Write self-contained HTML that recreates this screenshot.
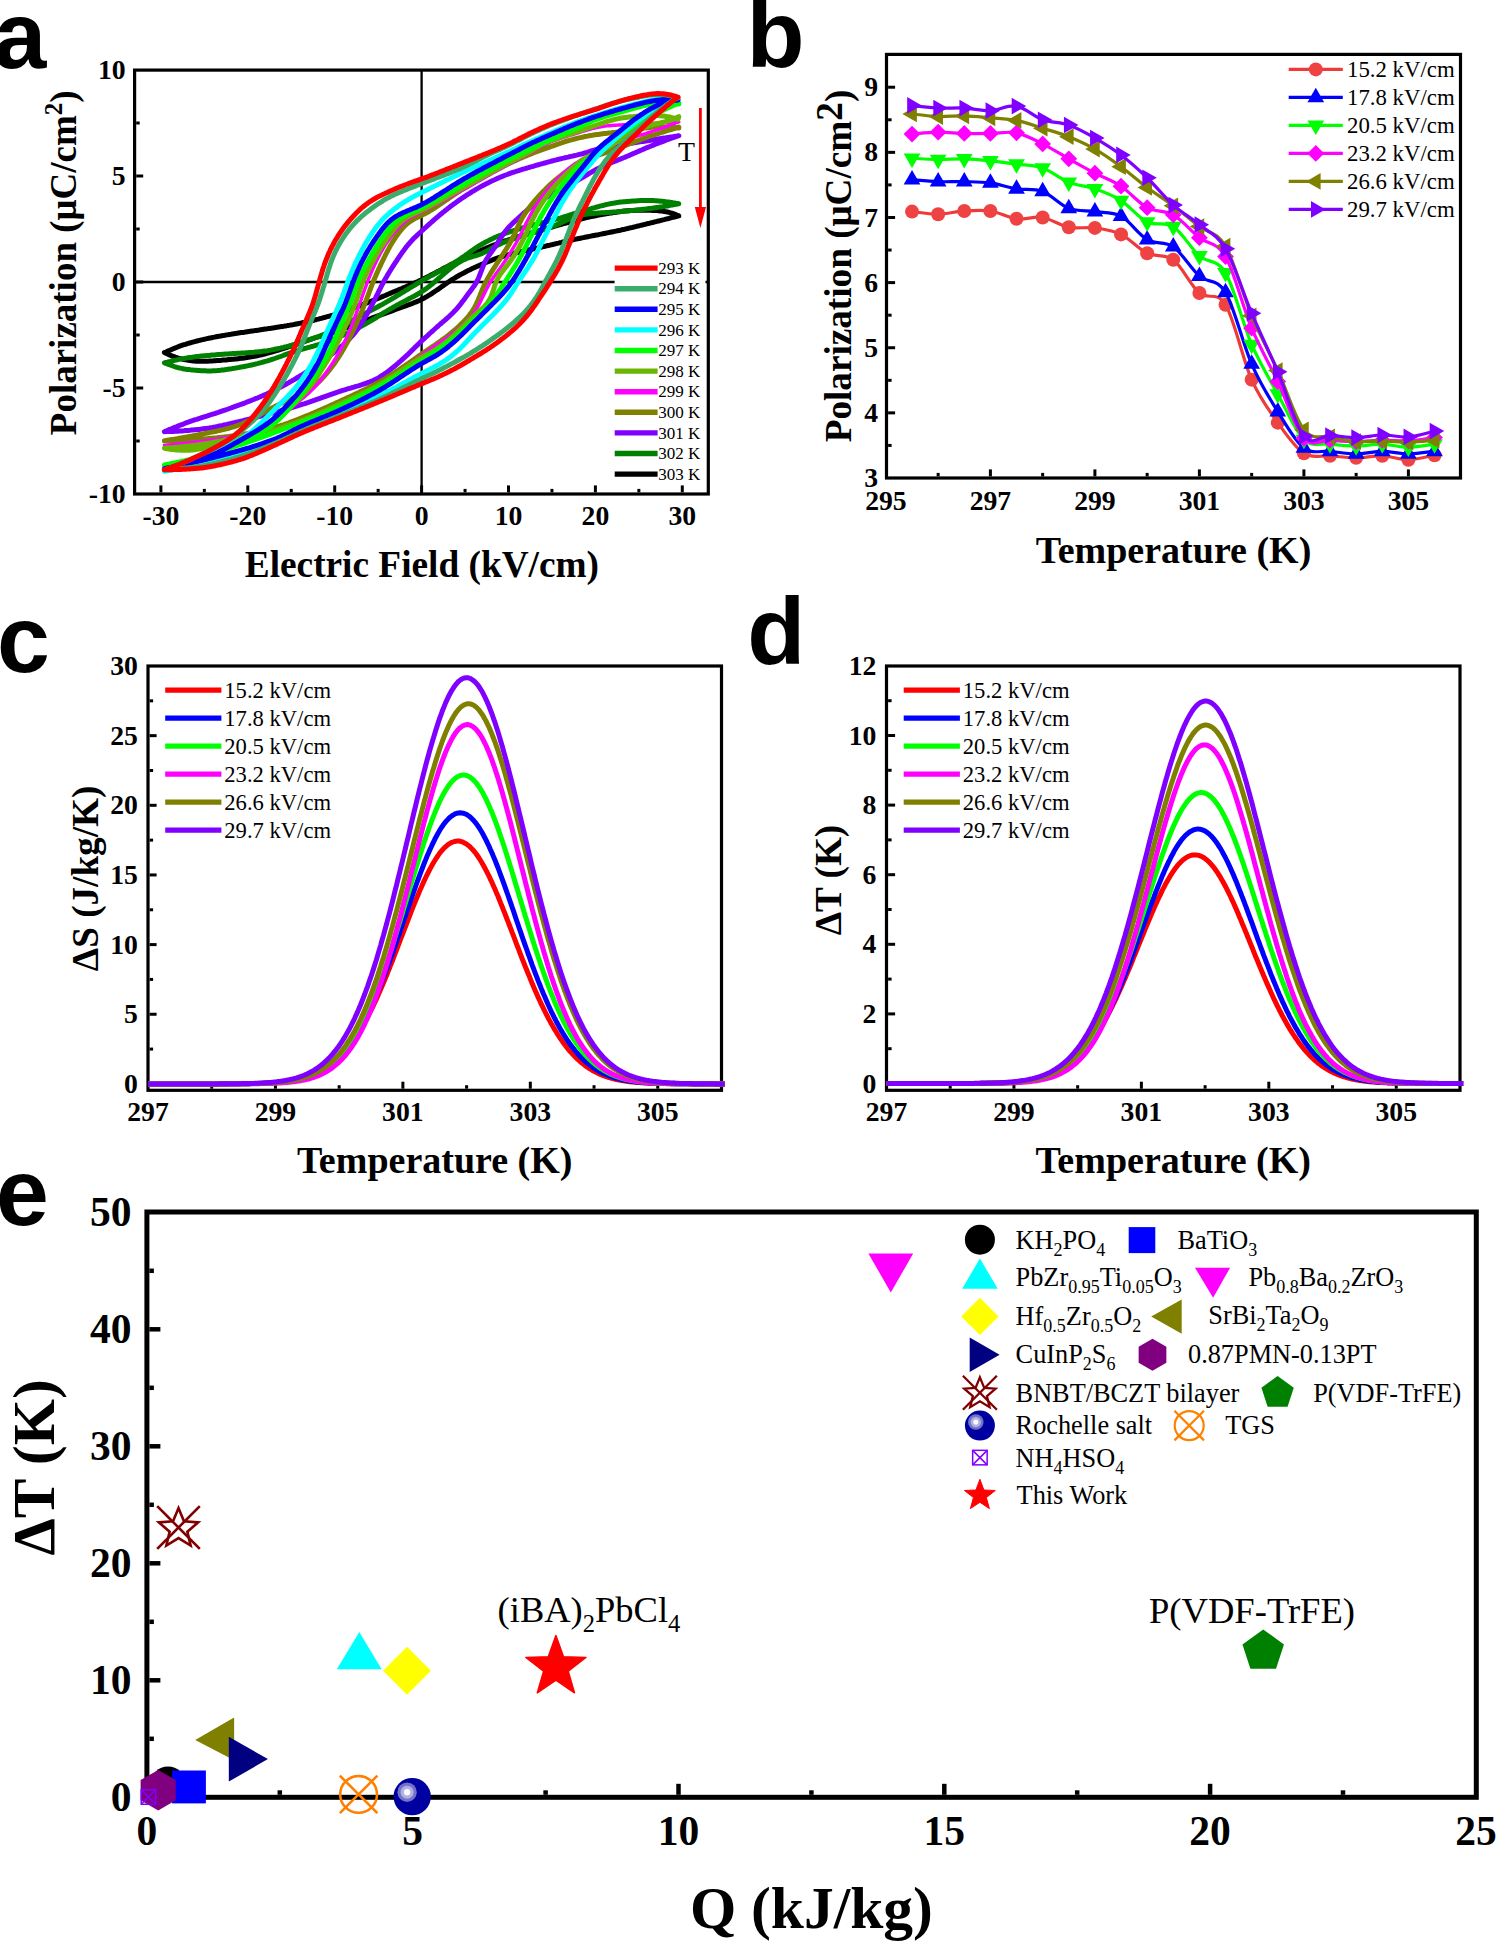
<!DOCTYPE html>
<html><head><meta charset="utf-8"><title>Figure</title>
<style>html,body{margin:0;padding:0;background:#fff;overflow:hidden}svg{display:block}</style>
</head><body>
<svg width="1496" height="1942" viewBox="0 0 1496 1942">
<rect x="0" y="0" width="1496" height="1942" fill="#fff"/>
<text x="-6.5" y="68" font-family="'Liberation Sans', sans-serif" font-size="95" font-weight="bold" text-anchor="start" fill="#000" >a</text>
<text x="746.5" y="67.3" font-family="'Liberation Sans', sans-serif" font-size="95" font-weight="bold" text-anchor="start" fill="#000" >b</text>
<text x="-3" y="672.3" font-family="'Liberation Sans', sans-serif" font-size="95" font-weight="bold" text-anchor="start" fill="#000" >c</text>
<text x="747.2" y="663.8" font-family="'Liberation Sans', sans-serif" font-size="95" font-weight="bold" text-anchor="start" fill="#000" >d</text>
<text x="-4" y="1224.5" font-family="'Liberation Sans', sans-serif" font-size="95" font-weight="bold" text-anchor="start" fill="#000" >e</text>
<line x1="134.6" y1="282" x2="708.3" y2="282" stroke="#000" stroke-width="2.3" stroke-linecap="butt"/>
<line x1="421.6" y1="70.1" x2="421.6" y2="494" stroke="#000" stroke-width="2.3" stroke-linecap="butt"/>
<path d="M678.8 215.9 677.4 215.3 676 214.7 674.6 214.2 673.2 213.7 671.8 213.2 670.4 212.8 669 212.4 667.5 212 666 211.7 664.6 211.5 663.1 211.2 661.6 211 660.1 210.9 658.6 210.7 657.1 210.6 655.6 210.5 654.1 210.4 652.6 210.4 651.1 210.3 649.6 210.3 648.1 210.2 646.6 210.2 645.1 210.2 643.6 210.2 642.1 210.2 640.5 210.2 639 210.2 637.5 210.3 636 210.3 634.5 210.4 633 210.4 631.5 210.5 630 210.6 628.5 210.7 627 210.8 625.5 210.9 624 211.1 622.5 211.3 621 211.5 619.5 211.7 618.1 211.9 616.6 212.2 615.1 212.4 613.6 212.6 612.1 212.9 610.6 213.1 609.1 213.3 607.6 213.6 606.2 213.8 604.7 214.1 603.2 214.3 601.7 214.6 600.2 214.8 598.7 215.1 597.3 215.4 595.8 215.7 594.3 216 592.8 216.3 591.3 216.6 589.9 216.9 588.4 217.2 586.9 217.6 585.5 217.9 584 218.3 582.5 218.6 581.1 219 579.6 219.4 578.2 219.7 576.7 220.1 575.3 220.5 573.8 220.9 572.3 221.3 570.9 221.7 569.4 222.1 568 222.5 566.5 222.9 565.1 223.3 563.6 223.7 562.2 224.1 560.7 224.5 559.3 224.9 557.8 225.3 556.4 225.7 554.9 226.2 553.5 226.6 552 227 550.6 227.4 549.1 227.8 547.7 228.2 546.2 228.7 544.8 229.1 543.3 229.5 541.9 229.9 540.4 230.3 539 230.7 537.5 231.1 536.1 231.5 534.6 232 533.2 232.4 531.7 232.8 530.3 233.2 528.8 233.6 527.4 234 526 234.5 524.5 234.9 523.1 235.3 521.6 235.7 520.2 236.2 518.7 236.6 517.3 237 515.9 237.5 514.4 237.9 513 238.4 511.5 238.9 510.1 239.3 508.7 239.8 507.2 240.3 505.8 240.7 504.4 241.2 503 241.7 501.6 242.2 500.1 242.7 498.7 243.3 497.3 243.8 495.9 244.3 494.5 244.8 493.1 245.4 491.7 245.9 490.3 246.5 488.9 247.1 487.5 247.7 486.1 248.2 484.7 248.8 483.3 249.4 482 250 480.6 250.6 479.2 251.2 477.8 251.8 476.4 252.5 475.1 253.1 473.7 253.7 472.3 254.3 471 255 469.6 255.6 468.2 256.2 466.9 256.9 465.5 257.5 464.1 258.2 462.8 258.8 461.4 259.5 460.1 260.1 458.7 260.8 457.4 261.4 456 262.1 454.6 262.8 453.3 263.4 452 264.1 450.6 264.8 449.3 265.5 447.9 266.2 446.6 266.9 445.3 267.6 443.9 268.3 442.6 269 441.3 269.7 439.9 270.4 438.6 271.1 437.3 271.8 436 272.5 434.6 273.2 433.3 273.9 432 274.6 430.6 275.3 429.3 276 427.9 276.7 426.6 277.4 425.2 278 423.9 278.7 422.5 279.4 421.2 280 419.8 280.6 418.4 281.3 417.1 281.9 415.7 282.5 414.3 283.1 412.9 283.7 411.6 284.3 410.2 284.9 408.8 285.5 407.4 286.1 406 286.7 404.6 287.3 403.2 287.9 401.8 288.5 400.5 289 399.1 289.6 397.7 290.2 396.3 290.8 394.9 291.4 393.5 291.9 392.1 292.5 390.7 293.1 389.3 293.7 387.9 294.3 386.6 294.9 385.2 295.5 383.8 296 382.4 296.6 381 297.2 379.6 297.8 378.2 298.4 376.8 298.9 375.4 299.5 374 300.1 372.6 300.6 371.2 301.2 369.8 301.8 368.4 302.3 367 302.9 365.6 303.4 364.2 304 362.8 304.5 361.4 305 360 305.6 358.6 306.1 357.2 306.6 355.8 307.2 354.4 307.7 353 308.2 351.5 308.8 350.1 309.3 348.7 309.8 347.3 310.3 345.9 310.8 344.5 311.3 343 311.8 341.6 312.3 340.2 312.8 338.8 313.3 337.3 313.7 335.9 314.2 334.4 314.6 333 315.1 331.6 315.5 330.1 315.9 328.7 316.3 327.2 316.7 325.8 317.1 324.3 317.5 322.9 317.9 321.4 318.3 319.9 318.7 318.5 319.1 317 319.4 315.6 319.8 314.1 320.2 312.6 320.5 311.2 320.9 309.7 321.2 308.2 321.5 306.8 321.9 305.3 322.2 303.8 322.5 302.3 322.8 300.9 323.1 299.4 323.4 297.9 323.7 296.4 324 295 324.3 293.5 324.6 292 324.9 290.5 325.1 289 325.4 287.5 325.6 286.1 325.9 284.6 326.1 283.1 326.4 281.6 326.6 280.1 326.8 278.6 327.1 277.1 327.3 275.6 327.5 274.1 327.8 272.7 328 271.2 328.2 269.7 328.4 268.2 328.6 266.7 328.9 265.2 329.1 263.7 329.3 262.2 329.5 260.7 329.7 259.2 330 257.8 330.2 256.3 330.4 254.8 330.6 253.3 330.9 251.8 331.1 250.3 331.3 248.8 331.5 247.3 331.7 245.8 331.9 244.3 332.2 242.8 332.4 241.3 332.6 239.9 332.8 238.4 333 236.9 333.3 235.4 333.5 233.9 333.7 232.4 333.9 230.9 334.2 229.4 334.4 227.9 334.7 226.5 334.9 225 335.2 223.5 335.4 222 335.7 220.5 336 219 336.2 217.6 336.5 216.1 336.8 214.6 337.1 213.1 337.4 211.7 337.7 210.2 338 208.7 338.3 207.2 338.6 205.8 338.9 204.3 339.3 202.8 339.6 201.4 339.9 199.9 340.3 198.4 340.6 197 341 195.5 341.4 194 341.8 192.6 342.2 191.1 342.6 189.7 343 188.2 343.4 186.8 343.8 185.4 344.3 183.9 344.7 182.5 345.2 181.1 345.7 179.7 346.2 178.3 346.7 176.8 347.3 175.4 347.8 174.1 348.4 172.7 349 171.3 349.6 169.9 350.2 168.5 350.8 167.1 351.4 165.8 352 164.4 352.6 165.7 353.2 167.1 353.8 168.5 354.5 169.9 355.1 171.2 355.6 172.6 356.2 174 356.7 175.5 357.2 176.9 357.6 178.3 358.1 179.8 358.5 181.2 358.8 182.7 359.2 184.1 359.5 185.6 359.8 187.1 360.1 188.6 360.3 190.1 360.6 191.5 360.8 193 360.9 194.5 361.1 196 361.2 197.5 361.2 199 361.3 200.5 361.3 202 361.3 203.5 361.3 205 361.3 206.5 361.2 208 361.2 209.5 361.1 211 361 212.5 360.9 214 360.8 215.5 360.7 217 360.6 218.5 360.5 220 360.4 221.5 360.3 223 360.1 224.5 360 226 359.9 227.5 359.7 229 359.6 230.5 359.5 232 359.3 233.5 359.2 235 359 236.5 358.9 238 358.7 239.5 358.5 241 358.3 242.5 358.2 244 358 245.5 357.8 247 357.5 248.5 357.3 249.9 357.1 251.4 356.8 252.9 356.6 254.4 356.3 255.9 356 257.3 355.7 258.8 355.4 260.3 355.1 261.7 354.8 263.2 354.4 264.7 354 266.1 353.6 267.6 353.2 269 352.8 270.5 352.4 271.9 352 273.3 351.6 274.8 351.2 276.2 350.7 277.7 350.3 279.1 349.8 280.5 349.4 282 348.9 283.4 348.5 284.8 348 286.3 347.6 287.7 347.1 289.1 346.7 290.6 346.2 292 345.7 293.4 345.3 294.9 344.8 296.3 344.3 297.7 343.8 299.1 343.3 300.6 342.9 302 342.4 303.4 341.9 304.8 341.4 306.2 340.9 307.7 340.4 309.1 339.9 310.5 339.4 311.9 339 313.4 338.5 314.8 338 316.2 337.5 317.6 337 319.1 336.6 320.5 336.1 321.9 335.6 323.4 335.2 324.8 334.7 326.2 334.3 327.7 333.8 329.1 333.3 330.5 332.9 332 332.4 333.4 331.9 334.8 331.5 336.2 331 337.7 330.5 339.1 330.1 340.5 329.6 342 329.1 343.4 328.6 344.8 328.1 346.2 327.6 347.6 327.1 349 326.6 350.5 326.1 351.9 325.5 353.3 325 354.7 324.5 356.1 324 357.5 323.4 358.9 322.9 360.3 322.4 361.7 321.9 363.1 321.4 364.6 320.8 366 320.3 367.4 319.8 368.8 319.3 370.2 318.8 371.6 318.2 373 317.7 374.5 317.2 375.9 316.7 377.3 316.2 378.7 315.7 380.1 315.2 381.5 314.7 382.9 314.2 384.4 313.6 385.8 313.1 387.2 312.6 388.6 312.1 390 311.6 391.4 311.1 392.8 310.6 394.3 310 395.7 309.5 397.1 309 398.5 308.5 399.9 308 401.3 307.5 402.7 307 404.2 306.5 405.6 306 407 305.4 408.4 304.9 409.8 304.4 411.2 303.8 412.6 303.3 414 302.7 415.4 302.2 416.8 301.6 418.2 301 419.5 300.4 420.9 299.7 422.2 299 423.6 298.4 424.9 297.7 426.2 296.9 427.5 296.2 428.8 295.4 430.1 294.6 431.3 293.8 432.6 293 433.8 292.2 435.1 291.3 436.3 290.5 437.6 289.6 438.8 288.8 440 287.9 441.3 287 442.5 286.1 443.7 285.3 444.9 284.4 446.2 283.6 447.4 282.7 448.7 281.9 449.9 281 451.2 280.2 452.4 279.4 453.7 278.6 455 277.8 456.3 277 457.6 276.3 458.9 275.5 460.2 274.8 461.5 274.1 462.8 273.4 464.2 272.7 465.5 272 466.8 271.3 468.2 270.6 469.5 270 470.9 269.3 472.3 268.6 473.6 268 475 267.4 476.3 266.7 477.7 266.1 479.1 265.5 480.5 264.9 481.8 264.3 483.2 263.7 484.6 263.1 486 262.5 487.4 261.9 488.8 261.4 490.2 260.8 491.6 260.3 493 259.7 494.4 259.2 495.8 258.7 497.2 258.2 498.6 257.7 500.1 257.2 501.5 256.8 502.9 256.4 504.4 255.9 505.8 255.5 507.3 255.1 508.7 254.7 510.2 254.3 511.6 254 513.1 253.6 514.5 253.2 516 252.9 517.5 252.5 518.9 252.2 520.4 251.8 521.9 251.5 523.3 251.1 524.8 250.8 526.3 250.5 527.7 250.2 529.2 249.8 530.7 249.5 532.1 249.2 533.6 248.9 535.1 248.5 536.5 248.2 538 247.9 539.5 247.5 541 247.2 542.4 246.9 543.9 246.5 545.3 246.2 546.8 245.8 548.3 245.5 549.7 245.2 551.2 244.8 552.7 244.5 554.1 244.1 555.6 243.8 557.1 243.4 558.5 243.1 560 242.7 561.5 242.4 562.9 242 564.4 241.7 565.9 241.4 567.3 241 568.8 240.7 570.3 240.4 571.7 240 573.2 239.7 574.7 239.4 576.1 239.1 577.6 238.8 579.1 238.5 580.5 238.2 582 237.9 583.5 237.6 585 237.3 586.4 237 587.9 236.7 589.4 236.4 590.9 236.1 592.4 235.8 593.8 235.5 595.3 235.2 596.8 234.9 598.3 234.7 599.7 234.4 601.2 234.1 602.7 233.8 604.2 233.5 605.6 233.2 607.1 232.9 608.6 232.6 610.1 232.3 611.5 232 613 231.7 614.5 231.4 616 231.1 617.4 230.8 618.9 230.5 620.4 230.2 621.8 229.8 623.3 229.5 624.8 229.2 626.2 228.8 627.7 228.5 629.2 228.1 630.6 227.8 632.1 227.5 633.6 227.1 635 226.8 636.5 226.4 637.9 226 639.4 225.7 640.9 225.3 642.3 225 643.8 224.6 645.3 224.3 646.7 223.9 648.2 223.5 649.6 223.2 651.1 222.8 652.6 222.5 654 222.1 655.5 221.7 656.9 221.4 658.4 221 659.9 220.7 661.3 220.3 662.8 219.9 664.2 219.6 665.7 219.2 667.2 218.8 668.6 218.5 670.1 218.1 671.5 217.7 673 217.3 674.5 217 675.9 216.6 677.4 216.2 678.8 215.9 Z" fill="none" stroke="#000000" stroke-width="5" stroke-linejoin="round" stroke-linecap="round" />
<path d="M678.8 203.8 677.3 203.5 675.9 203.3 674.4 203 672.9 202.8 671.4 202.5 669.9 202.3 668.4 202.1 666.9 201.9 665.5 201.7 664 201.5 662.5 201.3 661 201.2 659.5 201 658 200.9 656.5 200.8 655 200.7 653.5 200.6 652 200.6 650.5 200.5 649 200.5 647.5 200.5 646 200.5 644.5 200.5 643 200.5 641.5 200.6 640 200.6 638.5 200.7 637 200.8 635.4 200.9 633.9 201 632.4 201.1 630.9 201.2 629.4 201.3 627.9 201.4 626.5 201.5 625 201.7 623.5 201.8 622 202 620.5 202.1 619 202.3 617.5 202.5 616 202.7 614.5 203 613 203.2 611.6 203.5 610.1 203.8 608.6 204.1 607.1 204.4 605.7 204.7 604.2 205.1 602.8 205.5 601.3 205.8 599.9 206.2 598.4 206.6 596.9 207 595.5 207.4 594.1 207.8 592.6 208.2 591.2 208.7 589.7 209.1 588.3 209.5 586.8 209.9 585.4 210.3 583.9 210.7 582.5 211.1 581 211.6 579.6 212 578.2 212.4 576.7 212.9 575.3 213.3 573.8 213.7 572.4 214.2 571 214.6 569.5 215.1 568.1 215.6 566.7 216 565.2 216.5 563.8 216.9 562.4 217.3 560.9 217.8 559.5 218.2 558 218.6 556.6 219 555.1 219.5 553.7 219.9 552.2 220.2 550.8 220.6 549.3 221 547.9 221.4 546.4 221.7 545 222.1 543.5 222.5 542 222.8 540.6 223.2 539.1 223.5 537.7 223.9 536.2 224.2 534.7 224.6 533.3 225 531.8 225.3 530.4 225.7 528.9 226.1 527.5 226.5 526 226.9 524.6 227.3 523.1 227.7 521.7 228.1 520.2 228.6 518.8 229 517.3 229.4 515.9 229.9 514.5 230.3 513 230.8 511.6 231.2 510.2 231.7 508.8 232.2 507.3 232.7 505.9 233.2 504.5 233.7 503.1 234.2 501.7 234.8 500.3 235.3 498.9 235.9 497.5 236.4 496.1 237 494.8 237.6 493.4 238.3 492 238.9 490.7 239.5 489.3 240.2 488 240.9 486.6 241.6 485.3 242.3 484 243 482.7 243.7 481.4 244.5 480.1 245.3 478.8 246 477.5 246.8 476.3 247.7 475 248.5 473.8 249.3 472.5 250.2 471.3 251.1 470.1 251.9 468.9 252.8 467.7 253.7 466.4 254.6 465.2 255.5 464 256.3 462.8 257.2 461.5 258 460.3 258.9 459 259.7 457.8 260.6 456.5 261.4 455.2 262.2 454 263 452.7 263.7 451.4 264.5 450.1 265.3 448.8 266 447.5 266.7 446.2 267.5 444.9 268.2 443.5 268.9 442.2 269.7 440.9 270.4 439.6 271.1 438.3 271.8 436.9 272.5 435.6 273.3 434.3 274 433 274.7 431.6 275.4 430.3 276.1 429 276.8 427.7 277.6 426.4 278.3 425.1 279 423.7 279.8 422.4 280.5 421.1 281.3 419.8 282 418.5 282.8 417.2 283.5 415.9 284.3 414.7 285.1 413.4 285.9 412.1 286.6 410.8 287.4 409.5 288.2 408.2 289 406.9 289.8 405.6 290.5 404.4 291.3 403.1 292.1 401.8 292.9 400.5 293.7 399.2 294.5 397.9 295.2 396.7 296 395.4 296.8 394.1 297.6 392.8 298.3 391.5 299.1 390.2 299.9 388.9 300.6 387.6 301.4 386.3 302.1 385 302.9 383.7 303.6 382.4 304.4 381.1 305.1 379.7 305.8 378.4 306.5 377.1 307.2 375.8 307.9 374.4 308.6 373.1 309.3 371.8 310 370.4 310.7 369.1 311.4 367.8 312.1 366.4 312.8 365.1 313.6 363.8 314.3 362.5 315 361.1 315.7 359.8 316.4 358.5 317.1 357.2 317.9 355.9 318.6 354.6 319.3 353.2 320 351.9 320.8 350.6 321.5 349.3 322.2 348 323 346.6 323.7 345.3 324.4 344 325.1 342.7 325.8 341.3 326.5 340 327.2 338.6 327.8 337.3 328.5 336 329.2 334.6 329.8 333.2 330.5 331.9 331.1 330.5 331.8 329.1 332.4 327.8 333 326.4 333.6 325 334.1 323.6 334.7 322.2 335.2 320.8 335.7 319.4 336.3 318 336.8 316.5 337.2 315.1 337.7 313.7 338.2 312.3 338.7 310.8 339.1 309.4 339.6 308 340.1 306.5 340.5 305.1 341 303.7 341.4 302.2 341.9 300.8 342.4 299.4 342.8 297.9 343.3 296.5 343.7 295.1 344.2 293.6 344.6 292.2 345 290.7 345.5 289.3 345.9 287.8 346.3 286.4 346.7 284.9 347 283.5 347.4 282 347.7 280.6 348.1 279.1 348.4 277.6 348.7 276.1 349 274.7 349.3 273.2 349.6 271.7 349.9 270.2 350.2 268.8 350.4 267.3 350.7 265.8 350.9 264.3 351.1 262.8 351.3 261.3 351.5 259.8 351.7 258.3 351.8 256.8 352 255.3 352.1 253.8 352.3 252.3 352.4 250.8 352.5 249.3 352.6 247.8 352.7 246.3 352.8 244.8 352.9 243.3 353 241.8 353.1 240.3 353.2 238.8 353.3 237.3 353.3 235.8 353.4 234.3 353.5 232.8 353.6 231.3 353.7 229.8 353.8 228.3 353.9 226.8 354 225.3 354.1 223.8 354.2 222.3 354.3 220.8 354.4 219.3 354.5 217.8 354.6 216.3 354.7 214.8 354.9 213.3 355 211.8 355.1 210.3 355.2 208.8 355.4 207.3 355.5 205.8 355.7 204.3 355.8 202.8 356 201.3 356.1 199.8 356.3 198.4 356.5 196.9 356.6 195.4 356.8 193.9 357 192.4 357.2 190.9 357.4 189.4 357.6 187.9 357.8 186.4 358.1 185 358.3 183.5 358.6 182 358.9 180.5 359.1 179 359.4 177.6 359.7 176.1 360.1 174.6 360.4 173.2 360.7 171.7 361 170.2 361.4 168.8 361.7 167.3 362.1 165.8 362.4 164.4 362.8 165.8 363.3 167.2 363.9 168.6 364.5 170 365 171.4 365.5 172.8 366 174.2 366.5 175.6 367 177.1 367.4 178.5 367.8 180 368.1 181.5 368.4 182.9 368.7 184.4 369 185.9 369.2 187.4 369.4 188.9 369.6 190.4 369.8 191.9 369.9 193.4 370.1 194.9 370.2 196.4 370.3 197.9 370.5 199.4 370.6 200.9 370.7 202.4 370.7 203.9 370.8 205.4 370.8 206.9 370.9 208.4 370.9 209.9 370.9 211.4 370.9 212.9 370.8 214.4 370.7 215.9 370.7 217.4 370.6 218.9 370.4 220.4 370.3 221.9 370.1 223.4 370 224.9 369.8 226.4 369.6 227.9 369.3 229.4 369.1 230.9 368.9 232.3 368.6 233.8 368.4 235.3 368.1 236.8 367.9 238.3 367.6 239.8 367.3 241.2 367 242.7 366.8 244.2 366.5 245.7 366.2 247.2 365.9 248.6 365.6 250.1 365.3 251.6 365 253 364.6 254.5 364.3 256 363.9 257.4 363.6 258.9 363.2 260.4 362.8 261.8 362.4 263.3 362 264.7 361.6 266.2 361.2 267.6 360.8 269 360.3 270.5 359.9 271.9 359.4 273.3 359 274.8 358.5 276.2 358 277.6 357.5 279 357 280.5 356.5 281.9 356 283.3 355.5 284.7 354.9 286.1 354.4 287.5 353.9 289 353.4 290.4 352.9 291.8 352.4 293.2 351.9 294.7 351.5 296.1 351 297.5 350.6 299 350.1 300.4 349.7 301.9 349.3 303.3 348.9 304.8 348.5 306.2 348.1 307.7 347.7 309.1 347.3 310.6 346.9 312 346.5 313.5 346.1 314.9 345.6 316.4 345.2 317.8 344.8 319.3 344.4 320.7 343.9 322.1 343.4 323.5 343 325 342.5 326.4 342 327.8 341.5 329.2 340.9 330.6 340.4 332 339.9 333.4 339.3 334.8 338.7 336.2 338.2 337.6 337.6 339 337 340.4 336.4 341.7 335.8 343.1 335.2 344.5 334.5 345.9 333.9 347.2 333.3 348.6 332.6 349.9 332 351.3 331.3 352.7 330.7 354 330 355.4 329.3 356.7 328.6 358 328 359.4 327.3 360.7 326.6 362 325.9 363.4 325.1 364.7 324.4 366 323.7 367.3 322.9 368.6 322.2 369.9 321.4 371.2 320.7 372.5 319.9 373.8 319.1 375.1 318.3 376.4 317.5 377.6 316.7 378.9 315.9 380.2 315.1 381.5 314.3 382.7 313.5 384 312.7 385.3 311.9 386.6 311.2 387.9 310.4 389.2 309.6 390.5 308.8 391.8 308.1 393.1 307.3 394.4 306.6 395.7 305.9 397 305.1 398.4 304.4 399.7 303.7 401 303 402.4 302.3 403.7 301.6 405 300.9 406.4 300.2 407.7 299.5 409 298.8 410.4 298.1 411.7 297.4 413 296.7 414.4 296 415.7 295.3 417 294.5 418.3 293.8 419.6 293 420.8 292.2 422.1 291.4 423.4 290.6 424.6 289.7 425.8 288.9 427.1 288 428.3 287.1 429.5 286.2 430.6 285.2 431.8 284.3 433 283.3 434.1 282.4 435.3 281.4 436.4 280.4 437.6 279.4 438.7 278.4 439.8 277.4 441 276.5 442.1 275.5 443.2 274.5 444.4 273.5 445.5 272.5 446.7 271.5 447.8 270.6 449 269.6 450.1 268.6 451.3 267.7 452.5 266.8 453.7 265.9 454.9 265 456.2 264.2 457.4 263.3 458.7 262.5 460 261.8 461.3 261 462.6 260.3 463.9 259.7 465.3 259.1 466.7 258.5 468.1 258 469.5 257.5 470.9 257.1 472.4 256.6 473.8 256.2 475.2 255.8 476.7 255.3 478.1 254.8 479.5 254.3 480.9 253.8 482.3 253.3 483.7 252.6 485 252 486.4 251.3 487.7 250.6 489 249.9 490.3 249.2 491.6 248.4 492.9 247.7 494.2 247 495.6 246.3 496.9 245.6 498.2 244.9 499.6 244.2 501 243.6 502.3 243 503.7 242.4 505.1 241.9 506.5 241.3 507.9 240.8 509.3 240.3 510.8 239.8 512.2 239.3 513.6 238.8 515 238.3 516.5 237.9 517.9 237.4 519.3 237 520.8 236.5 522.2 236.1 523.7 235.6 525.1 235.2 526.6 234.8 528 234.4 529.5 233.9 530.9 233.5 532.3 233.1 533.8 232.7 535.2 232.2 536.7 231.8 538.1 231.4 539.6 230.9 541 230.5 542.4 230 543.9 229.6 545.3 229.1 546.7 228.6 548.1 228.1 549.6 227.6 551 227.1 552.4 226.5 553.8 226 555.2 225.4 556.6 224.8 557.9 224.2 559.3 223.6 560.7 223 562 222.3 563.4 221.7 564.8 221.1 566.1 220.4 567.5 219.8 568.9 219.2 570.3 218.6 571.6 218 573 217.5 574.5 217 575.9 216.5 577.3 216.1 578.7 215.6 580.2 215.3 581.7 215 583.1 214.7 584.6 214.4 586.1 214.2 587.6 214 589.1 213.8 590.6 213.7 592.1 213.5 593.6 213.4 595.1 213.3 596.6 213.2 598.1 213 599.6 212.9 601.1 212.8 602.6 212.7 604.1 212.7 605.6 212.6 607.1 212.5 608.6 212.4 610.1 212.3 611.6 212.2 613.1 212.1 614.6 212 616.1 211.9 617.6 211.8 619.1 211.7 620.6 211.5 622.1 211.4 623.6 211.3 625.1 211.1 626.6 211 628.1 210.9 629.6 210.7 631.1 210.6 632.6 210.5 634.1 210.3 635.6 210.2 637.1 210 638.6 209.8 640.1 209.7 641.6 209.5 643.1 209.3 644.6 209.2 646.1 209 647.6 208.8 649.1 208.6 650.6 208.4 652.1 208.2 653.6 208 655.1 207.8 656.6 207.6 658 207.4 659.5 207.1 661 206.9 662.5 206.7 664 206.4 665.5 206.2 667 205.9 668.5 205.7 669.9 205.4 671.4 205.1 672.9 204.9 674.4 204.6 675.9 204.3 677.3 204 678.8 203.8 Z" fill="none" stroke="#008000" stroke-width="5" stroke-linejoin="round" stroke-linecap="round" />
<path d="M678.8 135.7 677.3 136 675.8 136.2 674.4 136.4 672.9 136.7 671.4 136.9 669.9 137.1 668.4 137.4 666.9 137.6 665.4 137.9 663.9 138.1 662.5 138.3 661 138.6 659.5 138.8 658 139 656.5 139.3 655 139.5 653.5 139.7 652 140 650.6 140.2 649.1 140.5 647.6 140.7 646.1 140.9 644.6 141.2 643.1 141.4 641.6 141.6 640.1 141.9 638.7 142.1 637.2 142.3 635.7 142.6 634.2 142.8 632.7 143 631.2 143.3 629.7 143.5 628.2 143.8 626.7 144 625.3 144.2 623.8 144.5 622.3 144.7 620.8 144.9 619.3 145.2 617.8 145.4 616.3 145.7 614.9 145.9 613.4 146.2 611.9 146.4 610.4 146.7 608.9 146.9 607.4 147.2 605.9 147.4 604.5 147.7 603 148 601.5 148.3 600 148.6 598.6 149 597.1 149.3 595.7 149.7 594.2 150.1 592.8 150.5 591.3 150.9 589.9 151.4 588.5 151.8 587 152.3 585.6 152.7 584.1 153.1 582.7 153.6 581.2 154 579.8 154.3 578.3 154.7 576.9 155.1 575.4 155.4 573.9 155.8 572.5 156.1 571 156.4 569.5 156.7 568.1 157.1 566.6 157.4 565.1 157.7 563.6 158.1 562.2 158.4 560.7 158.8 559.2 159.1 557.8 159.5 556.3 159.9 554.9 160.2 553.4 160.6 552 161 550.5 161.4 549 161.8 547.6 162.2 546.1 162.6 544.7 163 543.2 163.4 541.8 163.8 540.3 164.2 538.9 164.6 537.4 165 536 165.4 534.5 165.8 533.1 166.3 531.6 166.7 530.2 167.1 528.8 167.5 527.3 168 525.9 168.4 524.4 168.8 523 169.2 521.5 169.7 520.1 170.1 518.7 170.6 517.2 171 515.8 171.5 514.4 172 512.9 172.4 511.5 172.9 510.1 173.4 508.7 173.9 507.3 174.5 505.8 175 504.4 175.5 503 176.1 501.7 176.7 500.3 177.2 498.9 177.8 497.5 178.4 496.1 179 494.7 179.7 493.4 180.3 492 180.9 490.7 181.6 489.3 182.3 488 182.9 486.6 183.6 485.3 184.3 483.9 185 482.6 185.7 481.3 186.4 480 187.1 478.7 187.9 477.4 188.6 476 189.4 474.8 190.2 473.5 190.9 472.2 191.7 470.9 192.5 469.6 193.3 468.3 194.1 467.1 194.9 465.8 195.7 464.5 196.6 463.3 197.4 462 198.2 460.8 199.1 459.6 199.9 458.3 200.8 457.1 201.7 455.9 202.5 454.7 203.4 453.4 204.3 452.2 205.2 451 206.1 449.8 207 448.6 207.9 447.4 208.9 446.2 209.8 445.1 210.7 443.9 211.7 442.7 212.6 441.6 213.6 440.4 214.5 439.2 215.5 438.1 216.5 436.9 217.4 435.8 218.4 434.6 219.4 433.5 220.4 432.4 221.4 431.3 222.4 430.1 223.4 429 224.4 427.9 225.4 426.8 226.4 425.7 227.4 424.5 228.4 423.4 229.4 422.3 230.5 421.2 231.5 420.1 232.5 419 233.5 417.9 234.5 416.8 235.6 415.7 236.6 414.6 237.7 413.5 238.7 412.5 239.8 411.5 240.9 410.5 242 409.5 243.1 408.5 244.3 407.5 245.4 406.6 246.6 405.7 247.8 404.8 249 403.9 250.2 403 251.4 402.1 252.6 401.2 253.9 400.4 255.1 399.5 256.4 398.7 257.6 397.8 258.9 397 260.1 396.2 261.4 395.3 262.6 394.5 263.9 393.7 265.1 392.9 266.4 392.1 267.7 391.3 268.9 390.5 270.2 389.7 271.5 388.9 272.8 388.1 274.1 387.3 275.4 386.6 276.7 385.8 278 385.1 279.3 384.3 280.6 383.6 281.9 382.9 283.3 382.2 284.6 381.5 285.9 380.8 287.3 380.2 288.6 379.5 290 378.8 291.3 378.2 292.7 377.5 294 376.8 295.4 376.2 296.7 375.5 298.1 374.8 299.4 374.1 300.8 373.4 302.1 372.7 303.4 372 304.8 371.3 306.1 370.6 307.4 369.9 308.7 369.2 310.1 368.5 311.4 367.7 312.7 367 314 366.3 315.3 365.5 316.6 364.8 317.9 364 319.2 363.2 320.5 362.4 321.8 361.7 323.1 360.8 324.4 360 325.6 359.2 326.9 358.3 328.1 357.5 329.3 356.6 330.5 355.6 331.7 354.7 332.9 353.7 334.1 352.8 335.2 351.8 336.3 350.7 337.4 349.7 338.5 348.7 339.6 347.6 340.7 346.5 341.7 345.4 342.7 344.3 343.7 343.2 344.8 342 345.8 340.9 346.7 339.8 347.7 338.6 348.7 337.5 349.6 336.3 350.6 335.1 351.6 334 352.5 332.8 353.4 331.6 354.4 330.4 355.3 329.2 356.2 328 357.1 326.8 358 325.6 358.9 324.4 359.8 323.2 360.7 322 361.6 320.7 362.5 319.5 363.4 318.3 364.2 317 365.1 315.8 365.9 314.5 366.8 313.3 367.6 312 368.4 310.8 369.3 309.5 370.1 308.2 370.9 307 371.7 305.7 372.5 304.4 373.3 303.2 374.1 301.9 374.9 300.6 375.7 299.3 376.5 298 377.3 296.7 378 295.4 378.8 294.1 379.6 292.8 380.3 291.5 381.1 290.2 381.8 288.9 382.6 287.6 383.3 286.3 384 285 384.8 283.6 385.5 282.3 386.2 281 386.9 279.6 387.6 278.3 388.3 277 389 275.6 389.7 274.3 390.3 272.9 391 271.6 391.6 270.2 392.3 268.8 392.9 267.5 393.6 266.1 394.2 264.7 394.8 263.3 395.4 262 396 260.6 396.6 259.2 397.2 257.8 397.8 256.4 398.3 255 398.9 253.6 399.5 252.2 400 250.8 400.6 249.4 401.1 248 401.7 246.6 402.2 245.2 402.8 243.8 403.3 242.4 403.8 241 404.3 239.5 404.9 238.1 405.4 236.7 405.9 235.3 406.4 233.9 406.9 232.5 407.4 231 408 229.6 408.5 228.2 409 226.8 409.5 225.4 410 223.9 410.4 222.5 410.9 221.1 411.4 219.7 411.9 218.2 412.4 216.8 412.8 215.4 413.3 213.9 413.8 212.5 414.2 211.1 414.7 209.6 415.1 208.2 415.6 206.8 416.1 205.3 416.5 203.9 417 202.4 417.4 201 417.9 199.6 418.3 198.1 418.8 196.7 419.3 195.3 419.7 193.9 420.2 192.4 420.7 191 421.2 189.6 421.7 188.2 422.2 186.7 422.7 185.3 423.2 183.9 423.8 182.5 424.3 181.1 424.8 179.7 425.4 178.3 425.9 176.9 426.5 175.5 427 174.1 427.6 172.7 428.2 171.3 428.8 169.9 429.3 168.5 429.9 167.2 430.5 165.8 431.1 164.4 431.7 165.9 431.6 167.4 431.6 168.9 431.6 170.4 431.5 171.9 431.5 173.4 431.4 174.9 431.3 176.4 431.3 177.9 431.2 179.4 431.1 180.9 431 182.4 430.9 183.9 430.8 185.4 430.6 186.9 430.5 188.4 430.4 189.9 430.3 191.4 430.1 192.9 430 194.4 429.8 195.9 429.7 197.4 429.5 198.9 429.4 200.4 429.2 201.9 429 203.4 428.8 204.9 428.6 206.4 428.4 207.9 428.2 209.4 428 210.8 427.7 212.3 427.5 213.8 427.2 215.3 426.9 216.8 426.6 218.2 426.3 219.7 426 221.2 425.7 222.6 425.4 224.1 425 225.6 424.7 227 424.4 228.5 424 230 423.7 231.4 423.3 232.9 423 234.4 422.6 235.8 422.3 237.3 422 238.8 421.6 240.2 421.3 241.7 420.9 243.2 420.6 244.6 420.2 246.1 419.8 247.6 419.5 249 419.1 250.5 418.8 251.9 418.4 253.4 418 254.9 417.6 256.3 417.3 257.8 416.9 259.2 416.5 260.7 416.1 262.1 415.8 263.6 415.4 265.1 415 266.5 414.6 268 414.2 269.4 413.8 270.9 413.4 272.3 413 273.8 412.7 275.2 412.3 276.7 411.9 278.1 411.5 279.6 411.1 281 410.7 282.5 410.3 283.9 409.9 285.4 409.4 286.8 409 288.3 408.6 289.7 408.2 291.2 407.8 292.6 407.4 294.1 406.9 295.5 406.5 297 406 298.4 405.6 299.8 405.2 301.3 404.7 302.7 404.2 304.1 403.8 305.6 403.3 307 402.8 308.4 402.4 309.8 401.9 311.3 401.4 312.7 400.9 314.1 400.4 315.5 399.9 316.9 399.4 318.4 398.9 319.8 398.4 321.2 397.9 322.6 397.3 324 396.8 325.5 396.3 326.9 395.8 328.3 395.3 329.7 394.8 331.1 394.3 332.5 393.8 334 393.3 335.4 392.8 336.8 392.3 338.2 391.9 339.7 391.4 341.1 390.9 342.5 390.5 344 390 345.4 389.6 346.9 389.1 348.3 388.7 349.8 388.3 351.2 387.9 352.6 387.5 354.1 387 355.5 386.6 357 386.2 358.4 385.8 359.9 385.3 361.3 384.9 362.7 384.4 364.2 383.9 365.6 383.5 367 382.9 368.4 382.4 369.8 381.9 371.2 381.3 372.6 380.7 373.9 380.1 375.3 379.4 376.6 378.8 377.9 378.1 379.3 377.3 380.5 376.5 381.8 375.7 383.1 374.9 384.3 374.1 385.5 373.2 386.8 372.3 388 371.4 389.2 370.5 390.3 369.6 391.5 368.7 392.7 367.7 393.9 366.8 395 365.8 396.2 364.8 397.3 363.9 398.5 362.9 399.6 361.9 400.8 360.9 401.9 359.9 403 358.9 404.1 357.9 405.2 356.9 406.3 355.9 407.4 354.8 408.5 353.8 409.6 352.7 410.6 351.7 411.7 350.6 412.8 349.6 413.9 348.5 414.9 347.4 416 346.4 417.1 345.3 418.2 344.3 419.3 343.2 420.3 342.2 421.4 341.2 422.5 340.1 423.6 339.1 424.7 338.1 425.8 337.1 427 336.1 428.1 335.1 429.2 334 430.3 333 431.4 332 432.6 331 433.7 330 434.8 329 435.9 328 437 327 438.2 326 439.3 325 440.4 324 441.6 323 442.7 322 443.8 321.1 445 320.1 446.1 319.1 447.2 318.1 448.4 317.1 449.5 316.1 450.6 315 451.7 314 452.7 313 453.8 311.9 454.8 310.8 455.9 309.7 456.9 308.6 457.9 307.5 458.8 306.3 459.8 305.1 460.7 304 461.6 302.8 462.5 301.6 463.4 300.4 464.3 299.2 465.2 298 466.1 296.7 467 295.5 467.9 294.3 468.8 293.1 469.7 291.9 470.6 290.7 471.5 289.5 472.4 288.3 473.3 287.1 474.2 285.9 475 284.6 475.8 283.4 476.5 282.1 477.2 280.8 477.9 279.4 478.5 278.1 479.1 276.7 479.7 275.3 480.2 273.9 480.7 272.5 481.3 271.1 481.8 269.7 482.3 268.3 482.8 266.9 483.4 265.5 484 264.1 484.6 262.8 485.3 261.4 486 260.1 486.8 258.8 487.6 257.6 488.4 256.3 489.2 255.1 490.1 253.9 491 252.6 491.9 251.4 492.7 250.2 493.6 249 494.5 247.8 495.3 246.5 496.1 245.3 497 244 497.8 242.7 498.6 241.4 499.3 240.2 500.1 238.9 500.9 237.6 501.8 236.4 502.6 235.1 503.4 233.9 504.3 232.7 505.2 231.5 506.2 230.3 507.1 229.2 508.1 228 509.1 226.9 510.2 225.9 511.2 224.8 512.3 223.7 513.4 222.7 514.5 221.7 515.6 220.6 516.7 219.6 517.8 218.6 518.9 217.6 520 216.5 521.1 215.5 522.2 214.5 523.3 213.5 524.5 212.5 525.6 211.5 526.7 210.5 527.9 209.6 529.1 208.6 530.2 207.7 531.4 206.8 532.6 205.9 533.9 205 535.1 204.1 536.4 203.3 537.6 202.5 538.9 201.7 540.2 200.9 541.4 200.1 542.7 199.3 544 198.6 545.3 197.8 546.6 197 547.9 196.3 549.3 195.6 550.6 194.8 551.9 194.1 553.2 193.4 554.5 192.7 555.9 191.9 557.2 191.2 558.5 190.5 559.8 189.8 561.2 189.1 562.5 188.4 563.8 187.7 565.2 187 566.5 186.3 567.9 185.7 569.2 184.9 570.5 184.2 571.8 183.5 573.2 182.8 574.5 182.1 575.8 181.3 577.1 180.6 578.4 179.8 579.7 179.1 581 178.3 582.3 177.6 583.6 176.8 584.9 176 586.2 175.2 587.5 174.5 588.8 173.7 590.1 172.9 591.4 172.2 592.7 171.4 594 170.7 595.3 170 596.6 169.3 598 168.6 599.3 167.9 600.7 167.3 602 166.6 603.4 166 604.8 165.4 606.2 164.8 607.5 164.2 608.9 163.6 610.3 163.1 611.7 162.5 613.1 161.9 614.5 161.4 615.9 160.8 617.3 160.3 618.7 159.7 620.1 159.2 621.5 158.6 622.9 158 624.3 157.5 625.7 156.9 627.1 156.3 628.5 155.7 629.9 155.1 631.2 154.5 632.6 153.9 634 153.3 635.4 152.7 636.8 152.1 638.1 151.5 639.5 150.9 640.9 150.3 642.3 149.7 643.6 149.1 645 148.5 646.4 147.9 647.8 147.3 649.2 146.8 650.6 146.2 652 145.6 653.4 145.1 654.8 144.5 656.2 144 657.6 143.4 659 142.9 660.4 142.3 661.8 141.8 663.2 141.3 664.6 140.8 666 140.2 667.5 139.7 668.9 139.2 670.3 138.7 671.7 138.2 673.1 137.7 674.6 137.2 676 136.7 677.4 136.2 678.8 135.7 Z" fill="none" stroke="#8000ff" stroke-width="5" stroke-linejoin="round" stroke-linecap="round" />
<path d="M678.8 127.9 677.3 127.7 675.8 127.6 674.3 127.5 672.8 127.4 671.3 127.3 669.8 127.2 668.3 127.1 666.8 127.1 665.3 127 663.8 127 662.3 126.9 660.8 126.9 659.3 126.9 657.8 127 656.3 127 654.8 127.1 653.3 127.1 651.8 127.2 650.3 127.4 648.8 127.5 647.3 127.7 645.8 127.9 644.3 128.1 642.8 128.3 641.3 128.5 639.9 128.7 638.4 129 636.9 129.2 635.4 129.5 633.9 129.8 632.4 130 631 130.3 629.5 130.5 628 130.7 626.5 131 625 131.2 623.5 131.4 622 131.6 620.5 131.8 619 131.9 617.5 132.1 616 132.3 614.5 132.5 613 132.6 611.5 132.8 610.1 132.9 608.6 133.1 607.1 133.3 605.6 133.4 604.1 133.6 602.6 133.8 601.1 134 599.6 134.2 598.1 134.4 596.6 134.6 595.1 134.8 593.6 135 592.1 135.3 590.7 135.5 589.2 135.8 587.7 136.1 586.2 136.4 584.7 136.6 583.3 137 581.8 137.3 580.3 137.6 578.9 137.9 577.4 138.3 575.9 138.6 574.5 139 573 139.4 571.6 139.8 570.1 140.2 568.7 140.6 567.2 141 565.8 141.5 564.4 141.9 562.9 142.4 561.5 142.9 560.1 143.3 558.6 143.8 557.2 144.3 555.8 144.8 554.4 145.3 553 145.8 551.5 146.3 550.1 146.8 548.7 147.3 547.3 147.8 545.9 148.3 544.4 148.8 543 149.3 541.6 149.8 540.2 150.4 538.8 150.9 537.4 151.4 536 152 534.6 152.5 533.2 153 531.8 153.6 530.4 154.2 529 154.7 527.6 155.3 526.2 155.9 524.8 156.4 523.4 157 522 157.6 520.6 158.2 519.3 158.8 517.9 159.4 516.5 160 515.1 160.7 513.8 161.3 512.4 161.9 511 162.6 509.7 163.2 508.3 163.8 507 164.5 505.6 165.2 504.3 165.8 502.9 166.5 501.6 167.2 500.2 167.9 498.9 168.6 497.6 169.3 496.2 170 494.9 170.7 493.6 171.4 492.3 172.1 490.9 172.8 489.6 173.5 488.3 174.3 487 175 485.7 175.7 484.4 176.5 483 177.2 481.7 177.9 480.4 178.7 479.1 179.4 477.8 180.2 476.5 180.9 475.2 181.7 473.9 182.5 472.6 183.2 471.3 184 470 184.7 468.7 185.5 467.4 186.3 466.1 187.1 464.9 187.9 463.6 188.6 462.3 189.4 461 190.2 459.8 191 458.5 191.9 457.2 192.7 456 193.5 454.7 194.3 453.5 195.2 452.2 196 451 196.9 449.7 197.7 448.5 198.6 447.3 199.4 446 200.3 444.8 201.1 443.5 202 442.3 202.8 441 203.7 439.8 204.5 438.5 205.4 437.3 206.2 436 207 434.8 207.8 433.5 208.7 432.2 209.5 430.9 210.2 429.7 211 428.4 211.8 427.1 212.5 425.7 213.2 424.4 214 423.1 214.6 421.7 215.3 420.4 216 419 216.6 417.7 217.3 416.3 217.9 415 218.6 413.7 219.3 412.4 220 411.1 220.8 409.9 221.6 408.7 222.5 407.5 223.4 406.4 224.4 405.3 225.4 404.2 226.4 403.2 227.5 402.2 228.6 401.3 229.8 400.3 231 399.4 232.1 398.5 233.3 397.6 234.5 396.7 235.8 395.8 237 395 238.2 394.2 239.5 393.3 240.8 392.5 242 391.8 243.3 391 244.6 390.3 245.9 389.5 247.2 388.8 248.5 388.1 249.9 387.4 251.2 386.7 252.5 386 253.9 385.3 255.2 384.7 256.6 384 257.9 383.3 259.3 382.7 260.6 382 262 381.4 263.3 380.7 264.7 380.1 266.1 379.5 267.4 378.8 268.8 378.2 270.2 377.6 271.5 377 272.9 376.4 274.3 375.8 275.7 375.2 277.1 374.6 278.4 374 279.8 373.4 281.2 372.9 282.6 372.3 284 371.8 285.4 371.2 286.8 370.7 288.2 370.2 289.6 369.6 291 369.1 292.5 368.6 293.9 368.1 295.3 367.5 296.7 367 298.1 366.5 299.5 365.9 300.9 365.4 302.3 364.8 303.7 364.3 305.1 363.7 306.5 363.1 307.9 362.6 309.3 362 310.7 361.4 312.1 360.8 313.5 360.2 314.8 359.6 316.2 359 317.6 358.4 319 357.8 320.3 357.2 321.7 356.6 323.1 355.9 324.5 355.3 325.8 354.7 327.2 354 328.6 353.4 329.9 352.7 331.3 352.1 332.6 351.4 334 350.8 335.4 350.1 336.7 349.4 338 348.8 339.4 348.1 340.7 347.4 342.1 346.7 343.4 345.9 344.7 345.2 346 344.5 347.3 343.7 348.7 343 350 342.2 351.3 341.5 352.6 340.7 353.8 339.9 355.1 339.1 356.4 338.3 357.7 337.5 358.9 336.6 360.2 335.8 361.4 334.9 362.7 334.1 363.9 333.2 365.1 332.3 366.3 331.4 367.5 330.5 368.7 329.5 369.9 328.6 371.1 327.7 372.2 326.7 373.4 325.7 374.5 324.7 375.7 323.7 376.8 322.7 377.9 321.7 379 320.7 380.1 319.6 381.2 318.5 382.2 317.4 383.2 316.3 384.2 315.2 385.2 314 386.2 312.8 387.1 311.6 388 310.4 388.8 309.2 389.7 307.9 390.5 306.6 391.3 305.3 392 304 392.8 302.7 393.5 301.4 394.2 300 394.9 298.7 395.6 297.3 396.2 296 396.9 294.6 397.5 293.2 398.1 291.9 398.7 290.5 399.3 289.1 399.9 287.7 400.5 286.4 401.2 285 401.8 283.6 402.4 282.2 403 280.9 403.6 279.5 404.3 278.1 404.9 276.8 405.6 275.4 406.2 274.1 406.9 272.8 407.6 271.4 408.3 270.1 409 268.8 409.7 267.5 410.4 266.1 411.2 264.8 411.9 263.5 412.6 262.2 413.4 260.9 414.1 259.6 414.9 258.3 415.6 257 416.3 255.6 417.1 254.3 417.8 253 418.5 251.7 419.2 250.3 419.9 249 420.6 247.6 421.2 246.3 421.9 244.9 422.5 243.5 423.1 242.2 423.7 240.8 424.3 239.4 424.8 238 425.4 236.5 425.9 235.1 426.3 233.7 426.8 232.2 427.2 230.8 427.7 229.4 428.1 227.9 428.5 226.4 428.8 225 429.2 223.5 429.6 222.1 429.9 220.6 430.2 219.1 430.6 217.7 430.9 216.2 431.2 214.7 431.5 213.2 431.8 211.8 432.1 210.3 432.4 208.8 432.7 207.3 433 205.9 433.3 204.4 433.6 202.9 433.9 201.4 434.2 200 434.5 198.5 434.8 197 435.1 195.5 435.4 194 435.6 192.6 435.9 191.1 436.2 189.6 436.5 188.1 436.8 186.6 437 185.2 437.3 183.7 437.6 182.2 437.8 180.7 438.1 179.2 438.3 177.7 438.6 176.3 438.9 174.8 439.1 173.3 439.4 171.8 439.6 170.3 439.8 168.8 440.1 167.3 440.3 165.9 440.6 164.4 440.8 165.9 440.8 167.4 440.7 168.9 440.7 170.4 440.7 171.9 440.7 173.4 440.6 174.9 440.6 176.4 440.5 177.9 440.5 179.4 440.4 180.9 440.4 182.4 440.3 183.9 440.2 185.4 440.1 186.9 440.1 188.4 440 189.9 439.9 191.4 439.8 192.9 439.7 194.5 439.6 196 439.5 197.5 439.4 199 439.3 200.5 439.2 202 439 203.5 438.9 205 438.8 206.5 438.7 208 438.6 209.5 438.4 211 438.3 212.5 438.2 214 438 215.5 437.9 217 437.8 218.5 437.6 220 437.5 221.4 437.3 222.9 437.2 224.4 437 225.9 436.8 227.4 436.7 228.9 436.5 230.4 436.3 231.9 436.1 233.4 435.9 234.9 435.7 236.4 435.4 237.9 435.2 239.3 435 240.8 434.7 242.3 434.5 243.8 434.2 245.3 433.9 246.8 433.6 248.2 433.4 249.7 433.1 251.2 432.8 252.7 432.5 254.1 432.2 255.6 431.9 257.1 431.6 258.6 431.2 260 430.9 261.5 430.6 263 430.2 264.4 429.9 265.9 429.6 267.4 429.2 268.8 428.9 270.3 428.5 271.7 428.1 273.2 427.8 274.6 427.4 276.1 427 277.5 426.6 279 426.1 280.4 425.7 281.9 425.2 283.3 424.8 284.7 424.3 286.1 423.8 287.5 423.3 289 422.8 290.4 422.2 291.8 421.7 293.2 421.2 294.6 420.6 296 420.1 297.4 419.5 298.8 419 300.2 418.4 301.6 417.9 303 417.3 304.4 416.7 305.8 416.2 307.2 415.6 308.6 415 310 414.5 311.3 413.9 312.7 413.3 314.1 412.7 315.5 412.1 316.9 411.5 318.3 410.9 319.6 410.3 321 409.7 322.4 409.1 323.8 408.5 325.2 407.9 326.5 407.3 327.9 406.7 329.3 406.1 330.6 405.4 332 404.8 333.4 404.2 334.8 403.6 336.1 402.9 337.5 402.3 338.9 401.7 340.2 401.1 341.6 400.4 343 399.8 344.3 399.2 345.7 398.6 347.1 397.9 348.4 397.3 349.8 396.7 351.2 396 352.5 395.4 353.9 394.8 355.3 394.1 356.6 393.5 358 392.8 359.4 392.2 360.7 391.5 362.1 390.9 363.4 390.2 364.8 389.6 366.1 388.9 367.5 388.2 368.8 387.5 370.1 386.8 371.5 386.2 372.8 385.5 374.1 384.8 375.5 384 376.8 383.3 378.1 382.6 379.4 381.9 380.7 381.1 382 380.4 383.3 379.6 384.6 378.9 385.9 378.1 387.2 377.3 388.5 376.5 389.8 375.7 391 374.9 392.3 374.1 393.6 373.3 394.8 372.5 396.1 371.6 397.4 370.8 398.6 370 399.9 369.1 401.1 368.3 402.4 367.5 403.6 366.6 404.8 365.8 406.1 364.9 407.3 364.1 408.6 363.2 409.8 362.3 411 361.5 412.3 360.6 413.5 359.8 414.7 358.9 416 358 417.2 357.2 418.4 356.3 419.7 355.4 420.9 354.6 422.1 353.7 423.4 352.9 424.6 352 425.9 351.2 427.1 350.3 428.4 349.5 429.6 348.6 430.8 347.8 432.1 346.9 433.3 346.1 434.6 345.2 435.8 344.4 437 343.5 438.3 342.7 439.5 341.8 440.7 340.9 441.9 340 443.2 339.2 444.4 338.3 445.6 337.4 446.8 336.4 448 335.5 449.1 334.6 450.3 333.6 451.5 332.7 452.6 331.7 453.8 330.8 454.9 329.8 456.1 328.8 457.2 327.8 458.3 326.8 459.4 325.8 460.5 324.7 461.6 323.7 462.7 322.6 463.7 321.6 464.7 320.5 465.8 319.4 466.8 318.3 467.8 317.1 468.7 316 469.6 314.8 470.5 313.6 471.4 312.4 472.3 311.1 473.1 309.9 473.8 308.6 474.6 307.3 475.3 306 476 304.7 476.6 303.3 477.2 301.9 477.9 300.6 478.4 299.2 479 297.8 479.6 296.4 480.1 295 480.7 293.6 481.3 292.2 481.8 290.8 482.4 289.4 483 288.1 483.6 286.7 484.2 285.3 484.9 283.9 485.5 282.6 486.2 281.3 486.9 279.9 487.6 278.6 488.3 277.3 489.1 276 489.9 274.7 490.6 273.4 491.4 272.1 492.2 270.8 493 269.6 493.8 268.3 494.7 267 495.5 265.8 496.3 264.5 497.1 263.2 497.9 262 498.7 260.7 499.6 259.5 500.4 258.2 501.2 256.9 502 255.7 502.9 254.4 503.7 253.2 504.5 251.9 505.3 250.6 506.1 249.4 506.9 248.1 507.7 246.8 508.5 245.5 509.3 244.2 510 242.9 510.7 241.6 511.4 240.3 512.1 239 512.8 237.6 513.5 236.3 514.1 234.9 514.8 233.5 515.4 232.2 516 230.8 516.6 229.4 517.2 228.1 517.9 226.7 518.5 225.3 519.1 224 519.8 222.6 520.5 221.3 521.2 220 521.9 218.6 522.6 217.3 523.4 216 524.2 214.8 525 213.5 525.9 212.3 526.7 211 527.6 209.8 528.5 208.6 529.4 207.4 530.3 206.2 531.2 205 532.2 203.8 533.1 202.7 534.1 201.5 535.1 200.4 536.1 199.3 537.1 198.1 538.1 197 539.1 195.9 540.1 194.8 541.1 193.7 542.2 192.6 543.2 191.5 544.3 190.4 545.3 189.4 546.4 188.3 547.5 187.3 548.5 186.2 549.6 185.2 550.7 184.2 551.8 183.2 553 182.1 554.1 181.2 555.2 180.2 556.4 179.2 557.6 178.3 558.7 177.3 559.9 176.4 561.1 175.4 562.3 174.5 563.5 173.6 564.7 172.7 565.9 171.8 567.1 171 568.4 170.1 569.6 169.2 570.8 168.4 572.1 167.6 573.4 166.8 574.6 166 575.9 165.2 577.2 164.4 578.5 163.7 579.8 162.9 581.1 162.2 582.5 161.5 583.8 160.9 585.2 160.2 586.6 159.6 587.9 159 589.3 158.5 590.7 157.9 592.1 157.4 593.5 156.8 595 156.3 596.4 155.8 597.8 155.3 599.2 154.9 600.7 154.4 602.1 153.9 603.5 153.4 604.9 152.9 606.4 152.5 607.8 152 609.2 151.5 610.6 151 612 150.5 613.4 149.9 614.9 149.4 616.3 148.9 617.7 148.4 619.1 147.8 620.5 147.3 621.9 146.7 623.3 146.2 624.7 145.7 626.1 145.1 627.5 144.6 628.9 144 630.3 143.5 631.7 143 633.1 142.4 634.5 141.9 635.9 141.3 637.3 140.8 638.8 140.3 640.2 139.8 641.6 139.2 643 138.7 644.4 138.2 645.8 137.7 647.2 137.2 648.7 136.7 650.1 136.2 651.5 135.7 652.9 135.2 654.4 134.8 655.8 134.3 657.2 133.8 658.7 133.4 660.1 132.9 661.5 132.5 663 132 664.4 131.6 665.8 131.1 667.3 130.7 668.7 130.2 670.2 129.8 671.6 129.4 673 128.9 674.5 128.5 675.9 128.1 677.4 127.7 678.8 127.2 Z" fill="none" stroke="#808000" stroke-width="5" stroke-linejoin="round" stroke-linecap="round" />
<path d="M678.8 121.9 677.3 122 675.8 122.1 674.3 122.2 672.8 122.3 671.3 122.3 669.8 122.4 668.3 122.5 666.8 122.6 665.3 122.6 663.8 122.7 662.3 122.8 660.8 122.9 659.3 123 657.8 123 656.3 123.1 654.8 123.2 653.3 123.3 651.8 123.4 650.3 123.4 648.8 123.5 647.3 123.6 645.8 123.7 644.3 123.8 642.8 123.8 641.3 123.9 639.8 124 638.3 124.1 636.8 124.2 635.3 124.2 633.7 124.3 632.2 124.4 630.7 124.4 629.2 124.5 627.7 124.6 626.2 124.7 624.7 124.7 623.2 124.8 621.7 124.9 620.2 125 618.7 125 617.2 125.1 615.7 125.2 614.2 125.3 612.7 125.4 611.2 125.5 609.7 125.7 608.2 125.8 606.7 125.9 605.2 126.1 603.7 126.3 602.3 126.5 600.8 126.8 599.3 127 597.8 127.3 596.4 127.6 594.9 128 593.4 128.3 592 128.7 590.5 129.1 589.1 129.5 587.6 129.9 586.2 130.4 584.8 130.8 583.3 131.2 581.9 131.7 580.4 132.1 579 132.6 577.6 133 576.1 133.5 574.7 133.9 573.3 134.3 571.8 134.8 570.4 135.2 568.9 135.7 567.5 136.1 566.1 136.6 564.6 137 563.2 137.5 561.8 137.9 560.3 138.4 558.9 138.9 557.5 139.4 556.1 139.9 554.7 140.4 553.3 140.9 551.9 141.5 550.5 142 549.1 142.6 547.7 143.2 546.3 143.9 545 144.5 543.7 145.2 542.3 145.9 541 146.6 539.7 147.3 538.4 148.1 537.1 148.8 535.8 149.6 534.5 150.4 533.2 151.2 531.9 151.9 530.6 152.7 529.3 153.4 528 154.2 526.7 154.9 525.4 155.6 524.1 156.3 522.7 157 521.4 157.7 520.1 158.4 518.7 159.1 517.4 159.8 516 160.5 514.7 161.2 513.4 161.8 512 162.5 510.7 163.2 509.4 163.9 508 164.6 506.7 165.3 505.4 166.1 504.1 166.8 502.7 167.5 501.4 168.2 500.1 169 498.8 169.7 497.5 170.4 496.2 171.1 494.9 171.9 493.5 172.6 492.2 173.4 490.9 174.1 489.6 174.8 488.3 175.6 487 176.3 485.7 177.1 484.4 177.8 483.1 178.6 481.8 179.3 480.5 180.1 479.2 180.8 477.8 181.5 476.5 182.3 475.2 183 473.9 183.8 472.6 184.5 471.3 185.2 470 186 468.7 186.7 467.4 187.4 466 188.2 464.7 188.9 463.4 189.6 462.1 190.3 460.8 191.1 459.4 191.8 458.1 192.5 456.8 193.2 455.5 194 454.2 194.7 452.9 195.4 451.5 196.1 450.2 196.9 448.9 197.6 447.6 198.3 446.2 199 444.9 199.7 443.6 200.4 442.3 201.2 441 201.9 439.6 202.6 438.3 203.3 437 204 435.6 204.7 434.3 205.4 433 206.1 431.7 206.8 430.3 207.5 429 208.2 427.6 208.9 426.3 209.6 425 210.3 423.6 210.9 422.3 211.6 420.9 212.3 419.6 212.9 418.2 213.6 416.9 214.2 415.5 214.9 414.2 215.6 412.9 216.3 411.6 217.1 410.3 217.8 409 218.6 407.8 219.5 406.6 220.3 405.4 221.2 404.2 222.2 403.1 223.2 402 224.2 400.9 225.2 399.9 226.3 398.8 227.3 397.8 228.5 396.8 229.6 395.8 230.7 394.9 231.9 393.9 233 393 234.2 392 235.4 391.1 236.6 390.2 237.8 389.3 239 388.5 240.2 387.6 241.4 386.8 242.7 385.9 243.9 385.1 245.2 384.3 246.5 383.6 247.8 382.8 249.1 382.1 250.4 381.3 251.7 380.6 253 379.9 254.3 379.2 255.7 378.5 257 377.8 258.3 377.2 259.7 376.5 261 375.8 262.4 375.2 263.7 374.5 265.1 373.9 266.5 373.3 267.8 372.7 269.2 372.1 270.6 371.5 272 370.9 273.4 370.3 274.8 369.8 276.1 369.2 277.5 368.6 278.9 368.1 280.3 367.6 281.7 367 283.1 366.5 284.6 366 286 365.5 287.4 364.9 288.8 364.4 290.2 363.9 291.6 363.4 293 362.9 294.5 362.4 295.9 361.9 297.3 361.4 298.7 361 300.2 360.5 301.6 360 303 359.4 304.4 358.9 305.8 358.4 307.2 357.9 308.7 357.4 310.1 356.9 311.5 356.4 312.9 355.9 314.3 355.3 315.7 354.8 317.1 354.3 318.5 353.8 319.9 353.2 321.4 352.7 322.8 352.1 324.2 351.6 325.6 351 326.9 350.4 328.3 349.9 329.7 349.3 331.1 348.7 332.5 348.1 333.9 347.5 335.3 346.9 336.7 346.3 338 345.7 339.4 345.1 340.8 344.4 342.1 343.8 343.5 343.1 344.8 342.4 346.2 341.7 347.5 341 348.8 340.3 350.2 339.6 351.5 338.9 352.8 338.1 354.1 337.3 355.4 336.6 356.7 335.8 358 335 359.2 334.2 360.5 333.4 361.8 332.6 363.1 331.8 364.3 330.9 365.6 330.1 366.8 329.3 368.1 328.4 369.3 327.6 370.6 326.7 371.8 325.9 373 325 374.3 324.1 375.5 323.2 376.7 322.3 377.9 321.4 379.1 320.5 380.3 319.6 381.5 318.6 382.6 317.7 383.8 316.7 384.9 315.7 386 314.7 387.1 313.6 388.2 312.6 389.3 311.5 390.3 310.4 391.4 309.3 392.4 308.2 393.4 307.1 394.4 305.9 395.4 304.8 396.4 303.7 397.4 302.5 398.4 301.4 399.3 300.3 400.3 299.1 401.3 298 402.3 296.8 403.3 295.7 404.3 294.6 405.2 293.4 406.2 292.3 407.2 291.1 408.2 290 409.1 288.8 410.1 287.7 411.1 286.6 412.1 285.4 413.1 284.3 414.1 283.1 415 282 416 280.9 417 279.7 418 278.6 419 277.4 419.9 276.3 420.9 275.1 421.8 273.9 422.7 272.7 423.5 271.4 424.4 270.2 425.2 268.9 425.9 267.6 426.7 266.2 427.3 264.9 428 263.5 428.6 262.1 429.1 260.7 429.6 259.3 430.1 257.9 430.6 256.4 431 255 431.4 253.5 431.8 252.1 432.2 250.6 432.6 249.2 433 247.7 433.3 246.2 433.6 244.8 433.9 243.3 434.3 241.8 434.6 240.4 434.9 238.9 435.1 237.4 435.4 235.9 435.7 234.4 436 233 436.3 231.5 436.5 230 436.8 228.5 437.1 227 437.4 225.6 437.6 224.1 437.9 222.6 438.1 221.1 438.4 219.6 438.6 218.1 438.9 216.7 439.1 215.2 439.3 213.7 439.6 212.2 439.8 210.7 440 209.2 440.2 207.7 440.4 206.2 440.7 204.8 440.9 203.3 441.1 201.8 441.3 200.3 441.5 198.8 441.6 197.3 441.8 195.8 442 194.3 442.2 192.8 442.4 191.3 442.6 189.8 442.7 188.3 442.9 186.8 443.1 185.3 443.2 183.8 443.4 182.4 443.6 180.9 443.7 179.4 443.9 177.9 444 176.4 444.2 174.9 444.3 173.4 444.4 171.9 444.6 170.4 444.7 168.9 444.9 167.4 445 165.9 445.1 164.4 445.2 165.9 445.2 167.4 445.2 168.9 445.2 170.4 445.2 171.9 445.2 173.4 445.2 174.9 445.2 176.4 445.2 177.9 445.2 179.4 445.2 180.9 445.2 182.4 445.2 183.9 445.2 185.4 445.2 186.9 445.2 188.4 445.2 190 445.2 191.5 445.2 193 445.2 194.5 445.2 196 445.2 197.5 445.2 199 445.2 200.5 445.2 202 445.2 203.5 445.1 205 445.1 206.5 445 208 444.9 209.5 444.8 211 444.7 212.5 444.5 214 444.3 215.5 444.1 216.9 443.9 218.4 443.7 219.9 443.4 221.4 443.1 222.8 442.8 224.3 442.5 225.8 442.2 227.2 441.8 228.7 441.5 230.2 441.1 231.6 440.8 233.1 440.4 234.6 440 236 439.7 237.5 439.3 238.9 438.9 240.4 438.6 241.9 438.2 243.3 437.9 244.8 437.5 246.2 437.2 247.7 436.8 249.2 436.5 250.6 436.2 252.1 435.8 253.6 435.5 255.1 435.2 256.5 434.9 258 434.5 259.5 434.2 260.9 433.9 262.4 433.6 263.9 433.2 265.3 432.9 266.8 432.6 268.3 432.3 269.7 431.9 271.2 431.6 272.7 431.2 274.1 430.9 275.6 430.5 277.1 430.2 278.5 429.8 280 429.5 281.4 429.1 282.9 428.7 284.4 428.4 285.8 428 287.3 427.6 288.7 427.2 290.2 426.8 291.6 426.4 293.1 426 294.5 425.6 296 425.2 297.4 424.7 298.8 424.3 300.3 423.9 301.7 423.4 303.1 422.9 304.6 422.5 306 422 307.4 421.5 308.8 421 310.2 420.5 311.7 420 313.1 419.4 314.5 418.9 315.9 418.4 317.3 417.8 318.7 417.3 320.1 416.7 321.5 416.1 322.9 415.6 324.2 415 325.6 414.4 327 413.8 328.4 413.2 329.8 412.6 331.2 412 332.5 411.4 333.9 410.8 335.3 410.2 336.7 409.6 338.1 409 339.4 408.4 340.8 407.8 342.2 407.2 343.6 406.6 344.9 406 346.3 405.3 347.7 404.7 349 404.1 350.4 403.5 351.8 402.8 353.1 402.2 354.5 401.5 355.8 400.9 357.2 400.2 358.6 399.6 359.9 398.9 361.2 398.3 362.6 397.6 363.9 396.9 365.3 396.2 366.6 395.5 367.9 394.8 369.3 394.1 370.6 393.4 371.9 392.6 373.2 391.9 374.5 391.1 375.8 390.4 377.1 389.6 378.4 388.8 379.7 388 380.9 387.2 382.2 386.4 383.4 385.6 384.7 384.7 385.9 383.9 387.1 383 388.3 382.1 389.5 381.2 390.7 380.3 391.9 379.4 393.1 378.5 394.3 377.5 395.5 376.6 396.6 375.6 397.8 374.7 399 373.7 400.1 372.8 401.3 371.8 402.4 370.8 403.6 369.9 404.7 368.9 405.9 367.9 407 367 408.2 366 409.3 365 410.5 364.1 411.6 363.1 412.8 362.1 414 361.2 415.1 360.3 416.3 359.3 417.5 358.4 418.7 357.5 419.9 356.6 421.1 355.6 422.3 354.7 423.5 353.9 424.7 353 426 352.1 427.2 351.2 428.4 350.4 429.7 349.5 430.9 348.7 432.2 347.9 433.4 347 434.7 346.2 435.9 345.4 437.2 344.5 438.4 343.7 439.7 342.8 440.9 342 442.2 341.2 443.4 340.3 444.6 339.5 445.9 338.6 447.1 337.7 448.3 336.8 449.5 336 450.7 335.1 451.9 334.1 453.1 333.2 454.3 332.3 455.5 331.4 456.6 330.4 457.8 329.5 459 328.5 460.1 327.5 461.2 326.5 462.4 325.5 463.5 324.5 464.6 323.5 465.7 322.5 466.7 321.4 467.8 320.3 468.8 319.2 469.8 318.1 470.8 317 471.7 315.8 472.7 314.7 473.5 313.4 474.4 312.2 475.2 311 476 309.7 476.8 308.4 477.6 307.1 478.3 305.8 479 304.5 479.7 303.2 480.4 301.8 481 300.5 481.7 299.1 482.3 297.8 483 296.4 483.6 295.1 484.3 293.7 485 292.4 485.6 291 486.3 289.7 487 288.3 487.7 287 488.4 285.7 489.1 284.4 489.9 283.1 490.6 281.8 491.4 280.5 492.2 279.2 493.1 278 493.9 276.7 494.8 275.5 495.6 274.3 496.5 273 497.4 271.8 498.3 270.6 499.1 269.4 500 268.2 500.9 266.9 501.8 265.7 502.6 264.5 503.5 263.2 504.3 262 505.2 260.8 506 259.5 506.9 258.3 507.7 257 508.5 255.7 509.3 254.4 510.1 253.2 510.9 251.9 511.6 250.6 512.4 249.3 513.2 248 513.9 246.7 514.7 245.4 515.4 244.1 516.2 242.8 516.9 241.5 517.6 240.2 518.3 238.8 519 237.5 519.7 236.2 520.4 234.8 521.1 233.5 521.7 232.1 522.4 230.8 523.1 229.4 523.7 228.1 524.4 226.7 525 225.4 525.7 224 526.4 222.7 527.1 221.3 527.8 220 528.5 218.7 529.2 217.4 529.9 216 530.6 214.7 531.4 213.4 532.1 212.1 532.9 210.8 533.6 209.5 534.4 208.2 535.2 206.9 536 205.7 536.8 204.4 537.6 203.1 538.4 201.9 539.3 200.6 540.1 199.4 541 198.2 541.9 197 542.8 195.7 543.7 194.6 544.6 193.4 545.5 192.2 546.5 191 547.4 189.9 548.4 188.7 549.4 187.6 550.4 186.4 551.4 185.3 552.4 184.2 553.4 183.1 554.4 182 555.5 180.9 556.5 179.8 557.6 178.7 558.6 177.7 559.7 176.6 560.8 175.6 561.9 174.5 563 173.5 564.1 172.5 565.2 171.5 566.3 170.5 567.4 169.5 568.6 168.5 569.8 167.6 571 166.7 572.2 165.8 573.4 164.9 574.6 164 575.8 163.2 577.1 162.4 578.4 161.6 579.6 160.8 580.9 160 582.2 159.2 583.5 158.5 584.8 157.7 586.2 157 587.5 156.3 588.8 155.6 590.1 154.9 591.5 154.2 592.8 153.5 594.1 152.8 595.5 152.1 596.8 151.5 598.2 150.8 599.5 150.1 600.9 149.5 602.2 148.8 603.6 148.2 605 147.6 606.3 147 607.7 146.4 609.1 145.8 610.5 145.2 611.9 144.6 613.3 144.1 614.7 143.5 616.1 143 617.5 142.5 618.9 141.9 620.3 141.4 621.7 141 623.2 140.5 624.6 140 626 139.5 627.5 139.1 628.9 138.6 630.3 138.2 631.8 137.7 633.2 137.3 634.7 136.9 636.1 136.4 637.5 136 639 135.6 640.4 135.1 641.9 134.7 643.3 134.3 644.7 133.8 646.2 133.4 647.6 132.9 649 132.4 650.5 132 651.9 131.5 653.3 131 654.7 130.5 656.2 130 657.6 129.6 659 129.1 660.4 128.6 661.8 128.1 663.3 127.6 664.7 127.1 666.1 126.6 667.5 126.1 668.9 125.5 670.3 125 671.8 124.5 673.2 124 674.6 123.5 676 123 677.4 122.5 678.8 121.9 Z" fill="none" stroke="#ff00ff" stroke-width="3.4" stroke-linejoin="round" stroke-linecap="round" />
<path d="M678 119.4 676.5 119 675.1 118.5 673.6 118.1 672.2 117.7 670.7 117.3 669.3 117 667.8 116.7 666.3 116.5 664.9 116.2 663.4 116 661.9 115.9 660.4 115.8 658.9 115.7 657.4 115.6 655.9 115.6 654.4 115.5 652.9 115.5 651.4 115.5 649.9 115.6 648.4 115.6 646.9 115.7 645.4 115.7 643.9 115.8 642.4 115.9 640.9 116 639.3 116.1 637.8 116.2 636.3 116.3 634.8 116.4 633.3 116.6 631.8 116.7 630.3 116.8 628.9 117 627.4 117.2 625.9 117.4 624.4 117.6 622.9 117.8 621.4 118 619.9 118.3 618.5 118.6 617 118.9 615.5 119.2 614.1 119.6 612.6 120 611.2 120.4 609.7 120.8 608.3 121.2 606.8 121.7 605.4 122.1 604 122.6 602.5 123.1 601.1 123.5 599.7 124 598.3 124.5 596.8 125 595.4 125.5 594 126 592.6 126.5 591.1 127 589.7 127.4 588.3 127.9 586.9 128.4 585.4 128.9 584 129.4 582.6 129.8 581.2 130.3 579.7 130.8 578.3 131.3 576.9 131.7 575.4 132.2 574 132.7 572.6 133.2 571.1 133.6 569.7 134.1 568.3 134.6 566.9 135 565.4 135.5 564 136 562.6 136.5 561.1 136.9 559.7 137.4 558.3 137.9 556.8 138.3 555.4 138.8 554 139.3 552.6 139.8 551.2 140.3 549.7 140.8 548.3 141.3 547 141.9 545.6 142.5 544.2 143.1 542.9 143.8 541.6 144.5 540.3 145.2 539 146 537.7 146.8 536.4 147.6 535.1 148.4 533.9 149.2 532.6 150 531.3 150.7 530 151.5 528.7 152.3 527.4 153 526.1 153.8 524.8 154.5 523.5 155.2 522.1 155.9 520.8 156.6 519.4 157.3 518.1 158 516.8 158.6 515.4 159.3 514.1 160 512.7 160.7 511.4 161.4 510.1 162.1 508.7 162.8 507.4 163.5 506.1 164.2 504.7 164.9 503.4 165.6 502.1 166.3 500.8 167 499.4 167.7 498.1 168.5 496.8 169.2 495.5 169.9 494.1 170.6 492.8 171.3 491.5 172.1 490.2 172.8 488.9 173.5 487.5 174.2 486.2 175 484.9 175.7 483.6 176.4 482.3 177.1 480.9 177.9 479.6 178.6 478.3 179.3 477 180 475.7 180.8 474.3 181.5 473 182.2 471.7 182.9 470.4 183.7 469.1 184.4 467.7 185.1 466.4 185.8 465.1 186.6 463.8 187.3 462.5 188 461.2 188.8 459.8 189.5 458.5 190.2 457.2 191 455.9 191.7 454.6 192.4 453.3 193.2 452 193.9 450.6 194.6 449.3 195.4 448 196.1 446.7 196.8 445.4 197.6 444.1 198.3 442.8 199 441.4 199.8 440.1 200.5 438.8 201.2 437.5 202 436.2 202.7 434.8 203.4 433.5 204.1 432.2 204.8 430.9 205.5 429.5 206.2 428.2 206.9 426.8 207.6 425.5 208.3 424.2 209 422.8 209.6 421.4 210.3 420.1 210.9 418.7 211.5 417.3 212.2 416 212.8 414.6 213.4 413.2 214 411.9 214.7 410.5 215.3 409.2 216 407.9 216.8 406.6 217.5 405.4 218.3 404.1 219.2 403 220.1 401.8 221 400.7 222 399.6 223 398.5 224 397.5 225.1 396.5 226.2 395.5 227.3 394.5 228.5 393.6 229.7 392.6 230.8 391.7 232 390.8 233.2 389.9 234.4 389 235.6 388.1 236.9 387.2 238.1 386.4 239.3 385.5 240.5 384.6 241.8 383.8 243 383 244.3 382.1 245.5 381.3 246.8 380.5 248.1 379.7 249.3 378.9 250.6 378.2 251.9 377.4 253.2 376.6 254.5 375.9 255.8 375.1 257.1 374.4 258.4 373.7 259.7 372.9 261.1 372.2 262.4 371.5 263.7 370.8 265 370.1 266.4 369.4 267.7 368.7 269 368 270.4 367.3 271.7 366.7 273.1 366.1 274.4 365.4 275.8 364.8 277.2 364.2 278.6 363.6 280 363.1 281.3 362.5 282.7 362 284.2 361.5 285.6 361 287 360.5 288.4 360 289.8 359.5 291.3 359 292.7 358.5 294.1 358.1 295.5 357.6 297 357.1 298.4 356.6 299.8 356.1 301.2 355.6 302.6 355.1 304.1 354.5 305.5 354 306.9 353.4 308.3 352.8 309.6 352.3 311 351.7 312.4 351.1 313.8 350.5 315.2 349.8 316.5 349.2 317.9 348.6 319.3 348 320.7 347.3 322 346.7 323.4 346.1 324.8 345.5 326.1 344.8 327.5 344.2 328.9 343.6 330.2 342.9 331.6 342.3 333 341.7 334.3 341 335.7 340.4 337.1 339.7 338.4 339.1 339.8 338.4 341.1 337.7 342.4 337 343.8 336.3 345.1 335.6 346.5 334.9 347.8 334.2 349.1 333.4 350.4 332.7 351.7 332 353 331.2 354.3 330.4 355.6 329.7 356.9 328.9 358.2 328.1 359.5 327.3 360.8 326.5 362.1 325.7 363.3 324.9 364.6 324.1 365.9 323.3 367.2 322.5 368.4 321.7 369.7 320.9 370.9 320 372.2 319.2 373.5 318.4 374.7 317.5 376 316.7 377.2 315.8 378.4 314.9 379.7 314.1 380.9 313.2 382.1 312.3 383.3 311.4 384.5 310.5 385.7 309.6 386.9 308.6 388.1 307.7 389.3 306.7 390.4 305.8 391.6 304.8 392.7 303.8 393.8 302.8 395 301.7 396.1 300.7 397.2 299.7 398.2 298.6 399.3 297.6 400.4 296.5 401.4 295.4 402.5 294.3 403.5 293.2 404.5 292.1 405.6 291 406.6 289.9 407.6 288.8 408.6 287.7 409.6 286.5 410.6 285.4 411.7 284.3 412.7 283.2 413.7 282.1 414.7 281 415.7 279.9 416.8 278.8 417.8 277.7 418.8 276.5 419.8 275.4 420.7 274.2 421.7 273.1 422.6 271.9 423.6 270.7 424.4 269.4 425.3 268.2 426.1 266.9 426.9 265.6 427.6 264.3 428.3 262.9 429 261.6 429.6 260.2 430.2 258.8 430.8 257.4 431.3 256 431.8 254.6 432.3 253.2 432.8 251.7 433.3 250.3 433.7 248.9 434.2 247.4 434.6 246 435 244.5 435.4 243.1 435.8 241.6 436.2 240.2 436.5 238.7 436.9 237.2 437.3 235.8 437.6 234.3 438 232.8 438.3 231.4 438.6 229.9 439 228.4 439.3 227 439.6 225.5 439.9 224 440.3 222.5 440.6 221.1 440.9 219.6 441.2 218.1 441.5 216.6 441.8 215.2 442.1 213.7 442.3 212.2 442.6 210.7 442.9 209.2 443.1 207.8 443.4 206.3 443.6 204.8 443.9 203.3 444.1 201.8 444.3 200.3 444.6 198.8 444.8 197.3 445 195.8 445.2 194.3 445.4 192.9 445.5 191.4 445.7 189.9 445.9 188.4 446.1 186.9 446.2 185.4 446.4 183.9 446.6 182.4 446.7 180.9 446.9 179.4 447 177.9 447.2 176.4 447.3 174.9 447.4 173.4 447.6 171.9 447.7 170.4 447.8 168.9 447.9 167.4 448 165.9 448.1 164.4 448.2 165.9 448.5 167.3 448.7 168.8 448.9 170.3 449.2 171.8 449.4 173.3 449.6 174.8 449.7 176.3 449.9 177.8 450 179.3 450.1 180.8 450.2 182.3 450.3 183.8 450.3 185.3 450.3 186.8 450.3 188.3 450.3 189.8 450.2 191.3 450.1 192.8 449.9 194.3 449.8 195.8 449.6 197.2 449.4 198.7 449.1 200.2 448.9 201.7 448.6 203.2 448.3 204.6 448 206.1 447.7 207.6 447.4 209.1 447.1 210.5 446.8 212 446.5 213.5 446.2 215 445.9 216.4 445.6 217.9 445.3 219.4 444.9 220.8 444.6 222.3 444.3 223.8 444 225.2 443.6 226.7 443.3 228.2 442.9 229.6 442.6 231.1 442.2 232.6 441.8 234 441.5 235.5 441.1 236.9 440.7 238.4 440.3 239.8 439.9 241.3 439.6 242.8 439.2 244.2 438.8 245.7 438.4 247.1 438 248.6 437.6 250 437.2 251.5 436.8 252.9 436.4 254.4 436 255.8 435.6 257.3 435.1 258.7 434.7 260.2 434.3 261.6 433.9 263 433.5 264.5 433 265.9 432.6 267.4 432.2 268.8 431.7 270.2 431.3 271.7 430.8 273.1 430.4 274.6 429.9 276 429.5 277.4 429 278.9 428.5 280.3 428.1 281.7 427.6 283.1 427.1 284.6 426.7 286 426.2 287.4 425.7 288.8 425.2 290.3 424.7 291.7 424.2 293.1 423.7 294.5 423.2 295.9 422.7 297.4 422.2 298.8 421.7 300.2 421.1 301.6 420.6 303 420.1 304.4 419.5 305.8 419 307.2 418.4 308.6 417.9 310 417.3 311.4 416.7 312.8 416.1 314.2 415.5 315.5 415 316.9 414.4 318.3 413.8 319.7 413.2 321.1 412.5 322.4 411.9 323.8 411.3 325.2 410.7 326.6 410.1 327.9 409.5 329.3 408.8 330.7 408.2 332 407.6 333.4 407 334.8 406.3 336.1 405.7 337.5 405.1 338.9 404.5 340.2 403.8 341.6 403.2 343 402.6 344.4 401.9 345.7 401.3 347.1 400.7 348.5 400 349.8 399.4 351.2 398.8 352.5 398.1 353.9 397.5 355.3 396.9 356.6 396.2 358 395.6 359.4 394.9 360.7 394.3 362.1 393.6 363.4 393 364.8 392.3 366.1 391.6 367.5 391 368.8 390.3 370.1 389.6 371.5 388.9 372.8 388.2 374.1 387.5 375.5 386.8 376.8 386.1 378.1 385.3 379.4 384.6 380.7 383.9 382 383.1 383.3 382.3 384.6 381.6 385.9 380.8 387.2 380 388.5 379.2 389.7 378.4 391 377.6 392.3 376.7 393.5 375.9 394.8 375.1 396 374.2 397.3 373.4 398.5 372.5 399.7 371.7 401 370.8 402.2 370 403.5 369.1 404.7 368.3 406 367.4 407.2 366.6 408.5 365.8 409.7 364.9 411 364.1 412.2 363.3 413.5 362.4 414.7 361.6 416 360.8 417.3 360 418.6 359.2 419.9 358.4 421.1 357.7 422.4 356.9 423.8 356.2 425.1 355.5 426.4 354.7 427.7 354 429 353.3 430.4 352.6 431.7 351.8 433 351.1 434.3 350.3 435.6 349.6 436.8 348.8 438.1 348 439.4 347.1 440.6 346.3 441.8 345.4 443 344.5 444.2 343.6 445.4 342.7 446.6 341.7 447.7 340.8 448.9 339.8 450 338.8 451.1 337.8 452.2 336.8 453.4 335.8 454.5 334.8 455.6 333.7 456.7 332.7 457.8 331.7 458.9 330.6 459.9 329.6 461 328.6 462.1 327.5 463.2 326.4 464.2 325.4 465.3 324.3 466.3 323.2 467.4 322.2 468.5 321.1 469.5 320 470.6 319 471.7 317.9 472.8 316.9 473.9 315.9 475 314.9 476.1 313.9 477.2 312.9 478.4 311.9 479.5 310.9 480.6 309.9 481.8 308.9 482.9 307.9 483.9 306.9 485 305.8 485.9 304.7 486.9 303.6 487.8 302.4 488.6 301.2 489.4 299.9 490.1 298.6 490.7 297.3 491.3 295.9 491.8 294.5 492.3 293.1 492.8 291.7 493.3 290.3 493.7 288.9 494.2 287.4 494.6 286 495.1 284.6 495.6 283.2 496.2 281.8 496.8 280.5 497.5 279.1 498.1 277.8 498.9 276.5 499.7 275.2 500.5 274 501.4 272.8 502.2 271.6 503.2 270.4 504.1 269.2 505 268 506 266.9 506.9 265.7 507.8 264.5 508.7 263.3 509.6 262.1 510.5 260.9 511.4 259.6 512.2 258.4 513 257.2 513.9 255.9 514.7 254.6 515.5 253.3 516.2 252 517 250.8 517.8 249.5 518.5 248.2 519.3 246.8 520 245.5 520.7 244.2 521.4 242.9 522.1 241.5 522.8 240.2 523.5 238.9 524.1 237.5 524.8 236.2 525.4 234.8 526.1 233.4 526.7 232.1 527.3 230.7 527.9 229.3 528.6 228 529.2 226.6 529.8 225.2 530.4 223.8 531.1 222.5 531.7 221.1 532.4 219.8 533.1 218.4 533.8 217.1 534.5 215.8 535.2 214.4 535.9 213.1 536.6 211.8 537.4 210.5 538.1 209.2 538.9 207.9 539.7 206.6 540.5 205.3 541.3 204.1 542.1 202.8 542.9 201.6 543.8 200.3 544.6 199.1 545.5 197.8 546.4 196.6 547.3 195.4 548.2 194.2 549.1 193 550 191.9 551 190.7 551.9 189.5 552.9 188.4 553.9 187.2 554.9 186.1 555.9 185 556.9 183.8 557.9 182.7 558.9 181.6 559.9 180.5 561 179.4 562 178.3 563.1 177.3 564.1 176.2 565.2 175.1 566.2 174.1 567.3 173 568.4 172 569.5 170.9 570.6 169.9 571.7 168.9 572.8 167.9 574 166.9 575.1 165.9 576.3 165 577.4 164 578.6 163.1 579.8 162.2 581 161.3 582.3 160.5 583.5 159.6 584.8 158.8 586.1 158 587.3 157.3 588.7 156.5 590 155.8 591.3 155.2 592.7 154.5 594 153.8 595.4 153.2 596.7 152.6 598.1 151.9 599.5 151.3 600.9 150.7 602.2 150.1 603.6 149.4 604.9 148.8 606.3 148.1 607.6 147.4 609 146.7 610.3 146 611.6 145.3 612.9 144.5 614.2 143.7 615.4 142.9 616.7 142.1 618 141.3 619.2 140.5 620.5 139.7 621.8 138.9 623 138 624.3 137.2 625.6 136.5 626.9 135.7 628.2 134.9 629.5 134.2 630.8 133.5 632.1 132.8 633.5 132.1 634.8 131.4 636.2 130.8 637.5 130.1 638.9 129.5 640.3 128.9 641.7 128.4 643.1 127.8 644.5 127.3 645.9 126.8 647.3 126.3 648.7 125.8 650.2 125.4 651.6 125 653.1 124.6 654.5 124.2 656 123.9 657.5 123.5 658.9 123.2 660.4 122.9 661.9 122.5 663.3 122.2 664.8 121.8 666.2 121.4 667.7 121 669.1 120.6 670.5 120.1 671.9 119.6 673.3 119 674.7 118.5 676.1 117.9 677.5 117.3 678.8 116.6 Z" fill="none" stroke="#6bb600" stroke-width="5" stroke-linejoin="round" stroke-linecap="round" />
<path d="M678.8 104.1 677.3 104 675.8 103.9 674.3 103.8 672.8 103.7 671.3 103.6 669.8 103.5 668.3 103.5 666.8 103.4 665.3 103.4 663.8 103.4 662.3 103.5 660.8 103.5 659.3 103.6 657.8 103.6 656.3 103.7 654.8 103.9 653.3 104 651.8 104.2 650.3 104.4 648.9 104.6 647.4 104.9 645.9 105.2 644.4 105.5 643 105.9 641.5 106.2 640.1 106.6 638.6 107 637.2 107.4 635.7 107.8 634.3 108.2 632.8 108.6 631.4 109 629.9 109.5 628.5 109.9 627 110.3 625.6 110.7 624.1 111.1 622.7 111.5 621.2 111.9 619.8 112.3 618.3 112.7 616.9 113.1 615.4 113.5 614 113.9 612.5 114.3 611.1 114.7 609.6 115.1 608.2 115.5 606.7 116 605.3 116.4 603.9 116.9 602.4 117.3 601 117.8 599.6 118.3 598.2 118.8 596.8 119.3 595.3 119.8 593.9 120.3 592.5 120.9 591.2 121.5 589.8 122.1 588.4 122.7 587 123.3 585.6 123.9 584.3 124.5 582.9 125.2 581.6 125.8 580.2 126.5 578.8 127.1 577.5 127.7 576.1 128.4 574.7 129 573.4 129.6 572 130.3 570.6 130.9 569.3 131.5 567.9 132.1 566.5 132.7 565.1 133.3 563.8 133.9 562.4 134.5 561 135.1 559.6 135.7 558.2 136.3 556.9 137 555.5 137.6 554.1 138.2 552.7 138.8 551.4 139.4 550 140 548.6 140.6 547.2 141.2 545.9 141.9 544.5 142.5 543.1 143.1 541.8 143.7 540.4 144.4 539 145 537.7 145.6 536.3 146.2 534.9 146.9 533.6 147.5 532.2 148.2 530.8 148.8 529.5 149.5 528.1 150.1 526.8 150.8 525.4 151.4 524.1 152.1 522.7 152.7 521.4 153.4 520 154.1 518.7 154.7 517.3 155.4 516 156.1 514.6 156.8 513.3 157.5 511.9 158.1 510.6 158.8 509.3 159.5 507.9 160.2 506.6 160.9 505.3 161.6 503.9 162.3 502.6 163 501.3 163.7 499.9 164.4 498.6 165.1 497.3 165.8 495.9 166.5 494.6 167.2 493.3 167.9 492 168.7 490.6 169.4 489.3 170.1 488 170.8 486.7 171.5 485.4 172.2 484 173 482.7 173.7 481.4 174.4 480.1 175.1 478.8 175.9 477.4 176.6 476.1 177.3 474.8 178 473.5 178.8 472.2 179.5 470.8 180.2 469.5 181 468.2 181.7 466.9 182.4 465.6 183.1 464.3 183.9 463 184.6 461.6 185.3 460.3 186.1 459 186.8 457.7 187.6 456.4 188.3 455.1 189.1 453.8 189.8 452.5 190.6 451.2 191.3 449.9 192.1 448.6 192.8 447.3 193.6 446 194.3 444.7 195.1 443.4 195.8 442 196.6 440.7 197.3 439.4 198.1 438.1 198.8 436.8 199.5 435.5 200.3 434.2 201 432.9 201.7 431.5 202.5 430.2 203.2 428.9 203.9 427.6 204.6 426.2 205.3 424.9 206 423.6 206.7 422.2 207.3 420.9 208 419.5 208.6 418.1 209.3 416.8 209.9 415.4 210.5 414 211.1 412.6 211.7 411.3 212.3 409.9 212.9 408.5 213.6 407.2 214.2 405.8 214.9 404.5 215.6 403.2 216.3 401.9 217.1 400.7 217.9 399.4 218.7 398.2 219.6 397.1 220.6 395.9 221.5 394.8 222.5 393.8 223.6 392.7 224.6 391.7 225.7 390.7 226.9 389.7 228 388.8 229.1 387.8 230.3 386.9 231.5 386 232.7 385.1 233.9 384.2 235.1 383.3 236.3 382.4 237.5 381.5 238.8 380.7 240 379.8 241.2 379 242.5 378.2 243.8 377.4 245 376.6 246.3 375.8 247.6 375 248.9 374.2 250.1 373.4 251.4 372.7 252.7 371.9 254 371.2 255.4 370.5 256.7 369.7 258 369 259.3 368.3 260.6 367.6 262 366.9 263.3 366.2 264.6 365.5 265.9 364.8 267.3 364.1 268.6 363.4 270 362.7 271.3 362.1 272.7 361.4 274 360.8 275.4 360.2 276.7 359.6 278.1 359 279.5 358.4 280.9 357.8 282.3 357.2 283.7 356.7 285.1 356.2 286.5 355.7 287.9 355.2 289.3 354.7 290.7 354.2 292.2 353.7 293.6 353.2 295 352.7 296.4 352.2 297.8 351.7 299.3 351.1 300.7 350.6 302.1 350.1 303.5 349.5 304.9 348.9 306.3 348.4 307.7 347.8 309 347.2 310.4 346.6 311.8 346 313.2 345.3 314.5 344.7 315.9 344.1 317.3 343.5 318.7 342.9 320 342.3 321.4 341.7 322.8 341.1 324.2 340.5 325.6 339.9 326.9 339.3 328.3 338.7 329.7 338.1 331.1 337.6 332.5 337 333.9 336.4 335.3 335.9 336.7 335.3 338.1 334.7 339.4 334.1 340.8 333.5 342.2 332.9 343.6 332.3 345 331.6 346.3 331 347.7 330.3 349 329.7 350.4 329 351.7 328.3 353.1 327.6 354.4 326.9 355.8 326.2 357.1 325.5 358.4 324.8 359.7 324.1 361 323.3 362.3 322.6 363.6 321.8 364.9 321 366.2 320.2 367.5 319.4 368.8 318.6 370.1 317.8 371.3 317 372.6 316.2 373.8 315.3 375.1 314.5 376.3 313.6 377.6 312.7 378.8 311.9 380 311 381.2 310.1 382.5 309.2 383.7 308.3 384.9 307.4 386.1 306.5 387.3 305.6 388.5 304.7 389.7 303.8 390.9 302.9 392.1 301.9 393.3 301 394.4 300.1 395.6 299.1 396.8 298.2 398 297.2 399.1 296.3 400.3 295.3 401.5 294.3 402.6 293.4 403.7 292.4 404.9 291.4 406 290.4 407.2 289.4 408.3 288.4 409.4 287.4 410.5 286.4 411.6 285.3 412.7 284.3 413.8 283.3 414.9 282.2 416 281.2 417.1 280.1 418.1 279 419.2 278 420.2 276.8 421.2 275.7 422.2 274.6 423.2 273.4 424.1 272.2 425.1 271 426 269.8 426.9 268.6 427.7 267.4 428.6 266.1 429.4 264.8 430.2 263.5 430.9 262.2 431.7 260.9 432.4 259.6 433.2 258.3 433.9 256.9 434.6 255.6 435.2 254.3 435.9 252.9 436.6 251.6 437.2 250.2 437.9 248.8 438.5 247.5 439.2 246.1 439.8 244.7 440.4 243.3 441 242 441.6 240.6 442.2 239.2 442.8 237.8 443.4 236.5 444 235.1 444.6 233.7 445.2 232.3 445.8 230.9 446.4 229.5 446.9 228.1 447.5 226.7 448.1 225.3 448.6 223.9 449.1 222.5 449.7 221.1 450.2 219.7 450.7 218.3 451.2 216.9 451.7 215.4 452.2 214 452.7 212.6 453.2 211.2 453.7 209.7 454.1 208.3 454.6 206.8 455 205.4 455.5 204 455.9 202.5 456.3 201.1 456.7 199.6 457.1 198.2 457.5 196.7 457.9 195.3 458.3 193.8 458.7 192.3 459.1 190.9 459.4 189.4 459.8 188 460.2 186.5 460.5 185 460.9 183.6 461.2 182.1 461.5 180.6 461.8 179.2 462.2 177.7 462.5 176.2 462.8 174.7 463.1 173.3 463.4 171.8 463.6 170.3 463.9 168.8 464.2 167.3 464.4 165.9 464.7 164.4 465 165.9 464.7 167.3 464.4 168.8 464.1 170.3 463.8 171.8 463.5 173.2 463.2 174.7 462.9 176.2 462.6 177.6 462.3 179.1 461.9 180.6 461.6 182.1 461.3 183.5 461 185 460.6 186.5 460.3 187.9 459.9 189.4 459.6 190.8 459.2 192.3 458.9 193.8 458.5 195.2 458.2 196.7 457.8 198.1 457.4 199.6 457 201.1 456.7 202.5 456.3 204 455.9 205.4 455.5 206.9 455.1 208.3 454.7 209.8 454.3 211.2 453.9 212.7 453.5 214.1 453 215.5 452.6 217 452.2 218.4 451.7 219.9 451.3 221.3 450.9 222.7 450.4 224.2 449.9 225.6 449.5 227 449 228.5 448.6 229.9 448.1 231.3 447.6 232.7 447.1 234.2 446.7 235.6 446.2 237 445.7 238.5 445.2 239.9 444.8 241.3 444.3 242.7 443.8 244.2 443.3 245.6 442.8 247 442.3 248.4 441.8 249.8 441.3 251.3 440.9 252.7 440.4 254.1 439.9 255.5 439.4 256.9 438.9 258.4 438.4 259.8 437.9 261.2 437.4 262.6 436.9 264 436.3 265.4 435.8 266.9 435.3 268.3 434.8 269.7 434.3 271.1 433.8 272.5 433.2 273.9 432.7 275.3 432.2 276.7 431.7 278.2 431.1 279.6 430.6 281 430.1 282.4 429.5 283.8 429 285.2 428.5 286.6 427.9 288 427.4 289.4 426.9 290.8 426.3 292.2 425.8 293.6 425.2 295 424.7 296.4 424.1 297.8 423.6 299.2 423 300.6 422.5 302 421.9 303.4 421.4 304.8 420.8 306.2 420.3 307.6 419.7 309 419.2 310.4 418.6 311.8 418 313.2 417.5 314.6 416.9 316 416.3 317.4 415.8 318.8 415.2 320.2 414.6 321.5 414.1 322.9 413.5 324.3 412.9 325.7 412.3 327.1 411.7 328.5 411.1 329.9 410.5 331.2 409.9 332.6 409.3 334 408.7 335.4 408.1 336.7 407.5 338.1 406.9 339.5 406.3 340.9 405.6 342.2 405 343.6 404.4 344.9 403.7 346.3 403.1 347.7 402.4 349 401.8 350.4 401.2 351.7 400.5 353.1 399.8 354.4 399.2 355.8 398.5 357.1 397.8 358.5 397.2 359.8 396.5 361.2 395.8 362.5 395.1 363.9 394.4 365.2 393.8 366.5 393.1 367.9 392.4 369.2 391.7 370.5 391 371.8 390.3 373.2 389.5 374.5 388.8 375.8 388.1 377.1 387.4 378.5 386.7 379.8 385.9 381.1 385.2 382.4 384.5 383.7 383.7 385 383 386.3 382.3 387.6 381.5 388.9 380.7 390.2 380 391.5 379.2 392.8 378.5 394.1 377.7 395.4 376.9 396.7 376.1 398 375.4 399.3 374.6 400.6 373.8 401.8 373 403.1 372.2 404.4 371.4 405.7 370.6 406.9 369.8 408.2 369 409.5 368.2 410.8 367.4 412 366.6 413.3 365.8 414.6 365 415.8 364.2 417.1 363.4 418.4 362.5 419.6 361.7 420.9 360.9 422.1 360.1 423.4 359.3 424.7 358.4 425.9 357.6 427.2 356.8 428.4 356 429.7 355.1 431 354.3 432.2 353.5 433.5 352.7 434.7 351.8 436 351 437.2 350.2 438.5 349.3 439.7 348.5 440.9 347.6 442.2 346.7 443.4 345.9 444.6 345 445.8 344.1 447.1 343.2 448.3 342.3 449.5 341.4 450.7 340.5 451.8 339.6 453 338.6 454.2 337.7 455.3 336.7 456.5 335.8 457.6 334.8 458.7 333.8 459.9 332.8 461 331.7 462.1 330.7 463.1 329.7 464.2 328.6 465.3 327.6 466.4 326.5 467.4 325.5 468.5 324.4 469.6 323.3 470.6 322.3 471.7 321.2 472.8 320.2 473.9 319.1 474.9 318.1 476 317 477.1 316 478.2 315 479.3 313.9 480.4 312.9 481.5 311.9 482.6 310.8 483.6 309.8 484.7 308.7 485.8 307.6 486.8 306.6 487.9 305.5 488.9 304.4 489.9 303.2 490.8 302.1 491.8 301 492.8 299.8 493.7 298.6 494.6 297.4 495.5 296.2 496.4 295 497.2 293.7 498.1 292.5 498.9 291.3 499.8 290 500.6 288.8 501.4 287.5 502.2 286.3 503.1 285 503.9 283.7 504.7 282.5 505.5 281.2 506.4 280 507.2 278.7 508 277.4 508.8 276.2 509.6 274.9 510.4 273.6 511.2 272.4 512 271.1 512.8 269.8 513.6 268.5 514.4 267.3 515.2 266 516 264.7 516.7 263.4 517.5 262.1 518.2 260.8 519 259.5 519.7 258.1 520.4 256.8 521.2 255.5 521.9 254.2 522.6 252.9 523.3 251.5 524 250.2 524.7 248.9 525.3 247.5 526 246.2 526.7 244.8 527.4 243.5 528.1 242.1 528.7 240.8 529.4 239.4 530.1 238.1 530.7 236.7 531.4 235.4 532 234 532.7 232.7 533.4 231.3 534 230 534.7 228.6 535.3 227.3 536 225.9 536.7 224.6 537.4 223.2 538 221.9 538.7 220.6 539.4 219.2 540.2 217.9 540.9 216.6 541.6 215.3 542.4 214 543.1 212.7 543.9 211.4 544.6 210.1 545.4 208.8 546.2 207.5 547 206.2 547.8 205 548.6 203.7 549.4 202.4 550.2 201.2 551.1 199.9 551.9 198.7 552.8 197.4 553.6 196.2 554.5 195 555.4 193.8 556.3 192.6 557.2 191.4 558.1 190.2 559.1 189 560 187.8 560.9 186.7 561.9 185.5 562.8 184.3 563.8 183.2 564.8 182 565.7 180.9 566.7 179.7 567.7 178.6 568.7 177.4 569.6 176.3 570.6 175.1 571.6 174 572.6 172.9 573.6 171.8 574.6 170.7 575.7 169.6 576.7 168.5 577.8 167.4 578.9 166.4 580 165.4 581.1 164.4 582.2 163.4 583.4 162.4 584.5 161.5 585.7 160.5 586.9 159.6 588.1 158.7 589.3 157.8 590.5 156.9 591.7 156 592.9 155 594 154.1 595.2 153.2 596.4 152.3 597.6 151.4 598.8 150.5 600 149.5 601.2 148.6 602.4 147.7 603.6 146.8 604.8 145.9 606 145 607.2 144.1 608.4 143.2 609.6 142.3 610.8 141.4 612.1 140.5 613.3 139.7 614.5 138.8 615.7 137.9 617 137.1 618.2 136.2 619.5 135.4 620.7 134.5 621.9 133.7 623.2 132.8 624.5 132 625.7 131.2 627 130.4 628.2 129.5 629.5 128.7 630.8 127.9 632.1 127.1 633.3 126.4 634.6 125.6 635.9 124.8 637.2 124 638.5 123.3 639.8 122.5 641.1 121.8 642.4 121 643.7 120.3 645 119.6 646.4 118.8 647.7 118.1 649 117.4 650.3 116.7 651.7 116 653 115.3 654.3 114.6 655.7 113.9 657 113.2 658.3 112.5 659.7 111.9 661 111.2 662.4 110.5 663.7 109.9 665.1 109.2 666.5 108.6 667.8 107.9 669.2 107.3 670.6 106.7 671.9 106.1 673.3 105.5 674.7 104.9 676.1 104.3 677.4 103.7 678.8 103.1 Z" fill="none" stroke="#00ff00" stroke-width="5" stroke-linejoin="round" stroke-linecap="round" />
<path d="M678 99.7 676.5 99.5 675 99.3 673.5 99.1 672 99 670.5 98.9 669 98.8 667.5 98.8 666 98.7 664.5 98.8 663 98.8 661.5 98.9 660 99.1 658.5 99.2 657 99.4 655.5 99.6 654 99.8 652.6 100.1 651.1 100.3 649.6 100.6 648.1 100.9 646.7 101.2 645.2 101.5 643.7 101.9 642.2 102.2 640.8 102.6 639.3 102.9 637.9 103.3 636.4 103.7 634.9 104 633.5 104.4 632 104.8 630.6 105.2 629.1 105.6 627.7 106 626.2 106.4 624.8 106.8 623.3 107.2 621.9 107.6 620.4 108 619 108.4 617.5 108.8 616.1 109.2 614.6 109.6 613.2 110 611.7 110.5 610.3 110.9 608.8 111.3 607.4 111.8 606 112.2 604.5 112.7 603.1 113.1 601.7 113.6 600.2 114 598.8 114.5 597.4 115 595.9 115.4 594.5 115.9 593.1 116.4 591.6 116.9 590.2 117.3 588.8 117.8 587.4 118.3 585.9 118.8 584.5 119.3 583.1 119.8 581.7 120.3 580.3 120.8 578.8 121.3 577.4 121.9 576 122.4 574.6 122.9 573.2 123.5 571.8 124 570.4 124.6 569 125.1 567.6 125.7 566.2 126.3 564.8 126.8 563.4 127.4 562 128 560.7 128.6 559.3 129.2 557.9 129.8 556.5 130.4 555.1 131 553.7 131.6 552.3 132.1 551 132.7 549.6 133.3 548.2 133.9 546.8 134.5 545.4 135.1 544 135.7 542.6 136.3 541.3 136.9 539.9 137.5 538.5 138.1 537.1 138.7 535.7 139.3 534.4 139.9 533 140.5 531.6 141.1 530.2 141.7 528.9 142.3 527.5 142.9 526.1 143.6 524.7 144.2 523.4 144.8 522 145.5 520.7 146.1 519.3 146.8 517.9 147.4 516.6 148 515.2 148.7 513.8 149.3 512.5 150 511.1 150.6 509.7 151.2 508.4 151.9 507 152.5 505.6 153.1 504.3 153.7 502.9 154.4 501.5 155 500.1 155.6 498.8 156.2 497.4 156.8 496 157.4 494.6 158.1 493.3 158.7 491.9 159.3 490.5 159.9 489.1 160.5 487.8 161.1 486.4 161.7 485 162.3 483.6 162.9 482.3 163.5 480.9 164.2 479.5 164.8 478.1 165.4 476.8 166 475.4 166.6 474 167.2 472.6 167.9 471.3 168.5 469.9 169.1 468.5 169.7 467.2 170.4 465.8 171 464.4 171.7 463.1 172.3 461.7 172.9 460.3 173.6 459 174.2 457.6 174.9 456.3 175.5 454.9 176.2 453.6 176.8 452.2 177.5 450.8 178.1 449.5 178.8 448.1 179.5 446.8 180.1 445.4 180.8 444.1 181.5 442.7 182.1 441.4 182.8 440 183.4 438.7 184.1 437.3 184.8 436 185.4 434.6 186.1 433.3 186.8 431.9 187.4 430.6 188.1 429.2 188.8 427.9 189.4 426.5 190.1 425.2 190.8 423.8 191.4 422.5 192.1 421.1 192.8 419.8 193.4 418.4 194.1 417.1 194.8 415.7 195.5 414.4 196.2 413.1 196.9 411.7 197.6 410.4 198.3 409.1 199.1 407.8 199.9 406.6 200.6 405.3 201.4 404 202.2 402.7 203.1 401.5 203.9 400.2 204.8 399 205.6 397.8 206.5 396.6 207.4 395.4 208.3 394.2 209.2 393 210.1 391.8 211.1 390.7 212 389.5 213 388.4 214 387.3 215 386.2 216 385.1 217.1 384 218.1 383 219.2 382 220.3 381 221.4 380 222.6 379 223.7 378.1 224.9 377.1 226.1 376.2 227.3 375.3 228.5 374.5 229.7 373.6 230.9 372.7 232.2 371.9 233.4 371.1 234.7 370.2 235.9 369.4 237.2 368.6 238.5 367.8 239.8 367.1 241 366.3 242.3 365.5 243.6 364.8 244.9 364 246.2 363.3 247.6 362.6 248.9 361.9 250.2 361.2 251.5 360.5 252.9 359.8 254.2 359.1 255.6 358.5 256.9 357.8 258.3 357.2 259.6 356.5 261 355.9 262.4 355.3 263.7 354.7 265.1 354.1 266.5 353.5 267.9 352.9 269.3 352.3 270.7 351.7 272 351.2 273.4 350.6 274.8 350 276.2 349.5 277.6 348.9 279 348.4 280.4 347.8 281.9 347.3 283.3 346.8 284.7 346.3 286.1 345.7 287.5 345.2 288.9 344.7 290.3 344.2 291.7 343.7 293.1 343.1 294.6 342.6 296 342.1 297.4 341.5 298.8 341 300.2 340.4 301.6 339.9 303 339.3 304.4 338.7 305.8 338.1 307.1 337.5 308.5 336.9 309.9 336.3 311.3 335.7 312.6 335 314 334.4 315.4 333.8 316.7 333.1 318.1 332.5 319.5 331.9 320.8 331.2 322.2 330.6 323.6 330 325 329.4 326.3 328.8 327.7 328.1 329.1 327.5 330.5 326.9 331.8 326.3 333.2 325.7 334.6 325.1 336 324.5 337.3 323.9 338.7 323.3 340.1 322.6 341.5 322 342.8 321.4 344.2 320.8 345.6 320.1 346.9 319.5 348.3 318.9 349.7 318.2 351 317.6 352.4 316.9 353.7 316.2 355.1 315.6 356.5 314.9 357.8 314.2 359.1 313.5 360.5 312.8 361.8 312.1 363.1 311.4 364.4 310.6 365.8 309.9 367.1 309.1 368.4 308.3 369.6 307.6 370.9 306.8 372.2 305.9 373.5 305.1 374.7 304.3 376 303.4 377.2 302.6 378.5 301.7 379.7 300.8 380.9 299.9 382.1 299 383.3 298.1 384.5 297.2 385.7 296.2 386.9 295.3 388 294.3 389.2 293.3 390.3 292.3 391.4 291.3 392.5 290.3 393.6 289.2 394.7 288.2 395.8 287.1 396.9 286.1 398 285 399 284 400.1 282.9 401.2 281.8 402.2 280.8 403.3 279.7 404.4 278.6 405.4 277.6 406.5 276.5 407.5 275.4 408.6 274.3 409.7 273.3 410.7 272.2 411.8 271.2 412.9 270.1 414 269.1 415 268 416.1 267 417.2 265.9 418.3 264.9 419.4 263.8 420.4 262.8 421.5 261.7 422.6 260.6 423.6 259.5 424.7 258.4 425.7 257.3 426.7 256.2 427.7 255.1 428.7 253.9 429.7 252.8 430.6 251.6 431.6 250.4 432.5 249.2 433.4 248 434.3 246.8 435.1 245.5 436 244.3 436.8 243 437.7 241.8 438.5 240.5 439.3 239.2 440.1 237.9 440.8 236.6 441.6 235.3 442.3 234 443.1 232.7 443.8 231.4 444.5 230 445.2 228.7 445.9 227.4 446.6 226 447.3 224.7 448 223.3 448.7 222 449.3 220.6 450 219.2 450.6 217.9 451.3 216.5 451.9 215.1 452.5 213.8 453.1 212.4 453.8 211 454.4 209.7 455 208.3 455.6 206.9 456.2 205.5 456.8 204.1 457.4 202.8 458 201.4 458.6 200 459.2 198.6 459.8 197.2 460.3 195.8 460.9 194.4 461.5 193 462 191.6 462.5 190.2 463.1 188.8 463.6 187.4 464.1 185.9 464.6 184.5 465.2 183.1 465.7 181.7 466.1 180.3 466.6 178.8 467.1 177.4 467.6 176 468 174.5 468.4 173.1 468.9 171.6 469.3 170.2 469.7 168.7 470.1 167.3 470.5 165.8 470.9 164.4 471.3 165.9 471.1 167.3 470.8 168.8 470.5 170.3 470.3 171.8 470 173.3 469.7 174.7 469.4 176.2 469.2 177.7 468.9 179.2 468.6 180.7 468.3 182.1 468 183.6 467.7 185.1 467.4 186.6 467.1 188 466.8 189.5 466.5 191 466.2 192.4 465.9 193.9 465.6 195.4 465.2 196.9 464.9 198.3 464.6 199.8 464.3 201.3 463.9 202.7 463.6 204.2 463.3 205.7 462.9 207.1 462.6 208.6 462.3 210.1 461.9 211.5 461.6 213 461.2 214.4 460.8 215.9 460.5 217.4 460.1 218.8 459.8 220.3 459.4 221.7 459 223.2 458.6 224.7 458.3 226.1 457.9 227.6 457.5 229 457.1 230.5 456.7 231.9 456.3 233.4 455.9 234.8 455.5 236.3 455.1 237.7 454.7 239.1 454.2 240.6 453.8 242 453.4 243.5 452.9 244.9 452.5 246.3 452 247.8 451.5 249.2 451.1 250.6 450.6 252 450.1 253.5 449.6 254.9 449.1 256.3 448.6 257.7 448.1 259.1 447.5 260.5 447 261.9 446.5 263.3 445.9 264.7 445.4 266.1 444.8 267.5 444.2 268.9 443.7 270.3 443.1 271.7 442.5 273.1 441.9 274.5 441.3 275.8 440.7 277.2 440.2 278.6 439.6 280 439 281.4 438.4 282.7 437.8 284.1 437.2 285.5 436.6 286.9 436 288.3 435.4 289.7 434.8 291 434.2 292.4 433.6 293.8 433 295.2 432.4 296.6 431.8 298 431.2 299.3 430.7 300.7 430.1 302.1 429.5 303.5 428.9 304.9 428.3 306.3 427.8 307.7 427.2 309.1 426.6 310.5 426 311.8 425.4 313.2 424.9 314.6 424.3 316 423.7 317.4 423.1 318.8 422.5 320.2 421.9 321.6 421.4 322.9 420.8 324.3 420.2 325.7 419.6 327.1 419 328.5 418.4 329.9 417.8 331.2 417.2 332.6 416.6 334 416.1 335.4 415.5 336.8 414.9 338.2 414.3 339.5 413.7 340.9 413.1 342.3 412.5 343.7 411.9 345.1 411.3 346.4 410.7 347.8 410.1 349.2 409.5 350.6 408.9 352 408.3 353.3 407.7 354.7 407.1 356.1 406.5 357.5 405.9 358.9 405.3 360.2 404.7 361.6 404.1 363 403.5 364.4 402.9 365.7 402.2 367.1 401.6 368.5 401 369.8 400.4 371.2 399.7 372.6 399.1 373.9 398.5 375.3 397.8 376.7 397.2 378 396.5 379.4 395.9 380.7 395.2 382.1 394.5 383.4 393.9 384.8 393.2 386.1 392.5 387.4 391.8 388.8 391.1 390.1 390.4 391.4 389.7 392.8 389 394.1 388.3 395.4 387.6 396.7 386.9 398 386.1 399.4 385.4 400.7 384.7 402 384 403.3 383.2 404.6 382.5 406 381.8 407.3 381.1 408.6 380.3 409.9 379.6 411.2 378.9 412.6 378.2 413.9 377.5 415.2 376.8 416.6 376.1 417.9 375.4 419.2 374.7 420.6 374 421.9 373.3 423.2 372.6 424.6 372 425.9 371.3 427.3 370.6 428.6 370 430 369.3 431.3 368.6 432.7 367.9 434 367.2 435.3 366.5 436.6 365.8 437.9 365.1 439.2 364.3 440.5 363.5 441.8 362.7 443.1 361.9 444.3 361.1 445.6 360.3 446.8 359.4 448 358.5 449.3 357.7 450.5 356.8 451.6 355.8 452.8 354.9 454 353.9 455.1 353 456.3 352 457.4 351 458.5 350 459.6 348.9 460.6 347.9 461.7 346.8 462.8 345.7 463.8 344.7 464.8 343.6 465.9 342.5 466.9 341.4 467.9 340.3 468.9 339.2 470 338.1 471 337 472 335.9 473 334.8 474.1 333.7 475.1 332.6 476.2 331.5 477.2 330.5 478.3 329.4 479.4 328.3 480.4 327.3 481.5 326.2 482.6 325.1 483.6 324.1 484.7 323 485.8 322 486.8 320.9 487.9 319.8 488.9 318.8 490 317.7 491.1 316.6 492.1 315.5 493.2 314.5 494.2 313.4 495.3 312.3 496.3 311.2 497.3 310.1 498.4 309 499.4 307.9 500.4 306.8 501.4 305.7 502.4 304.6 503.4 303.5 504.4 302.3 505.3 301.2 506.3 300 507.2 298.8 508.1 297.6 509 296.4 509.8 295.2 510.7 293.9 511.5 292.7 512.3 291.4 513.1 290.1 513.9 288.8 514.7 287.6 515.5 286.3 516.3 285 517.1 283.7 517.9 282.5 518.7 281.2 519.5 279.9 520.4 278.7 521.2 277.4 522.1 276.2 522.9 275 523.8 273.7 524.6 272.5 525.5 271.2 526.3 270 527.2 268.8 528 267.5 528.8 266.2 529.6 265 530.4 263.7 531.2 262.4 532 261.1 532.8 259.8 533.5 258.5 534.3 257.2 535 255.9 535.7 254.6 536.4 253.3 537.1 251.9 537.8 250.6 538.5 249.2 539.1 247.9 539.8 246.6 540.5 245.2 541.1 243.9 541.8 242.5 542.5 241.2 543.2 239.8 543.8 238.5 544.5 237.1 545.2 235.8 545.8 234.4 546.5 233.1 547.2 231.7 547.8 230.4 548.5 229 549.2 227.7 549.8 226.3 550.5 225 551.2 223.6 551.8 222.3 552.5 220.9 553.2 219.6 553.9 218.3 554.5 216.9 555.2 215.6 555.9 214.2 556.6 212.9 557.3 211.6 558 210.2 558.7 208.9 559.4 207.6 560.1 206.2 560.8 204.9 561.5 203.6 562.3 202.3 563 201 563.8 199.7 564.5 198.4 565.3 197.1 566.1 195.8 566.9 194.5 567.7 193.3 568.6 192 569.4 190.8 570.2 189.5 571.1 188.3 572 187.1 572.9 185.9 573.7 184.7 574.6 183.4 575.5 182.2 576.4 181 577.4 179.8 578.3 178.7 579.2 177.5 580.1 176.3 581.1 175.1 582 173.9 583 172.8 583.9 171.6 584.9 170.4 585.8 169.3 586.8 168.1 587.8 167 588.7 165.8 589.7 164.7 590.7 163.5 591.7 162.4 592.6 161.2 593.6 160.1 594.6 159 595.6 157.9 596.6 156.7 597.6 155.6 598.7 154.5 599.7 153.5 600.8 152.4 601.8 151.3 602.9 150.2 604 149.2 605 148.2 606.1 147.1 607.2 146.1 608.4 145.1 609.5 144.1 610.6 143.1 611.7 142.1 612.8 141.1 614 140.1 615.1 139.1 616.3 138.1 617.4 137.2 618.6 136.2 619.7 135.2 620.9 134.3 622 133.3 623.2 132.3 624.3 131.4 625.5 130.4 626.7 129.5 627.8 128.5 629 127.6 630.2 126.7 631.4 125.7 632.6 124.8 633.7 123.9 634.9 122.9 636.1 122 637.3 121.1 638.5 120.2 639.7 119.3 640.9 118.4 642.1 117.5 643.3 116.6 644.5 115.7 645.8 114.8 647 113.9 648.2 113.1 649.4 112.2 650.7 111.3 651.9 110.5 653.2 109.7 654.4 108.9 655.7 108.1 657 107.3 658.3 106.6 659.6 105.8 661 105.2 662.3 104.5 663.7 103.9 665 103.3 666.4 102.7 667.8 102.2 669.2 101.7 670.7 101.3 672.1 100.9 673.6 100.6 675 100.3 676.5 100 678 99.7 Z" fill="none" stroke="#00ffff" stroke-width="5" stroke-linejoin="round" stroke-linecap="round" />
<path d="M678 100.1 676.5 100 675 99.9 673.5 99.7 672 99.6 670.5 99.6 669 99.5 667.5 99.5 666 99.5 664.5 99.6 663 99.6 661.5 99.8 660 99.9 658.5 100.1 657 100.2 655.5 100.5 654 100.7 652.6 100.9 651.1 101.2 649.6 101.5 648.1 101.8 646.7 102.1 645.2 102.4 643.7 102.8 642.3 103.1 640.8 103.5 639.3 103.9 637.9 104.2 636.4 104.6 635 105 633.5 105.4 632.1 105.8 630.6 106.2 629.2 106.6 627.7 107 626.3 107.4 624.8 107.8 623.4 108.2 621.9 108.6 620.5 109 619 109.4 617.6 109.8 616.1 110.2 614.7 110.7 613.3 111.1 611.8 111.5 610.4 111.9 608.9 112.4 607.5 112.8 606.1 113.2 604.6 113.7 603.2 114.1 601.7 114.6 600.3 115.1 598.9 115.5 597.5 116 596 116.5 594.6 117 593.2 117.4 591.8 117.9 590.3 118.4 588.9 118.9 587.5 119.5 586.1 120 584.7 120.5 583.3 121 581.9 121.5 580.5 122.1 579.1 122.6 577.7 123.2 576.3 123.7 574.9 124.3 573.5 124.8 572.1 125.4 570.7 126 569.3 126.5 567.9 127.1 566.5 127.7 565.1 128.3 563.7 128.9 562.4 129.5 561 130.1 559.6 130.7 558.2 131.3 556.8 131.9 555.5 132.5 554.1 133.1 552.7 133.7 551.3 134.3 550 134.9 548.6 135.5 547.2 136.1 545.8 136.7 544.5 137.3 543.1 137.9 541.7 138.5 540.3 139.2 539 139.8 537.6 140.4 536.2 141 534.9 141.7 533.5 142.3 532.1 142.9 530.8 143.6 529.4 144.2 528.1 144.9 526.7 145.6 525.4 146.2 524 146.9 522.7 147.6 521.4 148.3 520 149 518.7 149.7 517.3 150.4 516 151.1 514.7 151.8 513.3 152.5 512 153.2 510.7 153.9 509.4 154.6 508 155.2 506.7 155.9 505.4 156.6 504 157.3 502.7 158 501.4 158.7 500 159.4 498.7 160.1 497.3 160.8 496 161.5 494.7 162.2 493.3 162.9 492 163.6 490.7 164.3 489.3 165 488 165.7 486.7 166.4 485.3 167.1 484 167.8 482.7 168.5 481.4 169.2 480 169.9 478.7 170.6 477.4 171.3 476.1 172 474.7 172.8 473.4 173.5 472.1 174.2 470.8 174.9 469.5 175.7 468.2 176.4 466.9 177.2 465.6 177.9 464.2 178.7 463 179.4 461.7 180.2 460.4 181 459.1 181.7 457.8 182.5 456.5 183.3 455.2 184.1 454 184.9 452.7 185.7 451.4 186.5 450.2 187.3 448.9 188.1 447.6 189 446.4 189.8 445.1 190.6 443.8 191.4 442.6 192.2 441.3 193 440 193.8 438.8 194.6 437.5 195.4 436.2 196.2 434.9 197 433.7 197.8 432.4 198.6 431.1 199.4 429.8 200.1 428.5 200.9 427.2 201.6 425.9 202.4 424.6 203.1 423.2 203.8 421.9 204.5 420.5 205.2 419.2 205.8 417.8 206.4 416.5 207.1 415.1 207.7 413.7 208.2 412.3 208.8 410.9 209.4 409.5 210 408.1 210.5 406.8 211.1 405.4 211.7 404 212.3 402.6 212.9 401.3 213.6 399.9 214.2 398.6 214.9 397.3 215.6 396 216.4 394.7 217.2 393.5 218 392.3 218.9 391.1 219.8 390 220.8 388.9 221.8 387.8 222.8 386.8 223.9 385.8 225 384.8 226.1 383.8 227.3 382.9 228.4 382 229.6 381.1 230.8 380.2 232 379.3 233.2 378.4 234.5 377.5 235.7 376.7 236.9 375.8 238.2 375 239.4 374.1 240.6 373.3 241.9 372.5 243.2 371.7 244.4 370.8 245.7 370 247 369.3 248.2 368.5 249.5 367.7 250.8 367 252.1 366.2 253.4 365.5 254.7 364.8 256.1 364.1 257.4 363.4 258.7 362.7 260.1 362 261.4 361.3 262.7 360.7 264.1 360 265.5 359.4 266.8 358.8 268.2 358.2 269.6 357.5 270.9 357 272.3 356.4 273.7 355.8 275.1 355.2 276.5 354.7 277.9 354.1 279.3 353.6 280.7 353 282.1 352.5 283.5 352 284.9 351.5 286.3 351 287.7 350.5 289.2 350 290.6 349.5 292 349 293.4 348.5 294.8 348 296.3 347.5 297.7 347 299.1 346.4 300.5 345.9 301.9 345.3 303.3 344.8 304.7 344.2 306.1 343.6 307.4 343 308.8 342.4 310.2 341.7 311.6 341.1 312.9 340.5 314.3 339.8 315.6 339.2 317 338.5 318.3 337.9 319.7 337.2 321.1 336.6 322.4 335.9 323.8 335.3 325.1 334.7 326.5 334 327.9 333.4 329.2 332.8 330.6 332.2 332 331.6 333.4 330.9 334.7 330.3 336.1 329.7 337.5 329.1 338.9 328.5 340.2 327.9 341.6 327.3 343 326.7 344.4 326 345.7 325.4 347.1 324.8 348.5 324.2 349.8 323.6 351.2 323 352.6 322.4 354 321.7 355.3 321.1 356.7 320.5 358.1 319.8 359.4 319.2 360.8 318.5 362.1 317.8 363.5 317.2 364.8 316.4 366.1 315.7 367.4 315 368.8 314.2 370.1 313.5 371.4 312.7 372.6 311.9 373.9 311.1 375.2 310.3 376.4 309.4 377.7 308.6 378.9 307.8 380.2 306.9 381.4 306 382.6 305.2 383.9 304.3 385.1 303.4 386.3 302.5 387.5 301.6 388.7 300.6 389.9 299.7 391.1 298.8 392.2 297.8 393.4 296.9 394.6 295.9 395.7 294.9 396.8 293.9 398 292.9 399.1 291.9 400.2 290.9 401.3 289.9 402.4 288.9 403.5 287.8 404.6 286.8 405.7 285.7 406.8 284.7 407.9 283.6 409 282.6 410 281.5 411.1 280.5 412.2 279.4 413.2 278.3 414.3 277.2 415.3 276.1 416.3 275 417.3 273.9 418.3 272.8 419.3 271.6 420.3 270.5 421.2 269.3 422.2 268.1 423.1 266.9 424 265.6 424.8 264.4 425.7 263.2 426.5 261.9 427.4 260.7 428.2 259.4 429 258.1 429.8 256.9 430.6 255.6 431.4 254.3 432.2 253 432.9 251.7 433.7 250.4 434.5 249.1 435.2 247.8 436 246.5 436.7 245.2 437.5 243.9 438.2 242.6 439 241.3 439.7 240 440.5 238.7 441.2 237.4 442 236 442.7 234.7 443.4 233.4 444.2 232.1 444.9 230.8 445.7 229.5 446.4 228.2 447.1 226.9 447.8 225.5 448.6 224.2 449.3 222.9 450 221.5 450.6 220.2 451.3 218.9 452 217.5 452.7 216.1 453.3 214.8 453.9 213.4 454.5 212 455.1 210.6 455.7 209.2 456.3 207.9 456.8 206.4 457.4 205 457.9 203.6 458.4 202.2 458.9 200.8 459.4 199.4 459.9 197.9 460.4 196.5 460.8 195.1 461.3 193.6 461.7 192.2 462.2 190.8 462.6 189.3 463 187.9 463.4 186.4 463.8 185 464.2 183.5 464.6 182.1 465 180.6 465.3 179.1 465.7 177.7 466 176.2 466.4 174.7 466.7 173.3 467 171.8 467.3 170.3 467.5 168.8 467.8 167.3 468.1 165.9 468.3 164.4 468.6 165.9 468.3 167.3 468 168.8 467.7 170.3 467.4 171.8 467.1 173.2 466.8 174.7 466.5 176.2 466.2 177.7 465.9 179.1 465.5 180.6 465.2 182.1 464.9 183.6 464.6 185 464.3 186.5 463.9 188 463.6 189.4 463.3 190.9 463 192.4 462.6 193.8 462.3 195.3 461.9 196.8 461.6 198.2 461.2 199.7 460.9 201.2 460.5 202.6 460.2 204.1 459.8 205.6 459.5 207 459.1 208.5 458.7 210 458.4 211.4 458 212.9 457.6 214.3 457.3 215.8 456.9 217.3 456.5 218.7 456.1 220.2 455.8 221.6 455.4 223.1 455 224.6 454.6 226 454.2 227.5 453.9 228.9 453.5 230.4 453.1 231.8 452.7 233.3 452.3 234.7 451.9 236.2 451.5 237.6 451.1 239.1 450.7 240.5 450.3 242 449.9 243.4 449.5 244.9 449 246.3 448.6 247.8 448.2 249.2 447.8 250.7 447.3 252.1 446.9 253.6 446.4 255 446 256.4 445.5 257.9 445.1 259.3 444.6 260.7 444.1 262.2 443.7 263.6 443.2 265 442.7 266.4 442.2 267.8 441.7 269.3 441.2 270.7 440.7 272.1 440.1 273.5 439.6 274.9 439 276.3 438.5 277.7 437.9 279 437.3 280.4 436.7 281.8 436 283.2 435.4 284.5 434.7 285.9 434.1 287.2 433.4 288.6 432.7 289.9 432 291.2 431.4 292.6 430.7 293.9 430 295.3 429.3 296.6 428.7 298 428 299.4 427.4 300.7 426.7 302.1 426.1 303.5 425.5 304.8 424.9 306.2 424.3 307.6 423.7 309 423.1 310.4 422.5 311.8 421.9 313.2 421.4 314.6 420.8 316 420.2 317.3 419.6 318.7 419.1 320.1 418.5 321.5 417.9 322.9 417.3 324.3 416.8 325.7 416.2 327.1 415.6 328.5 415 329.9 414.5 331.3 413.9 332.7 413.3 334 412.7 335.4 412.1 336.8 411.5 338.2 410.9 339.6 410.2 340.9 409.6 342.3 409 343.7 408.4 345 407.7 346.4 407.1 347.8 406.5 349.1 405.8 350.5 405.2 351.9 404.5 353.2 403.9 354.6 403.2 355.9 402.6 357.3 401.9 358.6 401.3 360 400.6 361.3 399.9 362.7 399.2 364 398.6 365.4 397.9 366.7 397.2 368 396.5 369.4 395.8 370.7 395.1 372 394.4 373.4 393.7 374.7 393 376 392.2 377.3 391.5 378.7 390.8 380 390 381.3 389.3 382.6 388.5 383.9 387.8 385.2 387 386.4 386.2 387.7 385.4 389 384.6 390.3 383.8 391.5 383 392.8 382.2 394.1 381.3 395.3 380.5 396.6 379.7 397.8 378.9 399.1 378 400.3 377.2 401.6 376.3 402.9 375.5 404.1 374.7 405.4 373.8 406.6 373 407.9 372.2 409.1 371.3 410.4 370.5 411.6 369.7 412.9 368.9 414.2 368.1 415.5 367.2 416.7 366.5 418 365.7 419.3 364.9 420.6 364.1 421.9 363.4 423.2 362.6 424.5 361.9 425.9 361.2 427.2 360.4 428.5 359.7 429.8 359 431.1 358.3 432.4 357.5 433.8 356.8 435.1 356 436.3 355.3 437.6 354.5 438.9 353.7 440.1 352.8 441.4 352 442.6 351.1 443.8 350.2 445 349.3 446.2 348.4 447.4 347.5 448.6 346.5 449.7 345.5 450.9 344.6 452 343.6 453.2 342.6 454.3 341.6 455.4 340.6 456.5 339.6 457.6 338.6 458.7 337.5 459.8 336.5 460.9 335.5 462 334.4 463.1 333.3 464.1 332.3 465.2 331.2 466.2 330.1 467.3 329.1 468.4 328 469.4 326.9 470.5 325.8 471.5 324.8 472.6 323.7 473.7 322.6 474.7 321.6 475.8 320.5 476.9 319.4 477.9 318.4 479 317.3 480.1 316.3 481.1 315.2 482.2 314.2 483.3 313.1 484.4 312 485.4 311 486.5 309.9 487.6 308.9 488.6 307.8 489.7 306.7 490.8 305.7 491.8 304.6 492.9 303.5 494 302.5 495 301.4 496.1 300.3 497.1 299.2 498.2 298.2 499.2 297.1 500.3 296 501.3 294.9 502.3 293.8 503.3 292.7 504.3 291.5 505.3 290.4 506.3 289.3 507.2 288.1 508.2 286.9 509.1 285.7 510 284.5 510.9 283.3 511.8 282.1 512.6 280.8 513.4 279.6 514.3 278.3 515.1 277.1 515.9 275.8 516.7 274.5 517.5 273.2 518.3 272 519.1 270.7 519.9 269.4 520.6 268.1 521.4 266.8 522.2 265.5 522.9 264.2 523.7 262.9 524.4 261.6 525.2 260.3 525.9 259 526.6 257.6 527.4 256.3 528.1 255 528.8 253.7 529.5 252.4 530.3 251 531 249.7 531.7 248.4 532.4 247 533.1 245.7 533.8 244.4 534.5 243 535.2 241.7 535.9 240.4 536.6 239 537.3 237.7 538 236.4 538.7 235 539.4 233.7 540.1 232.4 540.8 231 541.4 229.7 542.1 228.3 542.8 227 543.5 225.7 544.2 224.3 544.9 223 545.6 221.7 546.3 220.3 547 219 547.8 217.7 548.5 216.4 549.2 215 549.9 213.7 550.6 212.4 551.4 211.1 552.1 209.7 552.8 208.4 553.6 207.1 554.3 205.8 555.1 204.5 555.8 203.2 556.6 201.9 557.4 200.6 558.2 199.4 559 198.1 559.8 196.8 560.7 195.6 561.5 194.3 562.4 193.1 563.2 191.9 564.1 190.6 565 189.4 565.9 188.2 566.8 187 567.7 185.8 568.7 184.6 569.6 183.4 570.5 182.3 571.5 181.1 572.4 179.9 573.3 178.7 574.3 177.6 575.2 176.4 576.2 175.2 577.1 174 578.1 172.9 579 171.7 580 170.5 581 169.4 581.9 168.2 582.9 167 583.8 165.9 584.7 164.7 585.7 163.5 586.6 162.3 587.5 161.2 588.5 160 589.4 158.8 590.4 157.6 591.3 156.4 592.3 155.3 593.2 154.1 594.2 153 595.2 151.9 596.3 150.8 597.3 149.7 598.4 148.7 599.5 147.6 600.6 146.6 601.7 145.6 602.8 144.6 604 143.6 605.1 142.7 606.3 141.7 607.5 140.8 608.7 139.9 609.9 138.9 611 138 612.2 137.1 613.4 136.2 614.6 135.2 615.8 134.3 617 133.4 618.1 132.4 619.3 131.5 620.5 130.5 621.6 129.6 622.8 128.6 624 127.6 625.1 126.7 626.3 125.7 627.5 124.8 628.6 123.8 629.8 122.9 631 122 632.2 121.1 633.4 120.1 634.6 119.2 635.8 118.4 637 117.5 638.3 116.6 639.5 115.8 640.8 114.9 642 114.1 643.3 113.3 644.5 112.4 645.8 111.6 647.1 110.9 648.4 110.1 649.7 109.3 651 108.6 652.3 107.9 653.7 107.2 655 106.5 656.4 105.9 657.7 105.2 659.1 104.6 660.5 104.1 661.9 103.5 663.3 103 664.7 102.6 666.2 102.1 667.6 101.8 669.1 101.4 670.5 101.1 672 100.9 673.5 100.6 675 100.4 676.5 100.3 678 100.1 Z" fill="none" stroke="#0000ff" stroke-width="5" stroke-linejoin="round" stroke-linecap="round" />
<path d="M678 98 676.5 97.5 675.1 97.1 673.7 96.6 672.3 96.2 670.8 95.8 669.4 95.5 667.9 95.3 666.4 95 664.9 94.8 663.4 94.7 662 94.6 660.5 94.5 659 94.5 657.5 94.5 656 94.5 654.5 94.6 653 94.7 651.5 94.9 650 95.1 648.5 95.3 647.1 95.5 645.6 95.8 644.1 96.1 642.6 96.3 641.2 96.6 639.7 96.9 638.2 97.2 636.7 97.5 635.3 97.8 633.8 98.1 632.3 98.4 630.8 98.7 629.4 99 627.9 99.3 626.4 99.7 625 100 623.5 100.4 622 100.7 620.6 101.1 619.1 101.5 617.7 101.9 616.2 102.3 614.8 102.7 613.4 103.1 611.9 103.6 610.5 104 609.1 104.5 607.6 105 606.2 105.4 604.8 105.9 603.3 106.4 601.9 106.8 600.5 107.3 599.1 107.8 597.6 108.3 596.2 108.7 594.8 109.2 593.4 109.7 591.9 110.2 590.5 110.6 589.1 111.1 587.7 111.6 586.2 112.1 584.8 112.6 583.4 113.1 582 113.5 580.5 114 579.1 114.5 577.7 115 576.3 115.5 574.9 116 573.4 116.5 572 117 570.6 117.5 569.2 118 567.8 118.5 566.4 119.1 565 119.6 563.5 120.1 562.1 120.6 560.7 121.1 559.3 121.7 557.9 122.2 556.5 122.7 555.1 123.3 553.7 123.8 552.3 124.4 550.9 125 549.5 125.5 548.1 126.1 546.8 126.7 545.4 127.3 544 127.9 542.6 128.5 541.3 129.1 539.9 129.8 538.5 130.4 537.2 131 535.8 131.6 534.4 132.3 533.1 132.9 531.7 133.6 530.4 134.2 529 134.9 527.7 135.6 526.3 136.3 525 136.9 523.7 137.6 522.3 138.3 521 139 519.7 139.7 518.3 140.4 517 141.1 515.6 141.8 514.3 142.5 513 143.2 511.6 143.8 510.3 144.5 508.9 145.2 507.6 145.8 506.2 146.5 504.9 147.1 503.5 147.7 502.1 148.3 500.8 149 499.4 149.6 498 150.2 496.6 150.8 495.3 151.4 493.9 152 492.5 152.6 491.2 153.3 489.8 153.9 488.4 154.5 487.1 155.2 485.7 155.9 484.4 156.5 483 157.2 481.7 157.9 480.4 158.6 479 159.3 477.7 160 476.4 160.7 475 161.4 473.7 162.1 472.4 162.7 471 163.4 469.7 164.1 468.3 164.8 467 165.4 465.6 166.1 464.3 166.7 462.9 167.3 461.5 167.9 460.1 168.6 458.8 169.1 457.4 169.7 456 170.3 454.6 170.9 453.2 171.5 451.8 172 450.4 172.6 449 173.1 447.6 173.7 446.2 174.2 444.8 174.8 443.4 175.3 442 175.9 440.6 176.4 439.2 176.9 437.8 177.5 436.4 178 435 178.5 433.6 179.1 432.2 179.6 430.8 180.1 429.4 180.7 428 181.2 426.6 181.7 425.2 182.3 423.7 182.8 422.3 183.3 420.9 183.9 419.5 184.4 418.1 185 416.7 185.5 415.3 186.1 413.9 186.6 412.5 187.1 411.1 187.7 409.7 188.2 408.3 188.8 406.9 189.4 405.5 189.9 404.1 190.5 402.8 191 401.4 191.6 400 192.2 398.6 192.8 397.2 193.4 395.8 194 394.5 194.6 393.1 195.2 391.7 195.9 390.4 196.5 389.1 197.2 387.7 197.9 386.4 198.7 385.1 199.4 383.8 200.2 382.6 201 381.3 201.8 380 202.6 378.8 203.4 377.5 204.2 376.3 205.1 375 205.9 373.8 206.8 372.6 207.7 371.4 208.6 370.2 209.5 369 210.4 367.8 211.3 366.6 212.2 365.4 213.1 364.3 214.1 363.1 215.1 362 216 360.9 217 359.8 218.1 358.7 219.1 357.6 220.1 356.5 221.2 355.5 222.3 354.5 223.4 353.4 224.5 352.4 225.6 351.5 226.7 350.5 227.9 349.5 229 348.6 230.2 347.7 231.4 346.8 232.6 345.9 233.8 345 235 344.2 236.3 343.3 237.5 342.5 238.8 341.7 240 340.9 241.3 340.1 242.6 339.4 243.9 338.6 245.2 337.9 246.5 337.2 247.9 336.6 249.2 335.9 250.5 335.2 251.9 334.6 253.3 334 254.6 333.4 256 332.8 257.4 332.3 258.8 331.7 260.2 331.2 261.6 330.7 263 330.2 264.4 329.8 265.9 329.3 267.3 328.8 268.7 328.4 270.2 328 271.6 327.5 273.1 327.1 274.5 326.7 275.9 326.3 277.4 325.9 278.8 325.4 280.3 325 281.7 324.6 283.2 324.2 284.6 323.8 286 323.3 287.5 322.9 288.9 322.5 290.4 322 291.8 321.6 293.2 321.1 294.7 320.7 296.1 320.2 297.5 319.8 299 319.3 300.4 318.8 301.8 318.3 303.2 317.8 304.6 317.2 306 316.7 307.4 316.1 308.8 315.6 310.2 315 311.6 314.4 313 313.8 314.4 313.2 315.8 312.6 317.2 312 318.5 311.5 319.9 310.9 321.3 310.3 322.7 309.7 324.1 309.2 325.5 308.6 326.9 308.1 328.3 307.5 329.7 307 331.1 306.5 332.5 305.9 333.9 305.4 335.3 304.9 336.7 304.3 338.1 303.8 339.5 303.2 340.9 302.7 342.3 302.1 343.7 301.5 345.1 300.9 346.5 300.3 347.8 299.7 349.2 299.1 350.6 298.5 352 297.8 353.3 297.2 354.7 296.5 356 295.9 357.4 295.2 358.7 294.5 360.1 293.8 361.4 293.2 362.7 292.5 364.1 291.8 365.4 291.1 366.7 290.3 368.1 289.6 369.4 288.9 370.7 288.2 372 287.5 373.3 286.7 374.7 286 376 285.2 377.3 284.5 378.6 283.7 379.9 282.9 381.2 282.2 382.4 281.4 383.7 280.6 385 279.8 386.3 279 387.6 278.2 388.8 277.4 390.1 276.6 391.4 275.8 392.7 275 393.9 274.2 395.2 273.4 396.4 272.5 397.7 271.7 398.9 270.8 400.2 270 401.4 269.1 402.6 268.2 403.8 267.3 405 266.4 406.2 265.4 407.4 264.5 408.5 263.5 409.7 262.5 410.8 261.5 411.9 260.5 413.1 259.5 414.2 258.5 415.3 257.4 416.3 256.4 417.4 255.3 418.5 254.2 419.5 253.2 420.6 252.1 421.6 251 422.6 249.8 423.6 248.7 424.6 247.6 425.6 246.4 426.6 245.3 427.5 244.1 428.5 242.9 429.4 241.8 430.4 240.6 431.3 239.4 432.2 238.2 433.1 236.9 433.9 235.7 434.8 234.5 435.7 233.2 436.5 232 437.3 230.7 438.2 229.5 439 228.2 439.8 226.9 440.6 225.6 441.3 224.3 442.1 223 442.9 221.7 443.6 220.4 444.4 219.1 445.1 217.8 445.8 216.5 446.5 215.2 447.3 213.8 448 212.5 448.7 211.2 449.4 209.8 450 208.5 450.7 207.1 451.4 205.8 452.1 204.5 452.8 203.1 453.4 201.8 454.1 200.4 454.8 199.1 455.4 197.7 456.1 196.3 456.7 195 457.3 193.6 458 192.3 458.6 190.9 459.2 189.5 459.9 188.2 460.5 186.8 461.1 185.4 461.7 184 462.3 182.6 462.9 181.2 463.4 179.9 464 178.5 464.6 177.1 465.1 175.7 465.7 174.3 466.2 172.9 466.8 171.4 467.3 170 467.8 168.6 468.3 167.2 468.8 165.8 469.3 164.4 469.8 165.9 469.7 167.4 469.6 168.9 469.6 170.4 469.5 171.9 469.3 173.4 469.2 174.9 469.1 176.4 469 177.9 468.9 179.4 468.7 180.9 468.6 182.4 468.4 183.9 468.3 185.4 468.1 186.9 467.9 188.4 467.7 189.9 467.6 191.4 467.4 192.9 467.2 194.3 467 195.8 466.8 197.3 466.6 198.8 466.3 200.3 466.1 201.8 465.9 203.3 465.6 204.8 465.3 206.2 465.1 207.7 464.8 209.2 464.5 210.7 464.2 212.1 463.9 213.6 463.5 215.1 463.2 216.5 462.9 218 462.5 219.5 462.2 220.9 461.8 222.4 461.5 223.9 461.1 225.3 460.7 226.8 460.3 228.2 459.9 229.7 459.6 231.1 459.2 232.6 458.8 234 458.4 235.5 457.9 236.9 457.5 238.4 457.1 239.8 456.6 241.2 456.2 242.7 455.7 244.1 455.3 245.5 454.8 247 454.3 248.4 453.8 249.8 453.3 251.2 452.8 252.6 452.3 254 451.8 255.5 451.2 256.9 450.7 258.3 450.2 259.7 449.6 261.1 449.1 262.5 448.5 263.9 447.9 265.3 447.4 266.7 446.8 268 446.2 269.4 445.7 270.8 445.1 272.2 444.5 273.6 443.9 275 443.3 276.4 442.7 277.8 442.1 279.1 441.5 280.5 440.9 281.9 440.3 283.2 439.7 284.6 439 286 438.4 287.3 437.8 288.7 437.1 290.1 436.5 291.4 435.8 292.8 435.2 294.2 434.6 295.5 433.9 296.9 433.3 298.3 432.7 299.6 432.1 301 431.5 302.4 430.9 303.8 430.3 305.2 429.7 306.6 429.1 307.9 428.5 309.3 427.9 310.7 427.4 312.1 426.8 313.5 426.2 314.9 425.7 316.3 425.1 317.7 424.5 319.1 424 320.5 423.4 321.9 422.9 323.3 422.3 324.7 421.7 326.1 421.2 327.5 420.6 328.9 420.1 330.3 419.5 331.7 418.9 333.1 418.4 334.5 417.8 335.9 417.3 337.3 416.7 338.7 416.1 340.1 415.6 341.5 415 342.9 414.4 344.3 413.9 345.6 413.3 347 412.7 348.4 412.2 349.8 411.6 351.2 411 352.6 410.5 354 409.9 355.4 409.3 356.8 408.8 358.2 408.2 359.6 407.6 361 407.1 362.4 406.5 363.8 405.9 365.2 405.3 366.6 404.8 368 404.2 369.3 403.6 370.7 403 372.1 402.4 373.5 401.8 374.9 401.2 376.3 400.6 377.6 400 379 399.4 380.4 398.8 381.8 398.2 383.1 397.5 384.5 396.9 385.9 396.3 387.2 395.6 388.6 395 389.9 394.3 391.3 393.7 392.6 393 394 392.4 395.3 391.7 396.7 391 398 390.4 399.4 389.7 400.7 389 402.1 388.4 403.4 387.7 404.8 387 406.1 386.3 407.5 385.7 408.8 385 410.2 384.3 411.5 383.6 412.9 383 414.2 382.3 415.6 381.6 416.9 381 418.3 380.3 419.6 379.7 421 379 422.3 378.3 423.7 377.7 425.1 377 426.4 376.4 427.8 375.8 429.1 375.1 430.5 374.5 431.9 373.8 433.2 373.2 434.6 372.5 435.9 371.9 437.3 371.2 438.6 370.5 440 369.9 441.3 369.2 442.7 368.5 444 367.8 445.3 367.1 446.7 366.4 448 365.7 449.3 365 450.7 364.3 452 363.6 453.3 362.9 454.7 362.2 456 361.5 457.3 360.7 458.6 360 459.9 359.3 461.2 358.5 462.6 357.8 463.9 357.1 465.2 356.3 466.5 355.6 467.8 354.8 469.1 354.1 470.4 353.3 471.7 352.5 473 351.7 474.2 350.9 475.5 350.2 476.8 349.4 478.1 348.5 479.3 347.7 480.6 346.9 481.9 346.1 483.1 345.3 484.4 344.4 485.6 343.6 486.9 342.8 488.1 341.9 489.4 341.1 490.6 340.2 491.8 339.3 493.1 338.5 494.3 337.6 495.5 336.7 496.7 335.8 498 335 499.2 334.1 500.4 333.2 501.6 332.3 502.8 331.4 504 330.4 505.2 329.5 506.3 328.6 507.5 327.6 508.7 326.7 509.9 325.8 511 324.8 512.2 323.8 513.3 322.9 514.5 321.9 515.6 320.9 516.8 319.9 517.9 318.9 519 317.9 520.1 316.9 521.2 315.8 522.2 314.8 523.3 313.7 524.3 312.6 525.4 311.5 526.4 310.4 527.4 309.3 528.4 308.1 529.3 307 530.3 305.8 531.2 304.6 532.1 303.4 533 302.2 533.9 301 534.7 299.8 535.6 298.5 536.4 297.3 537.2 296 538 294.7 538.8 293.5 539.6 292.2 540.3 290.9 541 289.5 541.8 288.2 542.5 286.9 543.2 285.6 543.9 284.2 544.6 282.9 545.3 281.6 546 280.3 546.8 278.9 547.5 277.6 548.2 276.3 549 275 549.7 273.7 550.4 272.4 551.2 271.1 551.9 269.7 552.6 268.4 553.3 267.1 554 265.8 554.7 264.4 555.4 263.1 556.1 261.8 556.8 260.4 557.4 259.1 558.1 257.7 558.7 256.3 559.3 255 559.9 253.6 560.6 252.2 561.2 250.8 561.7 249.4 562.3 248.1 562.9 246.7 563.5 245.3 564.1 243.9 564.6 242.5 565.2 241.1 565.8 239.7 566.3 238.3 566.9 236.9 567.4 235.5 568 234.1 568.5 232.7 569.1 231.3 569.6 229.9 570.1 228.5 570.7 227.1 571.2 225.7 571.8 224.3 572.4 222.9 572.9 221.5 573.5 220.1 574.1 218.7 574.7 217.3 575.3 216 575.9 214.6 576.6 213.2 577.2 211.9 577.9 210.5 578.5 209.2 579.2 207.8 579.9 206.5 580.5 205.1 581.2 203.8 581.9 202.4 582.6 201.1 583.2 199.7 583.9 198.4 584.6 197 585.3 195.7 585.9 194.3 586.6 193 587.3 191.6 587.9 190.3 588.6 188.9 589.3 187.6 590 186.3 590.7 184.9 591.4 183.6 592.1 182.3 592.8 180.9 593.5 179.6 594.2 178.3 595 177 595.7 175.7 596.5 174.4 597.3 173.1 598 171.8 598.8 170.5 599.6 169.3 600.5 168 601.3 166.7 602.1 165.5 603 164.3 603.9 163 604.7 161.8 605.6 160.6 606.6 159.4 607.5 158.3 608.5 157.1 609.5 156 610.5 154.9 611.6 153.9 612.7 152.8 613.7 151.8 614.9 150.8 616 149.8 617.1 148.8 618.2 147.8 619.4 146.8 620.5 145.8 621.6 144.8 622.7 143.8 623.8 142.8 625 141.7 626.1 140.7 627.1 139.7 628.2 138.7 629.3 137.6 630.4 136.6 631.5 135.5 632.6 134.5 633.7 133.5 634.8 132.4 635.9 131.4 636.9 130.3 638 129.3 639.1 128.2 640.2 127.2 641.3 126.1 642.4 125.1 643.5 124.1 644.5 123 645.6 122 646.8 121 647.9 120 649 119 650.1 118 651.3 117 652.4 116 653.6 115 654.7 114.1 655.9 113.1 657.1 112.2 658.2 111.3 659.4 110.3 660.6 109.4 661.8 108.5 663 107.6 664.2 106.7 665.4 105.7 666.6 104.8 667.8 104 669 103.1 670.3 102.2 671.5 101.4 672.8 100.6 674.1 99.8 675.4 99.1 676.7 98.3 678 97.6 Z" fill="none" stroke="#3aad6c" stroke-width="5" stroke-linejoin="round" stroke-linecap="round" />
<path d="M678 97.1 676.5 96.7 675.1 96.2 673.7 95.8 672.2 95.4 670.8 95 669.3 94.7 667.9 94.4 666.4 94.2 664.9 94 663.4 93.8 661.9 93.7 660.4 93.7 658.9 93.6 657.4 93.6 655.9 93.7 654.4 93.7 652.9 93.9 651.5 94 650 94.2 648.5 94.4 647 94.7 645.5 94.9 644 95.2 642.6 95.5 641.1 95.8 639.6 96.1 638.1 96.5 636.7 96.8 635.2 97.1 633.7 97.5 632.3 97.8 630.8 98.2 629.4 98.5 627.9 98.9 626.4 99.3 625 99.7 623.5 100.1 622.1 100.5 620.6 101 619.2 101.4 617.8 101.8 616.3 102.3 614.9 102.8 613.5 103.2 612 103.7 610.6 104.2 609.2 104.7 607.8 105.2 606.3 105.7 604.9 106.2 603.5 106.7 602.1 107.2 600.6 107.6 599.2 108.1 597.8 108.6 596.4 109.1 594.9 109.5 593.5 110 592 110.4 590.6 110.9 589.2 111.3 587.7 111.7 586.3 112.2 584.8 112.6 583.4 113 582 113.5 580.5 113.9 579.1 114.4 577.6 114.8 576.2 115.3 574.8 115.7 573.3 116.2 571.9 116.6 570.5 117.1 569 117.6 567.6 118 566.2 118.5 564.8 119 563.3 119.5 561.9 120 560.5 120.5 559.1 121 557.7 121.5 556.2 122.1 554.8 122.6 553.4 123.1 552 123.7 550.6 124.2 549.2 124.8 547.8 125.4 546.4 125.9 545.1 126.5 543.7 127.1 542.3 127.7 540.9 128.3 539.5 128.9 538.2 129.6 536.8 130.2 535.4 130.8 534 131.4 532.7 132.1 531.3 132.7 530 133.4 528.6 134 527.3 134.7 525.9 135.4 524.6 136.1 523.2 136.7 521.9 137.4 520.5 138.1 519.2 138.8 517.9 139.5 516.5 140.2 515.2 140.8 513.8 141.5 512.5 142.2 511.1 142.9 509.8 143.5 508.4 144.1 507 144.8 505.7 145.4 504.3 146 502.9 146.6 501.5 147.2 500.2 147.8 498.8 148.4 497.4 149 496 149.6 494.6 150.2 493.2 150.8 491.8 151.4 490.4 151.9 489 152.5 487.6 153.1 486.2 153.6 484.8 154.2 483.4 154.7 482 155.3 480.6 155.8 479.2 156.4 477.8 157 476.4 157.5 475 158.1 473.6 158.6 472.2 159.2 470.8 159.7 469.4 160.3 468 160.8 466.6 161.4 465.2 161.9 463.8 162.5 462.4 163.1 461 163.6 459.6 164.2 458.2 164.7 456.8 165.3 455.4 165.8 454 166.4 452.6 167 451.2 167.5 449.8 168.1 448.4 168.6 447 169.2 445.6 169.7 444.2 170.3 442.8 170.8 441.4 171.4 440 171.9 438.6 172.5 437.2 173 435.8 173.6 434.4 174.1 433 174.7 431.6 175.2 430.2 175.7 428.8 176.3 427.4 176.8 426 177.3 424.5 177.8 423.1 178.4 421.7 178.9 420.3 179.4 418.9 179.9 417.5 180.4 416 180.9 414.6 181.4 413.2 181.9 411.8 182.4 410.4 182.9 408.9 183.4 407.5 184 406.1 184.5 404.7 185 403.3 185.6 401.9 186.1 400.5 186.7 399.1 187.2 397.7 187.8 396.3 188.4 394.9 189 393.6 189.6 392.2 190.2 390.8 190.8 389.4 191.4 388.1 192 386.7 192.7 385.3 193.3 384 193.9 382.6 194.6 381.3 195.3 379.9 195.9 378.6 196.6 377.2 197.3 375.9 198 374.6 198.8 373.3 199.5 372 200.3 370.8 201.1 369.5 201.9 368.3 202.8 367.1 203.7 365.9 204.6 364.7 205.5 363.5 206.5 362.4 207.4 361.2 208.4 360.1 209.4 359 210.4 357.9 211.5 356.8 212.5 355.8 213.6 354.7 214.7 353.7 215.8 352.7 216.9 351.7 218 350.7 219.1 349.7 220.3 348.7 221.4 347.7 222.6 346.8 223.7 345.9 224.9 344.9 226.1 344 227.3 343.1 228.5 342.2 229.7 341.4 231 340.5 232.2 339.7 233.4 338.9 234.7 338 236 337.3 237.2 336.5 238.5 335.7 239.8 334.9 241.1 334.2 242.4 333.5 243.8 332.8 245.1 332.1 246.4 331.4 247.8 330.7 249.1 330.1 250.5 329.5 251.8 328.8 253.2 328.2 254.6 327.7 256 327.1 257.4 326.5 258.8 326 260.2 325.5 261.6 324.9 263 324.4 264.4 324 265.8 323.5 267.3 323 268.7 322.6 270.1 322.1 271.6 321.7 273 321.3 274.5 320.8 275.9 320.4 277.4 320 278.8 319.6 280.3 319.2 281.7 318.8 283.2 318.4 284.6 318 286.1 317.6 287.5 317.2 289 316.8 290.4 316.4 291.9 316 293.3 315.6 294.8 315.2 296.2 314.8 297.7 314.3 299.1 313.9 300.6 313.4 302 313 303.4 312.5 304.8 311.9 306.2 311.4 307.7 310.9 309.1 310.3 310.5 309.8 311.9 309.2 313.2 308.6 314.6 308 316 307.4 317.4 306.8 318.8 306.2 320.2 305.6 321.5 305 322.9 304.4 324.3 303.8 325.7 303.2 327.1 302.6 328.5 302 329.8 301.4 331.2 300.9 332.6 300.3 334 299.7 335.4 299.1 336.8 298.5 338.2 297.9 339.6 297.3 340.9 296.7 342.3 296.1 343.7 295.5 345.1 294.9 346.5 294.3 347.8 293.6 349.2 293 350.6 292.3 351.9 291.7 353.3 291 354.6 290.4 356 289.7 357.3 289.1 358.7 288.4 360 287.7 361.4 287 362.7 286.4 364.1 285.7 365.4 285 366.8 284.3 368.1 283.6 369.4 282.9 370.8 282.2 372.1 281.5 373.4 280.7 374.7 280 376.1 279.3 377.4 278.6 378.7 277.8 380 277.1 381.3 276.3 382.6 275.6 383.9 274.8 385.2 274.1 386.5 273.3 387.8 272.5 389.1 271.7 390.4 270.9 391.7 270.1 393 269.3 394.2 268.5 395.5 267.7 396.8 266.9 398 266 399.3 265.2 400.5 264.3 401.8 263.5 403 262.6 404.2 261.7 405.5 260.8 406.7 259.9 407.9 259 409.1 258.1 410.3 257.2 411.5 256.2 412.6 255.3 413.8 254.4 415 253.4 416.1 252.4 417.3 251.5 418.5 250.5 419.6 249.5 420.7 248.5 421.9 247.5 423 246.5 424.1 245.5 425.2 244.4 426.3 243.4 427.4 242.3 428.4 241.2 429.5 240.1 430.5 239 431.5 237.9 432.5 236.7 433.5 235.6 434.4 234.4 435.4 233.2 436.3 232 437.2 230.8 438 229.5 438.9 228.3 439.7 227 440.6 225.8 441.4 224.5 442.2 223.2 443 221.9 443.7 220.6 444.5 219.3 445.3 218 446 216.7 446.7 215.4 447.5 214 448.2 212.7 448.9 211.4 449.6 210 450.3 208.7 451 207.4 451.7 206 452.4 204.7 453 203.3 453.7 202 454.3 200.6 455 199.2 455.6 197.9 456.3 196.5 456.9 195.1 457.5 193.8 458.1 192.4 458.8 191 459.4 189.6 460 188.2 460.6 186.9 461.1 185.5 461.7 184.1 462.3 182.7 462.9 181.3 463.4 179.9 464 178.5 464.6 177.1 465.1 175.7 465.7 174.3 466.2 172.9 466.7 171.5 467.3 170 467.8 168.6 468.3 167.2 468.8 165.8 469.3 164.4 469.8 165.9 469.8 167.4 469.8 168.9 469.8 170.4 469.7 171.9 469.7 173.4 469.6 174.9 469.6 176.4 469.6 177.9 469.5 179.4 469.4 180.9 469.4 182.4 469.3 183.9 469.2 185.4 469.2 186.9 469.1 188.4 469 189.9 468.9 191.4 468.8 192.9 468.7 194.4 468.6 195.9 468.5 197.4 468.3 198.9 468.2 200.4 468 201.9 467.9 203.4 467.7 204.9 467.5 206.4 467.3 207.9 467 209.4 466.8 210.8 466.5 212.3 466.3 213.8 466 215.3 465.7 216.7 465.4 218.2 465.1 219.7 464.8 221.2 464.5 222.6 464.1 224.1 463.8 225.5 463.4 227 463.1 228.5 462.7 229.9 462.3 231.4 462 232.8 461.6 234.3 461.2 235.7 460.8 237.2 460.4 238.6 459.9 240.1 459.5 241.5 459 242.9 458.6 244.3 458.1 245.8 457.6 247.2 457.1 248.6 456.5 250 456 251.4 455.4 252.8 454.9 254.2 454.3 255.5 453.7 256.9 453.1 258.3 452.5 259.7 451.9 261.1 451.3 262.4 450.7 263.8 450.1 265.2 449.5 266.6 448.9 267.9 448.2 269.3 447.6 270.7 447 272 446.4 273.4 445.8 274.8 445.2 276.2 444.5 277.5 443.9 278.9 443.3 280.3 442.7 281.6 442.1 283 441.4 284.4 440.8 285.7 440.2 287.1 439.5 288.5 438.9 289.8 438.2 291.2 437.6 292.6 437 293.9 436.3 295.3 435.7 296.7 435.1 298 434.5 299.4 433.9 300.8 433.3 302.2 432.7 303.5 432.1 304.9 431.5 306.3 430.9 307.7 430.3 309.1 429.8 310.5 429.2 311.9 428.6 313.3 428.1 314.7 427.5 316.1 427 317.5 426.4 318.9 425.8 320.3 425.3 321.7 424.7 323.1 424.2 324.5 423.6 325.9 423.1 327.3 422.5 328.7 422 330.1 421.4 331.5 420.9 332.9 420.3 334.3 419.8 335.7 419.2 337.1 418.7 338.5 418.1 339.9 417.6 341.3 417 342.7 416.4 344.1 415.9 345.4 415.3 346.8 414.8 348.2 414.2 349.6 413.6 351 413.1 352.4 412.5 353.8 412 355.2 411.4 356.6 410.8 358 410.3 359.4 409.7 360.8 409.1 362.2 408.6 363.6 408 365 407.5 366.4 406.9 367.8 406.3 369.2 405.8 370.6 405.2 372 404.6 373.4 404.1 374.7 403.5 376.1 402.9 377.5 402.4 378.9 401.8 380.3 401.2 381.7 400.6 383.1 400 384.5 399.5 385.9 398.9 387.3 398.3 388.6 397.7 390 397.1 391.4 396.6 392.8 396 394.2 395.4 395.6 394.8 397 394.2 398.3 393.6 399.7 393 401.1 392.4 402.5 391.9 403.9 391.3 405.3 390.7 406.6 390.1 408 389.5 409.4 388.9 410.8 388.3 412.2 387.7 413.6 387.2 415 386.6 416.3 386 417.7 385.4 419.1 384.8 420.5 384.2 421.9 383.7 423.3 383.1 424.7 382.5 426.1 381.9 427.5 381.4 428.9 380.8 430.2 380.2 431.6 379.6 433 379.1 434.4 378.5 435.8 377.9 437.2 377.3 438.5 376.7 439.9 376 441.3 375.4 442.6 374.8 444 374.1 445.3 373.5 446.7 372.8 448 372.1 449.4 371.5 450.7 370.8 452.1 370.1 453.4 369.4 454.7 368.7 456 368 457.4 367.2 458.7 366.5 460 365.8 461.3 365 462.6 364.3 463.9 363.5 465.2 362.8 466.5 362 467.8 361.2 469.1 360.5 470.4 359.7 471.7 358.9 473 358.2 474.2 357.4 475.5 356.6 476.8 355.8 478.1 355 479.4 354.3 480.7 353.5 482 352.7 483.2 351.9 484.5 351.1 485.8 350.3 487 349.5 488.3 348.6 489.6 347.8 490.8 347 492.1 346.1 493.3 345.3 494.5 344.4 495.8 343.6 497 342.7 498.2 341.8 499.4 340.9 500.6 340 501.8 339.1 503 338.2 504.2 337.3 505.4 336.4 506.6 335.4 507.7 334.5 508.9 333.5 510 332.5 511.2 331.6 512.3 330.6 513.4 329.6 514.6 328.6 515.7 327.6 516.8 326.6 517.9 325.5 519 324.5 520 323.4 521.1 322.3 522.1 321.3 523.1 320.2 524.2 319.1 525.1 317.9 526.1 316.8 527.1 315.6 528 314.5 529 313.3 529.9 312.1 530.8 310.9 531.7 309.7 532.5 308.5 533.4 307.2 534.3 306 535.1 304.8 536 303.5 536.8 302.3 537.7 301 538.5 299.8 539.3 298.5 540.2 297.3 541 296 541.9 294.8 542.7 293.5 543.5 292.3 544.4 291 545.2 289.8 546 288.5 546.8 287.3 547.6 286 548.5 284.7 549.3 283.5 550.1 282.2 550.9 280.9 551.6 279.6 552.4 278.3 553.2 277.1 554 275.8 554.8 274.5 555.5 273.2 556.3 271.9 557 270.6 557.8 269.3 558.5 268 559.2 266.6 559.9 265.3 560.6 264 561.3 262.6 562 261.3 562.6 259.9 563.2 258.6 563.9 257.2 564.5 255.8 565.1 254.4 565.7 253.1 566.2 251.7 566.8 250.3 567.4 248.9 567.9 247.5 568.5 246.1 569.1 244.7 569.6 243.3 570.2 241.9 570.7 240.5 571.3 239.1 571.8 237.7 572.4 236.3 573 234.9 573.5 233.5 574.1 232.1 574.6 230.7 575.2 229.3 575.8 227.9 576.4 226.6 576.9 225.2 577.5 223.8 578.1 222.4 578.7 221 579.3 219.6 579.9 218.3 580.5 216.9 581.2 215.5 581.8 214.2 582.4 212.8 583.1 211.4 583.7 210.1 584.4 208.7 585 207.4 585.7 206 586.4 204.7 587.1 203.3 587.7 202 588.4 200.7 589.1 199.3 589.8 198 590.5 196.7 591.2 195.3 591.9 194 592.7 192.7 593.4 191.4 594.1 190.1 594.8 188.7 595.6 187.4 596.3 186.1 597.1 184.8 597.8 183.5 598.5 182.2 599.3 180.9 600 179.6 600.8 178.3 601.5 177 602.3 175.7 603 174.3 603.8 173 604.5 171.7 605.3 170.4 606.1 169.2 606.8 167.9 607.6 166.6 608.4 165.3 609.2 164.1 610.1 162.8 610.9 161.6 611.8 160.4 612.7 159.1 613.6 157.9 614.5 156.7 615.4 155.6 616.4 154.4 617.4 153.3 618.3 152.1 619.3 151 620.3 149.9 621.3 148.8 622.4 147.7 623.4 146.6 624.5 145.5 625.5 144.4 626.6 143.4 627.7 142.3 628.8 141.3 629.8 140.2 630.9 139.2 632 138.2 633.1 137.1 634.2 136.1 635.3 135 636.4 134 637.4 132.9 638.5 131.9 639.6 130.8 640.6 129.8 641.7 128.7 642.8 127.6 643.8 126.6 644.9 125.5 646 124.5 647 123.4 648.1 122.4 649.2 121.3 650.3 120.3 651.4 119.3 652.6 118.3 653.7 117.3 654.8 116.3 655.9 115.3 657.1 114.3 658.2 113.4 659.4 112.4 660.5 111.4 661.6 110.4 662.8 109.4 663.9 108.5 665.1 107.5 666.2 106.5 667.3 105.5 668.5 104.5 669.6 103.6 670.8 102.6 672 101.7 673.2 100.7 674.3 99.8 675.5 98.9 676.7 98 678 97.1 Z" fill="none" stroke="#ff0000" stroke-width="5" stroke-linejoin="round" stroke-linecap="round" />
<rect x="614.6" y="257" width="90.9" height="228" fill="#fff"/>
<line x1="614.7" y1="268.1" x2="657.6" y2="268.1" stroke="#ff0000" stroke-width="5.4" stroke-linecap="butt"/>
<text x="658.2" y="273.7" font-family="'Liberation Serif', serif" font-size="17" font-weight="normal" text-anchor="start" fill="#000" >293 K</text>
<line x1="614.7" y1="288.7" x2="657.6" y2="288.7" stroke="#3aad6c" stroke-width="5.4" stroke-linecap="butt"/>
<text x="658.2" y="294.3" font-family="'Liberation Serif', serif" font-size="17" font-weight="normal" text-anchor="start" fill="#000" >294 K</text>
<line x1="614.7" y1="309.3" x2="657.6" y2="309.3" stroke="#0000ff" stroke-width="5.4" stroke-linecap="butt"/>
<text x="658.2" y="314.9" font-family="'Liberation Serif', serif" font-size="17" font-weight="normal" text-anchor="start" fill="#000" >295 K</text>
<line x1="614.7" y1="329.9" x2="657.6" y2="329.9" stroke="#00ffff" stroke-width="5.4" stroke-linecap="butt"/>
<text x="658.2" y="335.5" font-family="'Liberation Serif', serif" font-size="17" font-weight="normal" text-anchor="start" fill="#000" >296 K</text>
<line x1="614.7" y1="350.5" x2="657.6" y2="350.5" stroke="#00ff00" stroke-width="5.4" stroke-linecap="butt"/>
<text x="658.2" y="356.1" font-family="'Liberation Serif', serif" font-size="17" font-weight="normal" text-anchor="start" fill="#000" >297 K</text>
<line x1="614.7" y1="371.1" x2="657.6" y2="371.1" stroke="#6bb600" stroke-width="5.4" stroke-linecap="butt"/>
<text x="658.2" y="376.7" font-family="'Liberation Serif', serif" font-size="17" font-weight="normal" text-anchor="start" fill="#000" >298 K</text>
<line x1="614.7" y1="391.7" x2="657.6" y2="391.7" stroke="#ff00ff" stroke-width="5.4" stroke-linecap="butt"/>
<text x="658.2" y="397.3" font-family="'Liberation Serif', serif" font-size="17" font-weight="normal" text-anchor="start" fill="#000" >299 K</text>
<line x1="614.7" y1="412.3" x2="657.6" y2="412.3" stroke="#808000" stroke-width="5.4" stroke-linecap="butt"/>
<text x="658.2" y="417.9" font-family="'Liberation Serif', serif" font-size="17" font-weight="normal" text-anchor="start" fill="#000" >300 K</text>
<line x1="614.7" y1="432.9" x2="657.6" y2="432.9" stroke="#8000ff" stroke-width="5.4" stroke-linecap="butt"/>
<text x="658.2" y="438.5" font-family="'Liberation Serif', serif" font-size="17" font-weight="normal" text-anchor="start" fill="#000" >301 K</text>
<line x1="614.7" y1="453.5" x2="657.6" y2="453.5" stroke="#008000" stroke-width="5.4" stroke-linecap="butt"/>
<text x="658.2" y="459.1" font-family="'Liberation Serif', serif" font-size="17" font-weight="normal" text-anchor="start" fill="#000" >302 K</text>
<line x1="614.7" y1="474.1" x2="657.6" y2="474.1" stroke="#000000" stroke-width="5.4" stroke-linecap="butt"/>
<text x="658.2" y="479.7" font-family="'Liberation Serif', serif" font-size="17" font-weight="normal" text-anchor="start" fill="#000" >303 K</text>
<line x1="700.4" y1="108" x2="700.4" y2="214" stroke="#ff0000" stroke-width="2.8" stroke-linecap="butt"/>
<polygon points="694.8,207 706.0,207 700.4,228" fill="#ff0000"/>
<text x="677.9" y="161" font-family="'Liberation Serif', serif" font-size="27.8" font-weight="normal" text-anchor="start" fill="#000" >T</text>
<line x1="204.35" y1="492.4" x2="204.35" y2="488.9" stroke="#000" stroke-width="3" stroke-linecap="butt"/>
<line x1="291.25" y1="492.4" x2="291.25" y2="488.9" stroke="#000" stroke-width="3" stroke-linecap="butt"/>
<line x1="378.15" y1="492.4" x2="378.15" y2="488.9" stroke="#000" stroke-width="3" stroke-linecap="butt"/>
<line x1="465.05" y1="492.4" x2="465.05" y2="488.9" stroke="#000" stroke-width="3" stroke-linecap="butt"/>
<line x1="551.95" y1="492.4" x2="551.95" y2="488.9" stroke="#000" stroke-width="3" stroke-linecap="butt"/>
<line x1="638.85" y1="492.4" x2="638.85" y2="488.9" stroke="#000" stroke-width="3" stroke-linecap="butt"/>
<line x1="160.9" y1="492.4" x2="160.9" y2="485.4" stroke="#000" stroke-width="3" stroke-linecap="butt"/>
<line x1="247.8" y1="492.4" x2="247.8" y2="485.4" stroke="#000" stroke-width="3" stroke-linecap="butt"/>
<line x1="334.7" y1="492.4" x2="334.7" y2="485.4" stroke="#000" stroke-width="3" stroke-linecap="butt"/>
<line x1="421.6" y1="492.4" x2="421.6" y2="485.4" stroke="#000" stroke-width="3" stroke-linecap="butt"/>
<line x1="508.5" y1="492.4" x2="508.5" y2="485.4" stroke="#000" stroke-width="3" stroke-linecap="butt"/>
<line x1="595.4" y1="492.4" x2="595.4" y2="485.4" stroke="#000" stroke-width="3" stroke-linecap="butt"/>
<line x1="682.3" y1="492.4" x2="682.3" y2="485.4" stroke="#000" stroke-width="3" stroke-linecap="butt"/>
<line x1="136.2" y1="441" x2="139.7" y2="441" stroke="#000" stroke-width="3" stroke-linecap="butt"/>
<line x1="136.2" y1="335" x2="139.7" y2="335" stroke="#000" stroke-width="3" stroke-linecap="butt"/>
<line x1="136.2" y1="229" x2="139.7" y2="229" stroke="#000" stroke-width="3" stroke-linecap="butt"/>
<line x1="136.2" y1="123" x2="139.7" y2="123" stroke="#000" stroke-width="3" stroke-linecap="butt"/>
<line x1="136.2" y1="388" x2="143.2" y2="388" stroke="#000" stroke-width="3" stroke-linecap="butt"/>
<line x1="136.2" y1="282" x2="143.2" y2="282" stroke="#000" stroke-width="3" stroke-linecap="butt"/>
<line x1="136.2" y1="176" x2="143.2" y2="176" stroke="#000" stroke-width="3" stroke-linecap="butt"/>
<rect x="134.6" y="70.1" width="573.7" height="423.9" fill="none" stroke="#000" stroke-width="3.2"/>
<text x="160.9" y="524.8" font-family="'Liberation Serif', serif" font-size="27.7" font-weight="bold" text-anchor="middle" fill="#000" >-30</text>
<text x="247.8" y="524.8" font-family="'Liberation Serif', serif" font-size="27.7" font-weight="bold" text-anchor="middle" fill="#000" >-20</text>
<text x="334.7" y="524.8" font-family="'Liberation Serif', serif" font-size="27.7" font-weight="bold" text-anchor="middle" fill="#000" >-10</text>
<text x="421.6" y="524.8" font-family="'Liberation Serif', serif" font-size="27.7" font-weight="bold" text-anchor="middle" fill="#000" >0</text>
<text x="508.5" y="524.8" font-family="'Liberation Serif', serif" font-size="27.7" font-weight="bold" text-anchor="middle" fill="#000" >10</text>
<text x="595.4" y="524.8" font-family="'Liberation Serif', serif" font-size="27.7" font-weight="bold" text-anchor="middle" fill="#000" >20</text>
<text x="682.3" y="524.8" font-family="'Liberation Serif', serif" font-size="27.7" font-weight="bold" text-anchor="middle" fill="#000" >30</text>
<text x="125.7" y="503.14" font-family="'Liberation Serif', serif" font-size="27.7" font-weight="bold" text-anchor="end" fill="#000" >-10</text>
<text x="125.7" y="397.14" font-family="'Liberation Serif', serif" font-size="27.7" font-weight="bold" text-anchor="end" fill="#000" >-5</text>
<text x="125.7" y="291.14" font-family="'Liberation Serif', serif" font-size="27.7" font-weight="bold" text-anchor="end" fill="#000" >0</text>
<text x="125.7" y="185.14" font-family="'Liberation Serif', serif" font-size="27.7" font-weight="bold" text-anchor="end" fill="#000" >5</text>
<text x="125.7" y="79.14" font-family="'Liberation Serif', serif" font-size="27.7" font-weight="bold" text-anchor="end" fill="#000" >10</text>
<text x="421.9" y="577.3" font-family="'Liberation Serif', serif" font-size="37.3" font-weight="bold" text-anchor="middle" fill="#000" >Electric Field (kV/cm)</text>
<text x="76.2" y="262.8" transform="rotate(-90 76.2 262.8)" font-family="'Liberation Serif', serif" font-size="37.0" font-weight="bold" text-anchor="middle">Polarization (&#956;C/cm<tspan font-size="25" dy="-14">2</tspan><tspan dy="14">)</tspan></text>
<line x1="938.15" y1="476.4" x2="938.15" y2="472.9" stroke="#000" stroke-width="3" stroke-linecap="butt"/>
<line x1="1042.65" y1="476.4" x2="1042.65" y2="472.9" stroke="#000" stroke-width="3" stroke-linecap="butt"/>
<line x1="1147.15" y1="476.4" x2="1147.15" y2="472.9" stroke="#000" stroke-width="3" stroke-linecap="butt"/>
<line x1="1251.65" y1="476.4" x2="1251.65" y2="472.9" stroke="#000" stroke-width="3" stroke-linecap="butt"/>
<line x1="1356.15" y1="476.4" x2="1356.15" y2="472.9" stroke="#000" stroke-width="3" stroke-linecap="butt"/>
<line x1="990.4" y1="476.4" x2="990.4" y2="469.4" stroke="#000" stroke-width="3" stroke-linecap="butt"/>
<line x1="1094.9" y1="476.4" x2="1094.9" y2="469.4" stroke="#000" stroke-width="3" stroke-linecap="butt"/>
<line x1="1199.4" y1="476.4" x2="1199.4" y2="469.4" stroke="#000" stroke-width="3" stroke-linecap="butt"/>
<line x1="1303.9" y1="476.4" x2="1303.9" y2="469.4" stroke="#000" stroke-width="3" stroke-linecap="butt"/>
<line x1="1408.4" y1="476.4" x2="1408.4" y2="469.4" stroke="#000" stroke-width="3" stroke-linecap="butt"/>
<line x1="888.1" y1="445.44" x2="891.6" y2="445.44" stroke="#000" stroke-width="3" stroke-linecap="butt"/>
<line x1="888.1" y1="380.31" x2="891.6" y2="380.31" stroke="#000" stroke-width="3" stroke-linecap="butt"/>
<line x1="888.1" y1="315.18" x2="891.6" y2="315.18" stroke="#000" stroke-width="3" stroke-linecap="butt"/>
<line x1="888.1" y1="250.05" x2="891.6" y2="250.05" stroke="#000" stroke-width="3" stroke-linecap="butt"/>
<line x1="888.1" y1="184.92" x2="891.6" y2="184.92" stroke="#000" stroke-width="3" stroke-linecap="butt"/>
<line x1="888.1" y1="119.79" x2="891.6" y2="119.79" stroke="#000" stroke-width="3" stroke-linecap="butt"/>
<line x1="888.1" y1="412.87" x2="895.1" y2="412.87" stroke="#000" stroke-width="3" stroke-linecap="butt"/>
<line x1="888.1" y1="347.74" x2="895.1" y2="347.74" stroke="#000" stroke-width="3" stroke-linecap="butt"/>
<line x1="888.1" y1="282.61" x2="895.1" y2="282.61" stroke="#000" stroke-width="3" stroke-linecap="butt"/>
<line x1="888.1" y1="217.48" x2="895.1" y2="217.48" stroke="#000" stroke-width="3" stroke-linecap="butt"/>
<line x1="888.1" y1="152.35" x2="895.1" y2="152.35" stroke="#000" stroke-width="3" stroke-linecap="butt"/>
<line x1="888.1" y1="87.22" x2="895.1" y2="87.22" stroke="#000" stroke-width="3" stroke-linecap="butt"/>
<rect x="886.5" y="54.4" width="574" height="423.6" fill="none" stroke="#000" stroke-width="3.2"/>
<text x="885.9" y="509.6" font-family="'Liberation Serif', serif" font-size="27.7" font-weight="bold" text-anchor="middle" fill="#000" >295</text>
<text x="990.4" y="509.6" font-family="'Liberation Serif', serif" font-size="27.7" font-weight="bold" text-anchor="middle" fill="#000" >297</text>
<text x="1094.9" y="509.6" font-family="'Liberation Serif', serif" font-size="27.7" font-weight="bold" text-anchor="middle" fill="#000" >299</text>
<text x="1199.4" y="509.6" font-family="'Liberation Serif', serif" font-size="27.7" font-weight="bold" text-anchor="middle" fill="#000" >301</text>
<text x="1303.9" y="509.6" font-family="'Liberation Serif', serif" font-size="27.7" font-weight="bold" text-anchor="middle" fill="#000" >303</text>
<text x="1408.4" y="509.6" font-family="'Liberation Serif', serif" font-size="27.7" font-weight="bold" text-anchor="middle" fill="#000" >305</text>
<text x="878" y="487.14" font-family="'Liberation Serif', serif" font-size="27.7" font-weight="bold" text-anchor="end" fill="#000" >3</text>
<text x="878" y="422.01" font-family="'Liberation Serif', serif" font-size="27.7" font-weight="bold" text-anchor="end" fill="#000" >4</text>
<text x="878" y="356.88" font-family="'Liberation Serif', serif" font-size="27.7" font-weight="bold" text-anchor="end" fill="#000" >5</text>
<text x="878" y="291.75" font-family="'Liberation Serif', serif" font-size="27.7" font-weight="bold" text-anchor="end" fill="#000" >6</text>
<text x="878" y="226.62" font-family="'Liberation Serif', serif" font-size="27.7" font-weight="bold" text-anchor="end" fill="#000" >7</text>
<text x="878" y="161.49" font-family="'Liberation Serif', serif" font-size="27.7" font-weight="bold" text-anchor="end" fill="#000" >8</text>
<text x="878" y="96.36" font-family="'Liberation Serif', serif" font-size="27.7" font-weight="bold" text-anchor="end" fill="#000" >9</text>
<path d="M912.02 211.62 C916.38 212.05 929.44 214.33 938.15 214.22 C946.86 214.11 955.57 211.51 964.27 210.97 C972.98 210.42 981.69 209.66 990.4 210.97 C999.11 212.27 1007.82 217.7 1016.52 218.78 C1025.23 219.87 1033.94 216.07 1042.65 217.48 C1051.36 218.89 1060.07 225.51 1068.78 227.25 C1077.48 228.99 1086.19 226.71 1094.9 227.9 C1103.61 229.09 1112.32 230.18 1121.03 234.41 C1129.73 238.65 1138.44 249.07 1147.15 253.3 C1155.86 257.53 1164.57 253.19 1173.28 259.81 C1181.98 266.44 1190.69 285.54 1199.4 293.03 C1208.11 300.52 1216.82 290.32 1225.53 304.75 C1234.23 319.19 1242.94 360.01 1251.65 379.65 C1260.36 399.3 1269.07 410.37 1277.78 422.64 C1286.48 434.91 1295.19 447.71 1303.9 453.25 C1312.61 458.79 1321.32 455.1 1330.03 455.86 C1338.73 456.62 1347.44 457.81 1356.15 457.81 C1364.86 457.81 1373.57 455.53 1382.28 455.86 C1390.98 456.18 1399.69 459.87 1408.4 459.76 C1417.11 459.66 1430.17 455.96 1434.53 455.2" fill="none" stroke="#ef3a3a" stroke-width="3.2" stroke-linejoin="round"/>
<circle cx="912.02" cy="211.62" r="7" fill="#ef4242"/>
<circle cx="938.15" cy="214.22" r="7" fill="#ef4242"/>
<circle cx="964.27" cy="210.97" r="7" fill="#ef4242"/>
<circle cx="990.4" cy="210.97" r="7" fill="#ef4242"/>
<circle cx="1016.52" cy="218.78" r="7" fill="#ef4242"/>
<circle cx="1042.65" cy="217.48" r="7" fill="#ef4242"/>
<circle cx="1068.78" cy="227.25" r="7" fill="#ef4242"/>
<circle cx="1094.9" cy="227.9" r="7" fill="#ef4242"/>
<circle cx="1121.03" cy="234.41" r="7" fill="#ef4242"/>
<circle cx="1147.15" cy="253.3" r="7" fill="#ef4242"/>
<circle cx="1173.28" cy="259.81" r="7" fill="#ef4242"/>
<circle cx="1199.4" cy="293.03" r="7" fill="#ef4242"/>
<circle cx="1225.53" cy="304.75" r="7" fill="#ef4242"/>
<circle cx="1251.65" cy="379.65" r="7" fill="#ef4242"/>
<circle cx="1277.78" cy="422.64" r="7" fill="#ef4242"/>
<circle cx="1303.9" cy="453.25" r="7" fill="#ef4242"/>
<circle cx="1330.03" cy="455.86" r="7" fill="#ef4242"/>
<circle cx="1356.15" cy="457.81" r="7" fill="#ef4242"/>
<circle cx="1382.28" cy="455.86" r="7" fill="#ef4242"/>
<circle cx="1408.4" cy="459.76" r="7" fill="#ef4242"/>
<circle cx="1434.53" cy="455.2" r="7" fill="#ef4242"/>
<path d="M912.02 179.7 C916.38 180.03 929.44 181.33 938.15 181.66 C946.86 181.98 955.57 181.44 964.27 181.66 C972.98 181.88 981.69 181.77 990.4 182.96 C999.11 184.16 1007.82 187.41 1016.52 188.82 C1025.23 190.23 1033.94 188.17 1042.65 191.43 C1051.36 194.68 1060.07 205 1068.78 208.36 C1077.48 211.73 1086.19 210.32 1094.9 211.62 C1103.61 212.92 1112.32 211.51 1121.03 216.18 C1129.73 220.85 1138.44 234.52 1147.15 239.62 C1155.86 244.73 1164.57 240.71 1173.28 246.79 C1181.98 252.87 1190.69 268.5 1199.4 276.1 C1208.11 283.7 1216.82 277.73 1225.53 292.38 C1234.23 307.03 1242.94 344.16 1251.65 364.02 C1260.36 383.89 1269.07 397.56 1277.78 411.57 C1286.48 425.57 1295.19 441.42 1303.9 448.04 C1312.61 454.66 1321.32 450.32 1330.03 451.3 C1338.73 452.27 1347.44 453.9 1356.15 453.9 C1364.86 453.9 1373.57 451.3 1382.28 451.3 C1390.98 451.3 1399.69 453.9 1408.4 453.9 C1417.11 453.9 1430.17 451.73 1434.53 451.3" fill="none" stroke="#0000ff" stroke-width="3.2" stroke-linejoin="round"/>
<polygon points="912.02,170.04 920.38,184.54 903.67,184.54" fill="#0000ff"/>
<polygon points="938.15,171.99 946.5,186.49 929.8,186.49" fill="#0000ff"/>
<polygon points="964.27,171.99 972.62,186.49 955.92,186.49" fill="#0000ff"/>
<polygon points="990.4,173.29 998.75,187.79 982.05,187.79" fill="#0000ff"/>
<polygon points="1016.52,179.16 1024.88,193.66 1008.17,193.66" fill="#0000ff"/>
<polygon points="1042.65,181.76 1051,196.26 1034.3,196.26" fill="#0000ff"/>
<polygon points="1068.78,198.7 1077.12,213.2 1060.43,213.2" fill="#0000ff"/>
<polygon points="1094.9,201.95 1103.25,216.45 1086.55,216.45" fill="#0000ff"/>
<polygon points="1121.03,206.51 1129.38,221.01 1112.68,221.01" fill="#0000ff"/>
<polygon points="1147.15,229.96 1155.5,244.46 1138.8,244.46" fill="#0000ff"/>
<polygon points="1173.28,237.12 1181.62,251.62 1164.93,251.62" fill="#0000ff"/>
<polygon points="1199.4,266.43 1207.75,280.93 1191.05,280.93" fill="#0000ff"/>
<polygon points="1225.53,282.71 1233.88,297.21 1217.18,297.21" fill="#0000ff"/>
<polygon points="1251.65,354.36 1260,368.86 1243.3,368.86" fill="#0000ff"/>
<polygon points="1277.78,401.9 1286.12,416.4 1269.43,416.4" fill="#0000ff"/>
<polygon points="1303.9,438.37 1312.25,452.87 1295.55,452.87" fill="#0000ff"/>
<polygon points="1330.03,441.63 1338.38,456.13 1321.68,456.13" fill="#0000ff"/>
<polygon points="1356.15,444.24 1364.5,458.74 1347.8,458.74" fill="#0000ff"/>
<polygon points="1382.28,441.63 1390.62,456.13 1373.93,456.13" fill="#0000ff"/>
<polygon points="1408.4,444.24 1416.75,458.74 1400.05,458.74" fill="#0000ff"/>
<polygon points="1434.53,441.63 1442.88,456.13 1426.18,456.13" fill="#0000ff"/>
<path d="M912.02 158.21 C916.38 158.43 929.44 159.41 938.15 159.51 C946.86 159.62 955.57 158.65 964.27 158.86 C972.98 159.08 981.69 159.95 990.4 160.82 C999.11 161.69 1007.82 162.88 1016.52 164.07 C1025.23 165.27 1033.94 164.94 1042.65 167.98 C1051.36 171.02 1060.07 178.84 1068.78 182.31 C1077.48 185.78 1086.19 185.78 1094.9 188.82 C1103.61 191.86 1112.32 195.01 1121.03 200.55 C1129.73 206.08 1138.44 217.7 1147.15 222.04 C1155.86 226.38 1164.57 220.95 1173.28 226.6 C1181.98 232.24 1190.69 248.2 1199.4 255.91 C1208.11 263.61 1216.82 258.08 1225.53 272.84 C1234.23 287.6 1242.94 324.29 1251.65 344.48 C1260.36 364.67 1269.07 378.13 1277.78 393.98 C1286.48 409.83 1295.19 431.21 1303.9 439.57 C1312.61 447.93 1321.32 443.05 1330.03 444.13 C1338.73 445.22 1347.44 446.09 1356.15 446.09 C1364.86 446.09 1373.57 443.92 1382.28 444.13 C1390.98 444.35 1399.69 447.39 1408.4 447.39 C1417.11 447.39 1430.17 444.68 1434.53 444.13" fill="none" stroke="#00ff00" stroke-width="3.2" stroke-linejoin="round"/>
<polygon points="912.02,167.88 920.38,153.38 903.67,153.38" fill="#00ff00"/>
<polygon points="938.15,169.18 946.5,154.68 929.8,154.68" fill="#00ff00"/>
<polygon points="964.27,168.53 972.62,154.03 955.92,154.03" fill="#00ff00"/>
<polygon points="990.4,170.48 998.75,155.98 982.05,155.98" fill="#00ff00"/>
<polygon points="1016.52,173.74 1024.88,159.24 1008.17,159.24" fill="#00ff00"/>
<polygon points="1042.65,177.65 1051,163.15 1034.3,163.15" fill="#00ff00"/>
<polygon points="1068.78,191.98 1077.12,177.48 1060.43,177.48" fill="#00ff00"/>
<polygon points="1094.9,198.49 1103.25,183.99 1086.55,183.99" fill="#00ff00"/>
<polygon points="1121.03,210.21 1129.38,195.71 1112.68,195.71" fill="#00ff00"/>
<polygon points="1147.15,231.71 1155.5,217.21 1138.8,217.21" fill="#00ff00"/>
<polygon points="1173.28,236.26 1181.62,221.76 1164.93,221.76" fill="#00ff00"/>
<polygon points="1199.4,265.57 1207.75,251.07 1191.05,251.07" fill="#00ff00"/>
<polygon points="1225.53,282.51 1233.88,268.01 1217.18,268.01" fill="#00ff00"/>
<polygon points="1251.65,354.15 1260,339.65 1243.3,339.65" fill="#00ff00"/>
<polygon points="1277.78,403.65 1286.12,389.15 1269.43,389.15" fill="#00ff00"/>
<polygon points="1303.9,449.24 1312.25,434.74 1295.55,434.74" fill="#00ff00"/>
<polygon points="1330.03,453.8 1338.38,439.3 1321.68,439.3" fill="#00ff00"/>
<polygon points="1356.15,455.75 1364.5,441.25 1347.8,441.25" fill="#00ff00"/>
<polygon points="1382.28,453.8 1390.62,439.3 1373.93,439.3" fill="#00ff00"/>
<polygon points="1408.4,457.06 1416.75,442.56 1400.05,442.56" fill="#00ff00"/>
<polygon points="1434.53,453.8 1442.88,439.3 1426.18,439.3" fill="#00ff00"/>
<path d="M912.02 134.11 C916.38 133.79 929.44 132.27 938.15 132.16 C946.86 132.05 955.57 133.25 964.27 133.46 C972.98 133.68 981.69 133.57 990.4 133.46 C999.11 133.35 1007.82 131.07 1016.52 132.81 C1025.23 134.55 1033.94 139.54 1042.65 143.88 C1051.36 148.23 1060.07 153.98 1068.78 158.86 C1077.48 163.75 1086.19 168.63 1094.9 173.19 C1103.61 177.75 1112.32 180.46 1121.03 186.22 C1129.73 191.97 1138.44 202.93 1147.15 207.71 C1155.86 212.49 1164.57 209.88 1173.28 214.87 C1181.98 219.87 1190.69 230.72 1199.4 237.67 C1208.11 244.62 1216.82 241.47 1225.53 256.56 C1234.23 271.65 1242.94 307.36 1251.65 328.2 C1260.36 349.04 1269.07 363.26 1277.78 381.61 C1286.48 399.95 1295.19 428.5 1303.9 438.27 C1312.61 448.04 1321.32 439.68 1330.03 440.22 C1338.73 440.77 1347.44 441.53 1356.15 441.53 C1364.86 441.53 1373.57 440.33 1382.28 440.22 C1390.98 440.12 1399.69 441.31 1408.4 440.88 C1417.11 440.44 1430.17 438.16 1434.53 437.62" fill="none" stroke="#ff00ff" stroke-width="3.2" stroke-linejoin="round"/>
<polygon points="912.02,125.71 920.42,134.11 912.02,142.51 903.62,134.11" fill="#ff00ff"/>
<polygon points="938.15,123.76 946.55,132.16 938.15,140.56 929.75,132.16" fill="#ff00ff"/>
<polygon points="964.27,125.06 972.67,133.46 964.27,141.86 955.88,133.46" fill="#ff00ff"/>
<polygon points="990.4,125.06 998.8,133.46 990.4,141.86 982,133.46" fill="#ff00ff"/>
<polygon points="1016.52,124.41 1024.92,132.81 1016.52,141.21 1008.12,132.81" fill="#ff00ff"/>
<polygon points="1042.65,135.48 1051.05,143.88 1042.65,152.28 1034.25,143.88" fill="#ff00ff"/>
<polygon points="1068.78,150.46 1077.18,158.86 1068.78,167.26 1060.38,158.86" fill="#ff00ff"/>
<polygon points="1094.9,164.79 1103.3,173.19 1094.9,181.59 1086.5,173.19" fill="#ff00ff"/>
<polygon points="1121.03,177.82 1129.43,186.22 1121.03,194.62 1112.62,186.22" fill="#ff00ff"/>
<polygon points="1147.15,199.31 1155.55,207.71 1147.15,216.11 1138.75,207.71" fill="#ff00ff"/>
<polygon points="1173.28,206.47 1181.68,214.87 1173.28,223.27 1164.88,214.87" fill="#ff00ff"/>
<polygon points="1199.4,229.27 1207.8,237.67 1199.4,246.07 1191,237.67" fill="#ff00ff"/>
<polygon points="1225.53,248.16 1233.93,256.56 1225.53,264.96 1217.12,256.56" fill="#ff00ff"/>
<polygon points="1251.65,319.8 1260.05,328.2 1251.65,336.6 1243.25,328.2" fill="#ff00ff"/>
<polygon points="1277.78,373.21 1286.18,381.61 1277.78,390.01 1269.38,381.61" fill="#ff00ff"/>
<polygon points="1303.9,429.87 1312.3,438.27 1303.9,446.67 1295.5,438.27" fill="#ff00ff"/>
<polygon points="1330.03,431.82 1338.43,440.22 1330.03,448.62 1321.62,440.22" fill="#ff00ff"/>
<polygon points="1356.15,433.13 1364.55,441.53 1356.15,449.93 1347.75,441.53" fill="#ff00ff"/>
<polygon points="1382.28,431.82 1390.68,440.22 1382.28,448.62 1373.88,440.22" fill="#ff00ff"/>
<polygon points="1408.4,432.48 1416.8,440.88 1408.4,449.28 1400,440.88" fill="#ff00ff"/>
<polygon points="1434.53,429.22 1442.93,437.62 1434.53,446.02 1426.12,437.62" fill="#ff00ff"/>
<path d="M912.02 113.92 C916.38 114.36 929.44 116.2 938.15 116.53 C946.86 116.85 955.57 115.66 964.27 115.88 C972.98 116.09 981.69 117.07 990.4 117.83 C999.11 118.59 1007.82 118.7 1016.52 120.44 C1025.23 122.17 1033.94 125.54 1042.65 128.25 C1051.36 130.97 1060.07 133.25 1068.78 136.72 C1077.48 140.19 1086.19 144.1 1094.9 149.09 C1103.61 154.09 1112.32 160.27 1121.03 166.68 C1129.73 173.08 1138.44 181.01 1147.15 187.52 C1155.86 194.03 1164.57 199.24 1173.28 205.76 C1181.98 212.27 1190.69 219.87 1199.4 226.6 C1208.11 233.33 1216.82 231.27 1225.53 246.14 C1234.23 261.01 1242.94 295.09 1251.65 315.83 C1260.36 336.56 1269.07 351.54 1277.78 370.54 C1286.48 389.53 1295.19 418.73 1303.9 429.8 C1312.61 440.88 1321.32 435.01 1330.03 436.97 C1338.73 438.92 1347.44 440.88 1356.15 441.53 C1364.86 442.18 1373.57 440.77 1382.28 440.88 C1390.98 440.98 1399.69 442.29 1408.4 442.18 C1417.11 442.07 1430.17 440.55 1434.53 440.22" fill="none" stroke="#808000" stroke-width="3.2" stroke-linejoin="round"/>
<polygon points="902.36,113.92 916.86,105.57 916.86,122.27" fill="#808000"/>
<polygon points="928.48,116.53 942.98,108.18 942.98,124.88" fill="#808000"/>
<polygon points="954.61,115.88 969.11,107.53 969.11,124.23" fill="#808000"/>
<polygon points="980.73,117.83 995.23,109.48 995.23,126.18" fill="#808000"/>
<polygon points="1006.86,120.44 1021.36,112.09 1021.36,128.79" fill="#808000"/>
<polygon points="1032.98,128.25 1047.48,119.9 1047.48,136.6" fill="#808000"/>
<polygon points="1059.11,136.72 1073.61,128.37 1073.61,145.07" fill="#808000"/>
<polygon points="1085.23,149.09 1099.73,140.74 1099.73,157.44" fill="#808000"/>
<polygon points="1111.36,166.68 1125.86,158.33 1125.86,175.03" fill="#808000"/>
<polygon points="1137.48,187.52 1151.98,179.17 1151.98,195.87" fill="#808000"/>
<polygon points="1163.61,205.76 1178.11,197.41 1178.11,214.11" fill="#808000"/>
<polygon points="1189.73,226.6 1204.23,218.25 1204.23,234.95" fill="#808000"/>
<polygon points="1215.86,246.14 1230.36,237.79 1230.36,254.49" fill="#808000"/>
<polygon points="1241.98,315.83 1256.48,307.48 1256.48,324.18" fill="#808000"/>
<polygon points="1268.11,370.54 1282.61,362.19 1282.61,378.89" fill="#808000"/>
<polygon points="1294.23,429.8 1308.73,421.45 1308.73,438.15" fill="#808000"/>
<polygon points="1320.36,436.97 1334.86,428.62 1334.86,445.32" fill="#808000"/>
<polygon points="1346.48,441.53 1360.98,433.18 1360.98,449.88" fill="#808000"/>
<polygon points="1372.61,440.88 1387.11,432.53 1387.11,449.23" fill="#808000"/>
<polygon points="1398.73,442.18 1413.23,433.83 1413.23,450.53" fill="#808000"/>
<polygon points="1424.86,440.22 1439.36,431.87 1439.36,448.57" fill="#808000"/>
<path d="M912.02 105.46 C916.38 105.89 929.44 107.63 938.15 108.06 C946.86 108.5 955.57 107.63 964.27 108.06 C972.98 108.5 981.69 110.99 990.4 110.67 C999.11 110.34 1007.82 104.59 1016.52 106.11 C1025.23 107.63 1033.94 116.64 1042.65 119.79 C1051.36 122.93 1060.07 121.96 1068.78 125 C1077.48 128.03 1086.19 133.03 1094.9 138.02 C1103.61 143.01 1112.32 148.33 1121.03 154.96 C1129.73 161.58 1138.44 169.39 1147.15 177.75 C1155.86 186.11 1164.57 197.29 1173.28 205.11 C1181.98 212.92 1190.69 217.37 1199.4 224.64 C1208.11 231.92 1216.82 233.98 1225.53 248.74 C1234.23 263.51 1242.94 292.71 1251.65 313.22 C1260.36 333.74 1269.07 351.32 1277.78 371.84 C1286.48 392.35 1295.19 425.68 1303.9 436.32 C1312.61 446.95 1321.32 435.45 1330.03 435.67 C1338.73 435.88 1347.44 437.73 1356.15 437.62 C1364.86 437.51 1373.57 435.12 1382.28 435.01 C1390.98 434.91 1399.69 437.62 1408.4 436.97 C1417.11 436.32 1430.17 432.08 1434.53 431.11" fill="none" stroke="#8000ff" stroke-width="3.2" stroke-linejoin="round"/>
<polygon points="921.69,105.46 907.19,97.11 907.19,113.81" fill="#8000ff"/>
<polygon points="947.82,108.06 933.32,99.71 933.32,116.41" fill="#8000ff"/>
<polygon points="973.94,108.06 959.44,99.71 959.44,116.41" fill="#8000ff"/>
<polygon points="1000.07,110.67 985.57,102.32 985.57,119.02" fill="#8000ff"/>
<polygon points="1026.19,106.11 1011.69,97.76 1011.69,114.46" fill="#8000ff"/>
<polygon points="1052.32,119.79 1037.82,111.44 1037.82,128.14" fill="#8000ff"/>
<polygon points="1078.44,125 1063.94,116.65 1063.94,133.35" fill="#8000ff"/>
<polygon points="1104.57,138.02 1090.07,129.67 1090.07,146.37" fill="#8000ff"/>
<polygon points="1130.69,154.96 1116.19,146.61 1116.19,163.31" fill="#8000ff"/>
<polygon points="1156.82,177.75 1142.32,169.4 1142.32,186.1" fill="#8000ff"/>
<polygon points="1182.94,205.11 1168.44,196.76 1168.44,213.46" fill="#8000ff"/>
<polygon points="1209.07,224.64 1194.57,216.29 1194.57,232.99" fill="#8000ff"/>
<polygon points="1235.19,248.74 1220.69,240.39 1220.69,257.09" fill="#8000ff"/>
<polygon points="1261.32,313.22 1246.82,304.87 1246.82,321.57" fill="#8000ff"/>
<polygon points="1287.44,371.84 1272.94,363.49 1272.94,380.19" fill="#8000ff"/>
<polygon points="1313.57,436.32 1299.07,427.97 1299.07,444.67" fill="#8000ff"/>
<polygon points="1339.69,435.67 1325.19,427.32 1325.19,444.02" fill="#8000ff"/>
<polygon points="1365.82,437.62 1351.32,429.27 1351.32,445.97" fill="#8000ff"/>
<polygon points="1391.94,435.01 1377.44,426.66 1377.44,443.36" fill="#8000ff"/>
<polygon points="1418.07,436.97 1403.57,428.62 1403.57,445.32" fill="#8000ff"/>
<polygon points="1444.19,431.11 1429.69,422.76 1429.69,439.46" fill="#8000ff"/>
<line x1="1288.7" y1="69.4" x2="1342.8" y2="69.4" stroke="#ef3a3a" stroke-width="3.2" stroke-linecap="butt"/>
<circle cx="1315.8" cy="69.4" r="7" fill="#ef4242"/>
<text x="1347" y="77.4" font-family="'Liberation Serif', serif" font-size="22.8" font-weight="normal" text-anchor="start" fill="#000" >15.2 kV/cm</text>
<line x1="1288.7" y1="97.4" x2="1342.8" y2="97.4" stroke="#0000ff" stroke-width="3.2" stroke-linecap="butt"/>
<polygon points="1315.8,87.73 1324.15,102.23 1307.45,102.23" fill="#0000ff"/>
<text x="1347" y="105.4" font-family="'Liberation Serif', serif" font-size="22.8" font-weight="normal" text-anchor="start" fill="#000" >17.8 kV/cm</text>
<line x1="1288.7" y1="125.4" x2="1342.8" y2="125.4" stroke="#00ff00" stroke-width="3.2" stroke-linecap="butt"/>
<polygon points="1315.8,135.07 1324.15,120.57 1307.45,120.57" fill="#00ff00"/>
<text x="1347" y="133.4" font-family="'Liberation Serif', serif" font-size="22.8" font-weight="normal" text-anchor="start" fill="#000" >20.5 kV/cm</text>
<line x1="1288.7" y1="153.4" x2="1342.8" y2="153.4" stroke="#ff00ff" stroke-width="3.2" stroke-linecap="butt"/>
<polygon points="1315.8,145 1324.2,153.4 1315.8,161.8 1307.4,153.4" fill="#ff00ff"/>
<text x="1347" y="161.4" font-family="'Liberation Serif', serif" font-size="22.8" font-weight="normal" text-anchor="start" fill="#000" >23.2 kV/cm</text>
<line x1="1288.7" y1="181.4" x2="1342.8" y2="181.4" stroke="#808000" stroke-width="3.2" stroke-linecap="butt"/>
<polygon points="1306.13,181.4 1320.63,173.05 1320.63,189.75" fill="#808000"/>
<text x="1347" y="189.4" font-family="'Liberation Serif', serif" font-size="22.8" font-weight="normal" text-anchor="start" fill="#000" >26.6 kV/cm</text>
<line x1="1288.7" y1="209.4" x2="1342.8" y2="209.4" stroke="#8000ff" stroke-width="3.2" stroke-linecap="butt"/>
<polygon points="1325.47,209.4 1310.97,201.05 1310.97,217.75" fill="#8000ff"/>
<text x="1347" y="217.4" font-family="'Liberation Serif', serif" font-size="22.8" font-weight="normal" text-anchor="start" fill="#000" >29.7 kV/cm</text>
<text x="1173.6" y="562.5" font-family="'Liberation Serif', serif" font-size="38" font-weight="bold" text-anchor="middle" fill="#000" >Temperature (K)</text>
<text x="851.3" y="266.0" transform="rotate(-90 851.3 266.0)" font-family="'Liberation Serif', serif" font-size="37.2" font-weight="bold" text-anchor="middle">Polarization (&#956;C/cm<tspan dy="-9">2</tspan><tspan dy="9">)</tspan></text>
<line x1="211.72" y1="1088.7" x2="211.72" y2="1085.2" stroke="#000" stroke-width="3" stroke-linecap="butt"/>
<line x1="339.16" y1="1088.7" x2="339.16" y2="1085.2" stroke="#000" stroke-width="3" stroke-linecap="butt"/>
<line x1="466.6" y1="1088.7" x2="466.6" y2="1085.2" stroke="#000" stroke-width="3" stroke-linecap="butt"/>
<line x1="594.04" y1="1088.7" x2="594.04" y2="1085.2" stroke="#000" stroke-width="3" stroke-linecap="butt"/>
<line x1="275.44" y1="1088.7" x2="275.44" y2="1081.7" stroke="#000" stroke-width="3" stroke-linecap="butt"/>
<line x1="402.88" y1="1088.7" x2="402.88" y2="1081.7" stroke="#000" stroke-width="3" stroke-linecap="butt"/>
<line x1="530.32" y1="1088.7" x2="530.32" y2="1081.7" stroke="#000" stroke-width="3" stroke-linecap="butt"/>
<line x1="657.76" y1="1088.7" x2="657.76" y2="1081.7" stroke="#000" stroke-width="3" stroke-linecap="butt"/>
<line x1="149.6" y1="1049.08" x2="153.1" y2="1049.08" stroke="#000" stroke-width="3" stroke-linecap="butt"/>
<line x1="149.6" y1="979.43" x2="153.1" y2="979.43" stroke="#000" stroke-width="3" stroke-linecap="butt"/>
<line x1="149.6" y1="909.78" x2="153.1" y2="909.78" stroke="#000" stroke-width="3" stroke-linecap="butt"/>
<line x1="149.6" y1="840.13" x2="153.1" y2="840.13" stroke="#000" stroke-width="3" stroke-linecap="butt"/>
<line x1="149.6" y1="770.48" x2="153.1" y2="770.48" stroke="#000" stroke-width="3" stroke-linecap="butt"/>
<line x1="149.6" y1="700.83" x2="153.1" y2="700.83" stroke="#000" stroke-width="3" stroke-linecap="butt"/>
<line x1="149.6" y1="1083.9" x2="156.6" y2="1083.9" stroke="#000" stroke-width="3" stroke-linecap="butt"/>
<line x1="149.6" y1="1014.25" x2="156.6" y2="1014.25" stroke="#000" stroke-width="3" stroke-linecap="butt"/>
<line x1="149.6" y1="944.6" x2="156.6" y2="944.6" stroke="#000" stroke-width="3" stroke-linecap="butt"/>
<line x1="149.6" y1="874.95" x2="156.6" y2="874.95" stroke="#000" stroke-width="3" stroke-linecap="butt"/>
<line x1="149.6" y1="805.3" x2="156.6" y2="805.3" stroke="#000" stroke-width="3" stroke-linecap="butt"/>
<line x1="149.6" y1="735.65" x2="156.6" y2="735.65" stroke="#000" stroke-width="3" stroke-linecap="butt"/>
<rect x="148" y="666" width="573.5" height="424.3" fill="none" stroke="#000" stroke-width="3.2"/>
<text x="148" y="1121.2" font-family="'Liberation Serif', serif" font-size="27.7" font-weight="bold" text-anchor="middle" fill="#000" >297</text>
<text x="275.44" y="1121.2" font-family="'Liberation Serif', serif" font-size="27.7" font-weight="bold" text-anchor="middle" fill="#000" >299</text>
<text x="402.88" y="1121.2" font-family="'Liberation Serif', serif" font-size="27.7" font-weight="bold" text-anchor="middle" fill="#000" >301</text>
<text x="530.32" y="1121.2" font-family="'Liberation Serif', serif" font-size="27.7" font-weight="bold" text-anchor="middle" fill="#000" >303</text>
<text x="657.76" y="1121.2" font-family="'Liberation Serif', serif" font-size="27.7" font-weight="bold" text-anchor="middle" fill="#000" >305</text>
<text x="137.9" y="1093.04" font-family="'Liberation Serif', serif" font-size="27.7" font-weight="bold" text-anchor="end" fill="#000" >0</text>
<text x="137.9" y="1023.39" font-family="'Liberation Serif', serif" font-size="27.7" font-weight="bold" text-anchor="end" fill="#000" >5</text>
<text x="137.9" y="953.74" font-family="'Liberation Serif', serif" font-size="27.7" font-weight="bold" text-anchor="end" fill="#000" >10</text>
<text x="137.9" y="884.09" font-family="'Liberation Serif', serif" font-size="27.7" font-weight="bold" text-anchor="end" fill="#000" >15</text>
<text x="137.9" y="814.44" font-family="'Liberation Serif', serif" font-size="27.7" font-weight="bold" text-anchor="end" fill="#000" >20</text>
<text x="137.9" y="744.79" font-family="'Liberation Serif', serif" font-size="27.7" font-weight="bold" text-anchor="end" fill="#000" >25</text>
<text x="137.9" y="675.14" font-family="'Liberation Serif', serif" font-size="27.7" font-weight="bold" text-anchor="end" fill="#000" >30</text>
<path d="M148 1083.9 149.4 1083.9 150.9 1083.9 152.3 1083.9 153.8 1083.9 155.2 1083.9 156.7 1083.9 158.1 1083.9 159.6 1083.9 161 1083.9 162.5 1083.9 163.9 1083.9 165.3 1083.9 166.8 1083.9 168.2 1083.9 169.7 1083.9 171.1 1083.9 172.6 1083.9 174 1083.9 175.5 1083.9 176.9 1083.9 178.4 1083.9 179.8 1083.9 181.2 1083.9 182.7 1083.9 184.1 1083.9 185.6 1083.9 187 1083.9 188.5 1083.9 189.9 1083.9 191.4 1083.9 192.8 1083.9 194.2 1083.9 195.7 1083.9 197.1 1083.9 198.6 1083.9 200 1083.9 201.5 1083.9 202.9 1083.9 204.4 1083.9 205.8 1083.9 207.3 1083.9 208.7 1083.9 210.1 1083.9 211.6 1083.9 213 1083.9 214.5 1083.9 215.9 1083.9 217.4 1083.9 218.8 1083.9 220.3 1083.9 221.7 1083.9 223.2 1083.9 224.6 1083.9 226 1083.9 227.5 1083.8 228.9 1083.8 230.4 1083.8 231.8 1083.8 233.3 1083.8 234.7 1083.8 236.2 1083.8 237.6 1083.8 239.1 1083.8 240.5 1083.8 241.9 1083.8 243.4 1083.7 244.8 1083.7 246.3 1083.7 247.7 1083.7 249.2 1083.7 250.6 1083.6 252.1 1083.6 253.5 1083.6 255 1083.5 256.4 1083.5 257.8 1083.5 259.3 1083.4 260.7 1083.4 262.2 1083.3 263.6 1083.3 265.1 1083.2 266.5 1083.2 268 1083.1 269.4 1083 270.8 1083 272.3 1082.9 273.7 1082.8 275.2 1082.7 276.6 1082.6 278.1 1082.5 279.5 1082.3 281 1082.2 282.4 1082.1 283.9 1081.9 285.3 1081.7 286.7 1081.6 288.2 1081.4 289.6 1081.2 291.1 1081 292.5 1080.7 294 1080.5 295.4 1080.2 296.9 1079.9 298.3 1079.6 299.8 1079.3 301.2 1079 302.6 1078.6 304.1 1078.2 305.5 1077.8 307 1077.3 308.4 1076.9 309.9 1076.4 311.3 1075.8 312.8 1075.3 314.2 1074.7 315.7 1074.1 317.1 1073.4 318.5 1072.7 320 1072 321.4 1071.2 322.9 1070.4 324.3 1069.5 325.8 1068.6 327.2 1067.7 328.7 1066.7 330.1 1065.7 331.6 1064.6 333 1063.4 334.4 1062.2 335.9 1060.9 337.3 1059.6 338.8 1058.3 340.2 1056.8 341.7 1055.3 343.1 1053.8 344.6 1052.2 346 1050.5 347.4 1048.7 348.9 1046.9 350.3 1045 351.8 1043.1 353.2 1041.1 354.7 1039 356.1 1036.8 357.6 1034.6 359 1032.3 360.5 1029.9 361.9 1027.4 363.3 1024.9 364.8 1022.3 366.2 1019.7 367.7 1016.9 369.1 1014.1 370.6 1011.2 372 1008.3 373.5 1005.3 374.9 1002.2 376.4 999.1 377.8 995.9 379.2 992.6 380.7 989.3 382.1 985.9 383.6 982.5 385 979 386.5 975.5 387.9 971.9 389.4 968.3 390.8 964.7 392.3 961 393.7 957.3 395.1 953.5 396.6 949.8 398 946 399.5 942.2 400.9 938.4 402.4 934.6 403.8 930.8 405.3 927.1 406.7 923.3 408.2 919.5 409.6 915.8 411 912.1 412.5 908.4 413.9 904.8 415.4 901.2 416.8 897.7 418.3 894.2 419.7 890.8 421.2 887.5 422.6 884.2 424 881.1 425.5 878 426.9 875 428.4 872.1 429.8 869.3 431.3 866.6 432.7 864 434.2 861.5 435.6 859.2 437.1 857 438.5 854.9 439.9 852.9 441.4 851.1 442.8 849.5 444.3 847.9 445.7 846.6 447.2 845.3 448.6 844.2 450.1 843.3 451.5 842.6 453 842 454.4 841.5 455.8 841.2 457.3 841.1 458.7 841.1 460.2 841.3 461.6 841.7 463.1 842.2 464.5 842.9 466 843.7 467.4 844.7 468.9 845.9 470.3 847.2 471.7 848.6 473.2 850.2 474.6 851.9 476.1 853.8 477.5 855.8 479 858 480.4 860.3 481.9 862.7 483.3 865.2 484.7 867.8 486.2 870.6 487.6 873.4 489.1 876.3 490.5 879.4 492 882.5 493.4 885.7 494.9 889 496.3 892.4 497.8 895.8 499.2 899.3 500.6 902.9 502.1 906.5 503.5 910.1 505 913.8 506.4 917.5 507.9 921.3 509.3 925 510.8 928.8 512.2 932.6 513.7 936.4 515.1 940.2 516.5 944 518 947.7 519.4 951.5 520.9 955.3 522.3 959 523.8 962.7 525.2 966.3 526.7 970 528.1 973.6 529.6 977.1 531 980.6 532.4 984.1 533.9 987.5 535.3 990.8 536.8 994.1 538.2 997.4 539.7 1000.5 541.1 1003.6 542.6 1006.7 544 1009.7 545.5 1012.6 546.9 1015.4 548.3 1018.2 549.8 1020.9 551.2 1023.5 552.7 1026.1 554.1 1028.6 555.6 1031 557 1033.3 558.5 1035.6 559.9 1037.8 561.3 1039.9 562.8 1042 564.2 1044 565.7 1045.9 567.1 1047.8 568.6 1049.6 570 1051.3 571.5 1052.9 572.9 1054.5 574.4 1056 575.8 1057.5 577.2 1058.9 578.7 1060.2 580.1 1061.5 581.6 1062.8 583 1063.9 584.5 1065.1 585.9 1066.1 587.4 1067.2 588.8 1068.1 590.3 1069.1 591.7 1069.9 593.1 1070.8 594.6 1071.6 596 1072.3 597.5 1073 598.9 1073.7 600.4 1074.4 601.8 1075 603.3 1075.6 604.7 1076.1 606.2 1076.6 607.6 1077.1 609 1077.5 610.5 1078 611.9 1078.4 613.4 1078.8 614.8 1079.1 616.3 1079.5 617.7 1079.8 619.2 1080.1 620.6 1080.3 622.1 1080.6 623.5 1080.8 624.9 1081.1 626.4 1081.3 627.8 1081.5 629.3 1081.7 630.7 1081.8 632.2 1082 633.6 1082.1 635.1 1082.3 636.5 1082.4 637.9 1082.5 639.4 1082.6 640.8 1082.7 642.3 1082.8 643.7 1082.9 645.2 1083 646.6 1083.1 648.1 1083.1 649.5 1083.2 651 1083.3 652.4 1083.3 653.8 1083.4 655.3 1083.4 656.7 1083.5 658.2 1083.5 659.6 1083.5 661.1 1083.6 662.5 1083.6 664 1083.6 665.4 1083.6 666.9 1083.7 668.3 1083.7 669.7 1083.7 671.2 1083.7 672.6 1083.7 674.1 1083.8 675.5 1083.8 677 1083.8 678.4 1083.8 679.9 1083.8 681.3 1083.8 682.8 1083.8 684.2 1083.8 685.6 1083.8 687.1 1083.8 688.5 1083.8 690 1083.9 691.4 1083.9 692.9 1083.9 694.3 1083.9 695.8 1083.9 697.2 1083.9 698.7 1083.9 700.1 1083.9 701.5 1083.9 703 1083.9 704.4 1083.9 705.9 1083.9 707.3 1083.9 708.8 1083.9 710.2 1083.9 711.7 1083.9 713.1 1083.9 714.5 1083.9 716 1083.9 717.4 1083.9 718.9 1083.9 720.3 1083.9 721.8 1083.9 723.2 1083.9 724.7 1083.9" fill="none" stroke="#ff0000" stroke-width="5" stroke-linejoin="round" stroke-linecap="butt" />
<path d="M148 1083.9 149.4 1083.9 150.9 1083.9 152.3 1083.9 153.8 1083.9 155.2 1083.9 156.7 1083.9 158.1 1083.9 159.6 1083.9 161 1083.9 162.5 1083.9 163.9 1083.9 165.3 1083.9 166.8 1083.9 168.2 1083.9 169.7 1083.9 171.1 1083.9 172.6 1083.9 174 1083.9 175.5 1083.9 176.9 1083.9 178.4 1083.9 179.8 1083.9 181.2 1083.9 182.7 1083.9 184.1 1083.9 185.6 1083.9 187 1083.9 188.5 1083.9 189.9 1083.9 191.4 1083.9 192.8 1083.9 194.2 1083.9 195.7 1083.9 197.1 1083.9 198.6 1083.9 200 1083.9 201.5 1083.9 202.9 1083.9 204.4 1083.9 205.8 1083.9 207.3 1083.9 208.7 1083.9 210.1 1083.9 211.6 1083.9 213 1083.9 214.5 1083.9 215.9 1083.9 217.4 1083.9 218.8 1083.9 220.3 1083.9 221.7 1083.9 223.2 1083.9 224.6 1083.9 226 1083.9 227.5 1083.9 228.9 1083.8 230.4 1083.8 231.8 1083.8 233.3 1083.8 234.7 1083.8 236.2 1083.8 237.6 1083.8 239.1 1083.8 240.5 1083.8 241.9 1083.8 243.4 1083.7 244.8 1083.7 246.3 1083.7 247.7 1083.7 249.2 1083.7 250.6 1083.6 252.1 1083.6 253.5 1083.6 255 1083.6 256.4 1083.5 257.8 1083.5 259.3 1083.5 260.7 1083.4 262.2 1083.4 263.6 1083.3 265.1 1083.3 266.5 1083.2 268 1083.1 269.4 1083.1 270.8 1083 272.3 1082.9 273.7 1082.8 275.2 1082.7 276.6 1082.6 278.1 1082.5 279.5 1082.4 281 1082.3 282.4 1082.1 283.9 1082 285.3 1081.8 286.7 1081.6 288.2 1081.5 289.6 1081.2 291.1 1081 292.5 1080.8 294 1080.6 295.4 1080.3 296.9 1080 298.3 1079.7 299.8 1079.4 301.2 1079 302.6 1078.7 304.1 1078.3 305.5 1077.9 307 1077.4 308.4 1077 309.9 1076.5 311.3 1075.9 312.8 1075.4 314.2 1074.8 315.7 1074.1 317.1 1073.5 318.5 1072.8 320 1072 321.4 1071.2 322.9 1070.4 324.3 1069.5 325.8 1068.6 327.2 1067.6 328.7 1066.6 330.1 1065.5 331.6 1064.4 333 1063.2 334.4 1062 335.9 1060.7 337.3 1059.4 338.8 1057.9 340.2 1056.5 341.7 1054.9 343.1 1053.3 344.6 1051.6 346 1049.9 347.4 1048 348.9 1046.1 350.3 1044.2 351.8 1042.1 353.2 1040 354.7 1037.8 356.1 1035.5 357.6 1033.2 359 1030.7 360.5 1028.2 361.9 1025.6 363.3 1023 364.8 1020.2 366.2 1017.4 367.7 1014.5 369.1 1011.5 370.6 1008.4 372 1005.2 373.5 1002 374.9 998.7 376.4 995.3 377.8 991.9 379.2 988.4 380.7 984.8 382.1 981.1 383.6 977.4 385 973.6 386.5 969.8 387.9 965.9 389.4 961.9 390.8 957.9 392.3 953.9 393.7 949.8 395.1 945.7 396.6 941.5 398 937.4 399.5 933.2 400.9 928.9 402.4 924.7 403.8 920.5 405.3 916.2 406.7 912 408.2 907.8 409.6 903.6 411 899.4 412.5 895.2 413.9 891.1 415.4 887 416.8 883 418.3 879 419.7 875.1 421.2 871.2 422.6 867.5 424 863.8 425.5 860.1 426.9 856.6 428.4 853.2 429.8 849.9 431.3 846.7 432.7 843.6 434.2 840.6 435.6 837.7 437.1 835 438.5 832.4 439.9 830 441.4 827.7 442.8 825.6 444.3 823.6 445.7 821.7 447.2 820.1 448.6 818.6 450.1 817.2 451.5 816.1 453 815.1 454.4 814.3 455.8 813.6 457.3 813.2 458.7 812.9 460.2 812.8 461.6 812.9 463.1 813.2 464.5 813.6 466 814.2 467.4 815 468.9 816 470.3 817.2 471.7 818.5 473.2 820 474.6 821.6 476.1 823.4 477.5 825.4 479 827.5 480.4 829.8 481.9 832.3 483.3 834.8 484.7 837.5 486.2 840.4 487.6 843.4 489.1 846.4 490.5 849.7 492 853 493.4 856.4 494.9 859.9 496.3 863.5 497.8 867.2 499.2 871 500.6 874.8 502.1 878.8 503.5 882.7 505 886.8 506.4 890.8 507.9 895 509.3 899.1 510.8 903.3 512.2 907.5 513.7 911.7 515.1 916 516.5 920.2 518 924.4 519.4 928.7 520.9 932.9 522.3 937.1 523.8 941.3 525.2 945.4 526.7 949.5 528.1 953.6 529.6 957.7 531 961.7 532.4 965.6 533.9 969.5 535.3 973.4 536.8 977.1 538.2 980.9 539.7 984.5 541.1 988.1 542.6 991.7 544 995.1 545.5 998.5 546.9 1001.8 548.3 1005 549.8 1008.2 551.2 1011.3 552.7 1014.3 554.1 1017.2 555.6 1020 557 1022.8 558.5 1025.5 559.9 1028.1 561.3 1030.6 562.8 1033 564.2 1035.4 565.7 1037.7 567.1 1039.9 568.6 1042 570 1044 571.5 1046 572.9 1047.9 574.4 1049.7 575.8 1051.5 577.2 1053.2 578.7 1054.8 580.1 1056.4 581.6 1057.8 583 1059.3 584.5 1060.6 585.9 1061.9 587.4 1063.2 588.8 1064.3 590.3 1065.5 591.7 1066.5 593.1 1067.6 594.6 1068.5 596 1069.5 597.5 1070.3 598.9 1071.2 600.4 1072 601.8 1072.7 603.3 1073.4 604.7 1074.1 606.2 1074.7 607.6 1075.3 609 1075.9 610.5 1076.4 611.9 1076.9 613.4 1077.4 614.8 1077.8 616.3 1078.3 617.7 1078.6 619.2 1079 620.6 1079.4 622.1 1079.7 623.5 1080 624.9 1080.3 626.4 1080.5 627.8 1080.8 629.3 1081 630.7 1081.2 632.2 1081.4 633.6 1081.6 635.1 1081.8 636.5 1082 637.9 1082.1 639.4 1082.3 640.8 1082.4 642.3 1082.5 643.7 1082.6 645.2 1082.7 646.6 1082.8 648.1 1082.9 649.5 1083 651 1083.1 652.4 1083.1 653.8 1083.2 655.3 1083.3 656.7 1083.3 658.2 1083.4 659.6 1083.4 661.1 1083.5 662.5 1083.5 664 1083.5 665.4 1083.6 666.9 1083.6 668.3 1083.6 669.7 1083.6 671.2 1083.7 672.6 1083.7 674.1 1083.7 675.5 1083.7 677 1083.7 678.4 1083.8 679.9 1083.8 681.3 1083.8 682.8 1083.8 684.2 1083.8 685.6 1083.8 687.1 1083.8 688.5 1083.8 690 1083.8 691.4 1083.8 692.9 1083.9 694.3 1083.9 695.8 1083.9 697.2 1083.9 698.7 1083.9 700.1 1083.9 701.5 1083.9 703 1083.9 704.4 1083.9 705.9 1083.9 707.3 1083.9 708.8 1083.9 710.2 1083.9 711.7 1083.9 713.1 1083.9 714.5 1083.9 716 1083.9 717.4 1083.9 718.9 1083.9 720.3 1083.9 721.8 1083.9 723.2 1083.9 724.7 1083.9" fill="none" stroke="#0000ff" stroke-width="5" stroke-linejoin="round" stroke-linecap="butt" />
<path d="M148 1083.9 149.4 1083.9 150.9 1083.9 152.3 1083.9 153.8 1083.9 155.2 1083.9 156.7 1083.9 158.1 1083.9 159.6 1083.9 161 1083.9 162.5 1083.9 163.9 1083.9 165.3 1083.9 166.8 1083.9 168.2 1083.9 169.7 1083.9 171.1 1083.9 172.6 1083.9 174 1083.9 175.5 1083.9 176.9 1083.9 178.4 1083.9 179.8 1083.9 181.2 1083.9 182.7 1083.9 184.1 1083.9 185.6 1083.9 187 1083.9 188.5 1083.9 189.9 1083.9 191.4 1083.9 192.8 1083.9 194.2 1083.9 195.7 1083.9 197.1 1083.9 198.6 1083.9 200 1083.9 201.5 1083.9 202.9 1083.9 204.4 1083.9 205.8 1083.9 207.3 1083.9 208.7 1083.9 210.1 1083.9 211.6 1083.9 213 1083.9 214.5 1083.9 215.9 1083.9 217.4 1083.9 218.8 1083.9 220.3 1083.9 221.7 1083.9 223.2 1083.9 224.6 1083.9 226 1083.9 227.5 1083.9 228.9 1083.9 230.4 1083.8 231.8 1083.8 233.3 1083.8 234.7 1083.8 236.2 1083.8 237.6 1083.8 239.1 1083.8 240.5 1083.8 241.9 1083.8 243.4 1083.8 244.8 1083.7 246.3 1083.7 247.7 1083.7 249.2 1083.7 250.6 1083.7 252.1 1083.6 253.5 1083.6 255 1083.6 256.4 1083.6 257.8 1083.5 259.3 1083.5 260.7 1083.5 262.2 1083.4 263.6 1083.4 265.1 1083.3 266.5 1083.3 268 1083.2 269.4 1083.1 270.8 1083.1 272.3 1083 273.7 1082.9 275.2 1082.8 276.6 1082.7 278.1 1082.6 279.5 1082.5 281 1082.3 282.4 1082.2 283.9 1082.1 285.3 1081.9 286.7 1081.7 288.2 1081.6 289.6 1081.4 291.1 1081.2 292.5 1080.9 294 1080.7 295.4 1080.4 296.9 1080.2 298.3 1079.9 299.8 1079.5 301.2 1079.2 302.6 1078.8 304.1 1078.4 305.5 1078 307 1077.6 308.4 1077.1 309.9 1076.6 311.3 1076.1 312.8 1075.5 314.2 1074.9 315.7 1074.3 317.1 1073.6 318.5 1072.9 320 1072.2 321.4 1071.4 322.9 1070.5 324.3 1069.7 325.8 1068.7 327.2 1067.7 328.7 1066.7 330.1 1065.6 331.6 1064.5 333 1063.2 334.4 1062 335.9 1060.6 337.3 1059.2 338.8 1057.8 340.2 1056.3 341.7 1054.7 343.1 1053 344.6 1051.2 346 1049.4 347.4 1047.5 348.9 1045.5 350.3 1043.5 351.8 1041.3 353.2 1039.1 354.7 1036.8 356.1 1034.4 357.6 1031.9 359 1029.3 360.5 1026.7 361.9 1023.9 363.3 1021.1 364.8 1018.1 366.2 1015.1 367.7 1012 369.1 1008.8 370.6 1005.5 372 1002.1 373.5 998.6 374.9 995 376.4 991.4 377.8 987.6 379.2 983.8 380.7 979.9 382.1 975.9 383.6 971.8 385 967.7 386.5 963.4 387.9 959.1 389.4 954.8 390.8 950.4 392.3 945.9 393.7 941.3 395.1 936.7 396.6 932.1 398 927.4 399.5 922.7 400.9 917.9 402.4 913.2 403.8 908.4 405.3 903.5 406.7 898.7 408.2 893.9 409.6 889.1 411 884.2 412.5 879.4 413.9 874.7 415.4 869.9 416.8 865.2 418.3 860.6 419.7 856 421.2 851.4 422.6 846.9 424 842.5 425.5 838.2 426.9 834 428.4 829.8 429.8 825.8 431.3 821.9 432.7 818 434.2 814.4 435.6 810.8 437.1 807.4 438.5 804.1 439.9 801 441.4 798 442.8 795.2 444.3 792.5 445.7 790.1 447.2 787.8 448.6 785.6 450.1 783.7 451.5 782 453 780.4 454.4 779 455.8 777.9 457.3 776.9 458.7 776.1 460.2 775.6 461.6 775.2 463.1 775.1 464.5 775.1 466 775.4 467.4 775.9 468.9 776.5 470.3 777.4 471.7 778.5 473.2 779.7 474.6 781.2 476.1 782.8 477.5 784.7 479 786.7 480.4 788.9 481.9 791.3 483.3 793.9 484.7 796.6 486.2 799.5 487.6 802.6 489.1 805.8 490.5 809.2 492 812.6 493.4 816.3 494.9 820 496.3 823.9 497.8 827.9 499.2 832 500.6 836.2 502.1 840.5 503.5 844.8 505 849.3 506.4 853.8 507.9 858.4 509.3 863 510.8 867.7 512.2 872.4 513.7 877.2 515.1 882 516.5 886.8 518 891.6 519.4 896.4 520.9 901.2 522.3 906.1 523.8 910.9 525.2 915.7 526.7 920.4 528.1 925.2 529.6 929.9 531 934.5 532.4 939.1 533.9 943.7 535.3 948.2 536.8 952.7 538.2 957.1 539.7 961.4 541.1 965.7 542.6 969.8 544 974 545.5 978 546.9 981.9 548.3 985.8 549.8 989.6 551.2 993.3 552.7 996.9 554.1 1000.4 555.6 1003.9 557 1007.2 558.5 1010.5 559.9 1013.6 561.3 1016.7 562.8 1019.7 564.2 1022.6 565.7 1025.4 567.1 1028.1 568.6 1030.7 570 1033.2 571.5 1035.7 572.9 1038 574.4 1040.3 575.8 1042.5 577.2 1044.6 578.7 1046.6 580.1 1048.5 581.6 1050.4 583 1052.2 584.5 1053.9 585.9 1055.5 587.4 1057.1 588.8 1058.6 590.3 1060 591.7 1061.4 593.1 1062.6 594.6 1063.9 596 1065.1 597.5 1066.2 598.9 1067.2 600.4 1068.3 601.8 1069.2 603.3 1070.1 604.7 1071 606.2 1071.8 607.6 1072.6 609 1073.3 610.5 1074 611.9 1074.6 613.4 1075.3 614.8 1075.8 616.3 1076.4 617.7 1076.9 619.2 1077.4 620.6 1077.8 622.1 1078.3 623.5 1078.7 624.9 1079 626.4 1079.4 627.8 1079.7 629.3 1080 630.7 1080.3 632.2 1080.6 633.6 1080.8 635.1 1081 636.5 1081.3 637.9 1081.5 639.4 1081.7 640.8 1081.8 642.3 1082 643.7 1082.1 645.2 1082.3 646.6 1082.4 648.1 1082.5 649.5 1082.6 651 1082.8 652.4 1082.8 653.8 1082.9 655.3 1083 656.7 1083.1 658.2 1083.2 659.6 1083.2 661.1 1083.3 662.5 1083.3 664 1083.4 665.4 1083.4 666.9 1083.5 668.3 1083.5 669.7 1083.5 671.2 1083.6 672.6 1083.6 674.1 1083.6 675.5 1083.7 677 1083.7 678.4 1083.7 679.9 1083.7 681.3 1083.7 682.8 1083.8 684.2 1083.8 685.6 1083.8 687.1 1083.8 688.5 1083.8 690 1083.8 691.4 1083.8 692.9 1083.8 694.3 1083.8 695.8 1083.8 697.2 1083.8 698.7 1083.9 700.1 1083.9 701.5 1083.9 703 1083.9 704.4 1083.9 705.9 1083.9 707.3 1083.9 708.8 1083.9 710.2 1083.9 711.7 1083.9 713.1 1083.9 714.5 1083.9 716 1083.9 717.4 1083.9 718.9 1083.9 720.3 1083.9 721.8 1083.9 723.2 1083.9 724.7 1083.9" fill="none" stroke="#00ff00" stroke-width="5" stroke-linejoin="round" stroke-linecap="butt" />
<path d="M148 1083.9 149.4 1083.9 150.9 1083.9 152.3 1083.9 153.8 1083.9 155.2 1083.9 156.7 1083.9 158.1 1083.9 159.6 1083.9 161 1083.9 162.5 1083.9 163.9 1083.9 165.3 1083.9 166.8 1083.9 168.2 1083.9 169.7 1083.9 171.1 1083.9 172.6 1083.9 174 1083.9 175.5 1083.9 176.9 1083.9 178.4 1083.9 179.8 1083.9 181.2 1083.9 182.7 1083.9 184.1 1083.9 185.6 1083.9 187 1083.9 188.5 1083.9 189.9 1083.9 191.4 1083.9 192.8 1083.9 194.2 1083.9 195.7 1083.9 197.1 1083.9 198.6 1083.9 200 1083.9 201.5 1083.9 202.9 1083.9 204.4 1083.9 205.8 1083.9 207.3 1083.9 208.7 1083.9 210.1 1083.9 211.6 1083.9 213 1083.9 214.5 1083.9 215.9 1083.9 217.4 1083.9 218.8 1083.9 220.3 1083.9 221.7 1083.9 223.2 1083.9 224.6 1083.9 226 1083.9 227.5 1083.9 228.9 1083.9 230.4 1083.9 231.8 1083.9 233.3 1083.9 234.7 1083.9 236.2 1083.9 237.6 1083.9 239.1 1083.8 240.5 1083.8 241.9 1083.8 243.4 1083.8 244.8 1083.8 246.3 1083.8 247.7 1083.8 249.2 1083.8 250.6 1083.8 252.1 1083.8 253.5 1083.8 255 1083.7 256.4 1083.7 257.8 1083.7 259.3 1083.7 260.7 1083.6 262.2 1083.6 263.6 1083.6 265.1 1083.6 266.5 1083.5 268 1083.5 269.4 1083.4 270.8 1083.4 272.3 1083.3 273.7 1083.3 275.2 1083.2 276.6 1083.2 278.1 1083.1 279.5 1083 281 1082.9 282.4 1082.8 283.9 1082.7 285.3 1082.6 286.7 1082.5 288.2 1082.4 289.6 1082.2 291.1 1082.1 292.5 1081.9 294 1081.7 295.4 1081.6 296.9 1081.3 298.3 1081.1 299.8 1080.9 301.2 1080.6 302.6 1080.4 304.1 1080.1 305.5 1079.7 307 1079.4 308.4 1079 309.9 1078.6 311.3 1078.2 312.8 1077.7 314.2 1077.3 315.7 1076.7 317.1 1076.2 318.5 1075.6 320 1075 321.4 1074.3 322.9 1073.6 324.3 1072.8 325.8 1072 327.2 1071.2 328.7 1070.3 330.1 1069.3 331.6 1068.3 333 1067.2 334.4 1066.1 335.9 1064.9 337.3 1063.7 338.8 1062.3 340.2 1060.9 341.7 1059.5 343.1 1057.9 344.6 1056.3 346 1054.6 347.4 1052.8 348.9 1050.9 350.3 1048.9 351.8 1046.9 353.2 1044.7 354.7 1042.5 356.1 1040.1 357.6 1037.7 359 1035.1 360.5 1032.5 361.9 1029.7 363.3 1026.8 364.8 1023.8 366.2 1020.8 367.7 1017.6 369.1 1014.3 370.6 1010.8 372 1007.3 373.5 1003.6 374.9 999.9 376.4 996 377.8 992 379.2 987.9 380.7 983.7 382.1 979.4 383.6 974.9 385 970.4 386.5 965.7 387.9 961 389.4 956.1 390.8 951.2 392.3 946.1 393.7 941 395.1 935.8 396.6 930.5 398 925.1 399.5 919.6 400.9 914.1 402.4 908.5 403.8 902.9 405.3 897.2 406.7 891.5 408.2 885.8 409.6 880 411 874.2 412.5 868.4 413.9 862.6 415.4 856.7 416.8 851 418.3 845.2 419.7 839.4 421.2 833.7 422.6 828.1 424 822.5 425.5 817 426.9 811.5 428.4 806.1 429.8 800.9 431.3 795.7 432.7 790.7 434.2 785.7 435.6 781 437.1 776.3 438.5 771.8 439.9 767.5 441.4 763.3 442.8 759.3 444.3 755.5 445.7 751.9 447.2 748.5 448.6 745.3 450.1 742.3 451.5 739.5 453 736.9 454.4 734.6 455.8 732.5 457.3 730.7 458.7 729 460.2 727.7 461.6 726.6 463.1 725.7 464.5 725.1 466 724.7 467.4 724.6 468.9 724.8 470.3 725.2 471.7 725.9 473.2 726.8 474.6 728 476.1 729.4 477.5 731.1 479 733 480.4 735.1 481.9 737.5 483.3 740.1 484.7 742.9 486.2 746 487.6 749.3 489.1 752.7 490.5 756.4 492 760.2 493.4 764.3 494.9 768.5 496.3 772.9 497.8 777.4 499.2 782.1 500.6 786.9 502.1 791.8 503.5 796.9 505 802.1 506.4 807.4 507.9 812.8 509.3 818.2 510.8 823.8 512.2 829.4 513.7 835.1 515.1 840.8 516.5 846.5 518 852.3 519.4 858.1 520.9 863.9 522.3 869.7 523.8 875.5 525.2 881.3 526.7 887.1 528.1 892.9 529.6 898.6 531 904.2 532.4 909.9 533.9 915.4 535.3 920.9 536.8 926.4 538.2 931.7 539.7 937 541.1 942.2 542.6 947.3 544 952.3 545.5 957.3 546.9 962.1 548.3 966.8 549.8 971.4 551.2 976 552.7 980.4 554.1 984.7 555.6 988.9 557 993 558.5 996.9 559.9 1000.8 561.3 1004.5 562.8 1008.1 564.2 1011.6 565.7 1015 567.1 1018.3 568.6 1021.5 570 1024.6 571.5 1027.5 572.9 1030.3 574.4 1033.1 575.8 1035.7 577.2 1038.2 578.7 1040.7 580.1 1043 581.6 1045.2 583 1047.3 584.5 1049.4 585.9 1051.3 587.4 1053.2 588.8 1055 590.3 1056.7 591.7 1058.3 593.1 1059.8 594.6 1061.3 596 1062.6 597.5 1064 598.9 1065.2 600.4 1066.4 601.8 1067.5 603.3 1068.6 604.7 1069.6 606.2 1070.5 607.6 1071.4 609 1072.2 610.5 1073 611.9 1073.8 613.4 1074.5 614.8 1075.1 616.3 1075.7 617.7 1076.3 619.2 1076.9 620.6 1077.4 622.1 1077.9 623.5 1078.3 624.9 1078.7 626.4 1079.1 627.8 1079.5 629.3 1079.8 630.7 1080.1 632.2 1080.4 633.6 1080.7 635.1 1080.9 636.5 1081.2 637.9 1081.4 639.4 1081.6 640.8 1081.8 642.3 1082 643.7 1082.1 645.2 1082.3 646.6 1082.4 648.1 1082.5 649.5 1082.7 651 1082.8 652.4 1082.9 653.8 1083 655.3 1083 656.7 1083.1 658.2 1083.2 659.6 1083.2 661.1 1083.3 662.5 1083.4 664 1083.4 665.4 1083.5 666.9 1083.5 668.3 1083.5 669.7 1083.6 671.2 1083.6 672.6 1083.6 674.1 1083.7 675.5 1083.7 677 1083.7 678.4 1083.7 679.9 1083.7 681.3 1083.8 682.8 1083.8 684.2 1083.8 685.6 1083.8 687.1 1083.8 688.5 1083.8 690 1083.8 691.4 1083.8 692.9 1083.8 694.3 1083.8 695.8 1083.9 697.2 1083.9 698.7 1083.9 700.1 1083.9 701.5 1083.9 703 1083.9 704.4 1083.9 705.9 1083.9 707.3 1083.9 708.8 1083.9 710.2 1083.9 711.7 1083.9 713.1 1083.9 714.5 1083.9 716 1083.9 717.4 1083.9 718.9 1083.9 720.3 1083.9 721.8 1083.9 723.2 1083.9 724.7 1083.9" fill="none" stroke="#ff00ff" stroke-width="5" stroke-linejoin="round" stroke-linecap="butt" />
<path d="M148 1083.9 149.4 1083.9 150.9 1083.9 152.3 1083.9 153.8 1083.9 155.2 1083.9 156.7 1083.9 158.1 1083.9 159.6 1083.9 161 1083.9 162.5 1083.9 163.9 1083.9 165.3 1083.9 166.8 1083.9 168.2 1083.9 169.7 1083.9 171.1 1083.9 172.6 1083.9 174 1083.9 175.5 1083.9 176.9 1083.9 178.4 1083.9 179.8 1083.9 181.2 1083.9 182.7 1083.9 184.1 1083.9 185.6 1083.9 187 1083.9 188.5 1083.9 189.9 1083.9 191.4 1083.9 192.8 1083.9 194.2 1083.9 195.7 1083.9 197.1 1083.9 198.6 1083.9 200 1083.9 201.5 1083.9 202.9 1083.9 204.4 1083.9 205.8 1083.9 207.3 1083.9 208.7 1083.9 210.1 1083.9 211.6 1083.9 213 1083.9 214.5 1083.9 215.9 1083.9 217.4 1083.9 218.8 1083.9 220.3 1083.9 221.7 1083.9 223.2 1083.9 224.6 1083.9 226 1083.9 227.5 1083.8 228.9 1083.8 230.4 1083.8 231.8 1083.8 233.3 1083.8 234.7 1083.8 236.2 1083.8 237.6 1083.8 239.1 1083.8 240.5 1083.8 241.9 1083.7 243.4 1083.7 244.8 1083.7 246.3 1083.7 247.7 1083.7 249.2 1083.6 250.6 1083.6 252.1 1083.6 253.5 1083.6 255 1083.5 256.4 1083.5 257.8 1083.5 259.3 1083.4 260.7 1083.4 262.2 1083.3 263.6 1083.3 265.1 1083.2 266.5 1083.1 268 1083.1 269.4 1083 270.8 1082.9 272.3 1082.8 273.7 1082.7 275.2 1082.6 276.6 1082.5 278.1 1082.4 279.5 1082.2 281 1082.1 282.4 1081.9 283.9 1081.8 285.3 1081.6 286.7 1081.4 288.2 1081.2 289.6 1081 291.1 1080.7 292.5 1080.5 294 1080.2 295.4 1079.9 296.9 1079.6 298.3 1079.3 299.8 1078.9 301.2 1078.5 302.6 1078.1 304.1 1077.7 305.5 1077.2 307 1076.7 308.4 1076.2 309.9 1075.6 311.3 1075 312.8 1074.4 314.2 1073.7 315.7 1073 317.1 1072.3 318.5 1071.5 320 1070.6 321.4 1069.7 322.9 1068.8 324.3 1067.8 325.8 1066.7 327.2 1065.6 328.7 1064.5 330.1 1063.2 331.6 1062 333 1060.6 334.4 1059.2 335.9 1057.7 337.3 1056.1 338.8 1054.5 340.2 1052.8 341.7 1051 343.1 1049.1 344.6 1047.1 346 1045.1 347.4 1043 348.9 1040.7 350.3 1038.4 351.8 1036 353.2 1033.5 354.7 1030.9 356.1 1028.2 357.6 1025.4 359 1022.5 360.5 1019.5 361.9 1016.4 363.3 1013.2 364.8 1009.8 366.2 1006.4 367.7 1002.9 369.1 999.2 370.6 995.5 372 991.6 373.5 987.6 374.9 983.6 376.4 979.4 377.8 975.1 379.2 970.7 380.7 966.2 382.1 961.6 383.6 956.9 385 952.1 386.5 947.3 387.9 942.3 389.4 937.2 390.8 932.1 392.3 926.9 393.7 921.6 395.1 916.2 396.6 910.8 398 905.3 399.5 899.7 400.9 894.1 402.4 888.4 403.8 882.7 405.3 877 406.7 871.2 408.2 865.4 409.6 859.6 411 853.8 412.5 848 413.9 842.2 415.4 836.4 416.8 830.7 418.3 824.9 419.7 819.2 421.2 813.6 422.6 808 424 802.4 425.5 797 426.9 791.6 428.4 786.3 429.8 781.1 431.3 776 432.7 771 434.2 766.2 435.6 761.4 437.1 756.8 438.5 752.4 439.9 748.1 441.4 744 442.8 740 444.3 736.2 445.7 732.6 447.2 729.2 448.6 725.9 450.1 722.9 451.5 720.1 453 717.5 454.4 715.1 455.8 712.9 457.3 711 458.7 709.2 460.2 707.7 461.6 706.5 463.1 705.5 464.5 704.7 466 704.1 467.4 703.8 468.9 703.8 470.3 703.9 471.7 704.4 473.2 705 474.6 705.9 476.1 707 477.5 708.4 479 710 480.4 711.9 481.9 713.9 483.3 716.2 484.7 718.7 486.2 721.4 487.6 724.3 489.1 727.4 490.5 730.8 492 734.3 493.4 738 494.9 741.8 496.3 745.9 497.8 750.1 499.2 754.5 500.6 759 502.1 763.6 503.5 768.4 505 773.4 506.4 778.4 507.9 783.5 509.3 788.8 510.8 794.1 512.2 799.5 513.7 805 515.1 810.6 516.5 816.2 518 821.9 519.4 827.6 520.9 833.4 522.3 839.1 523.8 844.9 525.2 850.7 526.7 856.6 528.1 862.4 529.6 868.2 531 873.9 532.4 879.7 533.9 885.4 535.3 891.1 536.8 896.7 538.2 902.3 539.7 907.9 541.1 913.3 542.6 918.7 544 924.1 545.5 929.3 546.9 934.5 548.3 939.6 549.8 944.6 551.2 949.6 552.7 954.4 554.1 959.2 555.6 963.8 557 968.3 558.5 972.8 559.9 977.1 561.3 981.4 562.8 985.5 564.2 989.5 565.7 993.4 567.1 997.2 568.6 1000.9 570 1004.5 571.5 1008 572.9 1011.4 574.4 1014.7 575.8 1017.8 577.2 1020.9 578.7 1023.9 580.1 1026.7 581.6 1029.5 583 1032.1 584.5 1034.7 585.9 1037.1 587.4 1039.5 588.8 1041.8 590.3 1044 591.7 1046.1 593.1 1048.1 594.6 1050 596 1051.8 597.5 1053.6 598.9 1055.3 600.4 1056.9 601.8 1058.4 603.3 1059.9 604.7 1061.2 606.2 1062.6 607.6 1063.8 609 1065 610.5 1066.2 611.9 1067.2 613.4 1068.3 614.8 1069.2 616.3 1070.1 617.7 1071 619.2 1071.8 620.6 1072.6 622.1 1073.3 623.5 1074 624.9 1074.7 626.4 1075.3 627.8 1075.9 629.3 1076.4 630.7 1076.9 632.2 1077.4 633.6 1077.9 635.1 1078.3 636.5 1078.7 637.9 1079.1 639.4 1079.4 640.8 1079.7 642.3 1080 643.7 1080.3 645.2 1080.6 646.6 1080.8 648.1 1081.1 649.5 1081.3 651 1081.5 652.4 1081.7 653.8 1081.8 655.3 1082 656.7 1082.2 658.2 1082.3 659.6 1082.4 661.1 1082.5 662.5 1082.7 664 1082.8 665.4 1082.9 666.9 1082.9 668.3 1083 669.7 1083.1 671.2 1083.2 672.6 1083.2 674.1 1083.3 675.5 1083.3 677 1083.4 678.4 1083.4 679.9 1083.5 681.3 1083.5 682.8 1083.5 684.2 1083.6 685.6 1083.6 687.1 1083.6 688.5 1083.7 690 1083.7 691.4 1083.7 692.9 1083.7 694.3 1083.7 695.8 1083.8 697.2 1083.8 698.7 1083.8 700.1 1083.8 701.5 1083.8 703 1083.8 704.4 1083.8 705.9 1083.8 707.3 1083.8 708.8 1083.8 710.2 1083.8 711.7 1083.9 713.1 1083.9 714.5 1083.9 716 1083.9 717.4 1083.9 718.9 1083.9 720.3 1083.9 721.8 1083.9 723.2 1083.9 724.7 1083.9" fill="none" stroke="#808000" stroke-width="5" stroke-linejoin="round" stroke-linecap="butt" />
<path d="M148 1083.9 149.4 1083.9 150.9 1083.9 152.3 1083.9 153.8 1083.9 155.2 1083.9 156.7 1083.9 158.1 1083.9 159.6 1083.9 161 1083.9 162.5 1083.9 163.9 1083.9 165.3 1083.9 166.8 1083.9 168.2 1083.9 169.7 1083.9 171.1 1083.9 172.6 1083.9 174 1083.9 175.5 1083.9 176.9 1083.9 178.4 1083.9 179.8 1083.9 181.2 1083.9 182.7 1083.9 184.1 1083.9 185.6 1083.9 187 1083.9 188.5 1083.9 189.9 1083.9 191.4 1083.9 192.8 1083.9 194.2 1083.9 195.7 1083.9 197.1 1083.9 198.6 1083.9 200 1083.9 201.5 1083.9 202.9 1083.9 204.4 1083.9 205.8 1083.9 207.3 1083.9 208.7 1083.9 210.1 1083.9 211.6 1083.9 213 1083.9 214.5 1083.9 215.9 1083.9 217.4 1083.9 218.8 1083.8 220.3 1083.8 221.7 1083.8 223.2 1083.8 224.6 1083.8 226 1083.8 227.5 1083.8 228.9 1083.8 230.4 1083.8 231.8 1083.8 233.3 1083.8 234.7 1083.7 236.2 1083.7 237.6 1083.7 239.1 1083.7 240.5 1083.7 241.9 1083.6 243.4 1083.6 244.8 1083.6 246.3 1083.6 247.7 1083.5 249.2 1083.5 250.6 1083.4 252.1 1083.4 253.5 1083.4 255 1083.3 256.4 1083.2 257.8 1083.2 259.3 1083.1 260.7 1083 262.2 1083 263.6 1082.9 265.1 1082.8 266.5 1082.7 268 1082.6 269.4 1082.5 270.8 1082.4 272.3 1082.2 273.7 1082.1 275.2 1081.9 276.6 1081.8 278.1 1081.6 279.5 1081.4 281 1081.2 282.4 1081 283.9 1080.7 285.3 1080.5 286.7 1080.2 288.2 1079.9 289.6 1079.6 291.1 1079.3 292.5 1079 294 1078.6 295.4 1078.2 296.9 1077.8 298.3 1077.3 299.8 1076.8 301.2 1076.3 302.6 1075.8 304.1 1075.2 305.5 1074.6 307 1073.9 308.4 1073.2 309.9 1072.5 311.3 1071.7 312.8 1070.9 314.2 1070.1 315.7 1069.1 317.1 1068.2 318.5 1067.2 320 1066.1 321.4 1065 322.9 1063.8 324.3 1062.5 325.8 1061.2 327.2 1059.8 328.7 1058.4 330.1 1056.9 331.6 1055.3 333 1053.6 334.4 1051.9 335.9 1050.1 337.3 1048.2 338.8 1046.2 340.2 1044.1 341.7 1042 343.1 1039.7 344.6 1037.4 346 1034.9 347.4 1032.4 348.9 1029.8 350.3 1027.1 351.8 1024.2 353.2 1021.3 354.7 1018.3 356.1 1015.1 357.6 1011.9 359 1008.5 360.5 1005 361.9 1001.5 363.3 997.8 364.8 994 366.2 990.1 367.7 986.1 369.1 981.9 370.6 977.7 372 973.4 373.5 968.9 374.9 964.4 376.4 959.7 377.8 954.9 379.2 950.1 380.7 945.1 382.1 940 383.6 934.9 385 929.6 386.5 924.3 387.9 918.9 389.4 913.4 390.8 907.8 392.3 902.2 393.7 896.4 395.1 890.7 396.6 884.8 398 878.9 399.5 873 400.9 867 402.4 861 403.8 855 405.3 848.9 406.7 842.9 408.2 836.8 409.6 830.7 411 824.7 412.5 818.6 413.9 812.6 415.4 806.6 416.8 800.7 418.3 794.7 419.7 788.9 421.2 783.1 422.6 777.4 424 771.8 425.5 766.2 426.9 760.8 428.4 755.5 429.8 750.2 431.3 745.1 432.7 740.2 434.2 735.4 435.6 730.7 437.1 726.1 438.5 721.8 439.9 717.6 441.4 713.6 442.8 709.7 444.3 706.1 445.7 702.6 447.2 699.4 448.6 696.4 450.1 693.5 451.5 690.9 453 688.6 454.4 686.4 455.8 684.5 457.3 682.8 458.7 681.3 460.2 680.1 461.6 679.2 463.1 678.4 464.5 678 466 677.7 467.4 677.7 468.9 678 470.3 678.5 471.7 679.3 473.2 680.3 474.6 681.5 476.1 683 477.5 684.7 479 686.6 480.4 688.8 481.9 691.2 483.3 693.9 484.7 696.7 486.2 699.8 487.6 703 489.1 706.5 490.5 710.2 492 714 493.4 718.1 494.9 722.3 496.3 726.7 497.8 731.2 499.2 735.9 500.6 740.7 502.1 745.7 503.5 750.8 505 756.1 506.4 761.4 507.9 766.9 509.3 772.4 510.8 778.1 512.2 783.8 513.7 789.6 515.1 795.4 516.5 801.3 518 807.3 519.4 813.3 520.9 819.3 522.3 825.4 523.8 831.4 525.2 837.5 526.7 843.6 528.1 849.6 529.6 855.7 531 861.7 532.4 867.7 533.9 873.7 535.3 879.6 536.8 885.5 538.2 891.3 539.7 897.1 541.1 902.8 542.6 908.5 544 914 545.5 919.5 546.9 924.9 548.3 930.2 549.8 935.5 551.2 940.6 552.7 945.7 554.1 950.6 555.6 955.5 557 960.2 558.5 964.9 559.9 969.4 561.3 973.9 562.8 978.2 564.2 982.4 565.7 986.5 567.1 990.5 568.6 994.4 570 998.2 571.5 1001.9 572.9 1005.5 574.4 1008.9 575.8 1012.2 577.2 1015.5 578.7 1018.6 580.1 1021.6 581.6 1024.6 583 1027.4 584.5 1030.1 585.9 1032.7 587.4 1035.2 588.8 1037.7 590.3 1040 591.7 1042.2 593.1 1044.4 594.6 1046.4 596 1048.4 597.5 1050.3 598.9 1052.1 600.4 1053.8 601.8 1055.5 603.3 1057.1 604.7 1058.6 606.2 1060 607.6 1061.4 609 1062.7 610.5 1063.9 611.9 1065.1 613.4 1066.2 614.8 1067.3 616.3 1068.3 617.7 1069.3 619.2 1070.2 620.6 1071 622.1 1071.8 623.5 1072.6 624.9 1073.3 626.4 1074 627.8 1074.7 629.3 1075.3 630.7 1075.8 632.2 1076.4 633.6 1076.9 635.1 1077.4 636.5 1077.8 637.9 1078.2 639.4 1078.6 640.8 1079 642.3 1079.3 643.7 1079.7 645.2 1080 646.6 1080.3 648.1 1080.5 649.5 1080.8 651 1081 652.4 1081.2 653.8 1081.4 655.3 1081.6 656.7 1081.8 658.2 1082 659.6 1082.1 661.1 1082.2 662.5 1082.4 664 1082.5 665.4 1082.6 666.9 1082.7 668.3 1082.8 669.7 1082.9 671.2 1083 672.6 1083.1 674.1 1083.1 675.5 1083.2 677 1083.3 678.4 1083.3 679.9 1083.4 681.3 1083.4 682.8 1083.4 684.2 1083.5 685.6 1083.5 687.1 1083.6 688.5 1083.6 690 1083.6 691.4 1083.6 692.9 1083.7 694.3 1083.7 695.8 1083.7 697.2 1083.7 698.7 1083.7 700.1 1083.8 701.5 1083.8 703 1083.8 704.4 1083.8 705.9 1083.8 707.3 1083.8 708.8 1083.8 710.2 1083.8 711.7 1083.8 713.1 1083.8 714.5 1083.8 716 1083.9 717.4 1083.9 718.9 1083.9 720.3 1083.9 721.8 1083.9 723.2 1083.9 724.7 1083.9" fill="none" stroke="#8000ff" stroke-width="5" stroke-linejoin="round" stroke-linecap="butt" />
<line x1="165.2" y1="690.1" x2="221.4" y2="690.1" stroke="#ff0000" stroke-width="5.3" stroke-linecap="butt"/>
<text x="224.3" y="698.1" font-family="'Liberation Serif', serif" font-size="22.6" font-weight="normal" text-anchor="start" fill="#000" >15.2 kV/cm</text>
<line x1="165.2" y1="718.1" x2="221.4" y2="718.1" stroke="#0000ff" stroke-width="5.3" stroke-linecap="butt"/>
<text x="224.3" y="726.1" font-family="'Liberation Serif', serif" font-size="22.6" font-weight="normal" text-anchor="start" fill="#000" >17.8 kV/cm</text>
<line x1="165.2" y1="746.1" x2="221.4" y2="746.1" stroke="#00ff00" stroke-width="5.3" stroke-linecap="butt"/>
<text x="224.3" y="754.1" font-family="'Liberation Serif', serif" font-size="22.6" font-weight="normal" text-anchor="start" fill="#000" >20.5 kV/cm</text>
<line x1="165.2" y1="774.1" x2="221.4" y2="774.1" stroke="#ff00ff" stroke-width="5.3" stroke-linecap="butt"/>
<text x="224.3" y="782.1" font-family="'Liberation Serif', serif" font-size="22.6" font-weight="normal" text-anchor="start" fill="#000" >23.2 kV/cm</text>
<line x1="165.2" y1="802.1" x2="221.4" y2="802.1" stroke="#808000" stroke-width="5.3" stroke-linecap="butt"/>
<text x="224.3" y="810.1" font-family="'Liberation Serif', serif" font-size="22.6" font-weight="normal" text-anchor="start" fill="#000" >26.6 kV/cm</text>
<line x1="165.2" y1="830.1" x2="221.4" y2="830.1" stroke="#8000ff" stroke-width="5.3" stroke-linecap="butt"/>
<text x="224.3" y="838.1" font-family="'Liberation Serif', serif" font-size="22.6" font-weight="normal" text-anchor="start" fill="#000" >29.7 kV/cm</text>
<text x="434.75" y="1173.2" font-family="'Liberation Serif', serif" font-size="38" font-weight="bold" text-anchor="middle" fill="#000" >Temperature (K)</text>
<text x="98.5" y="878.4" transform="rotate(-90 98.5 878.4)" font-family="'Liberation Serif', serif" font-size="37.2" font-weight="bold" text-anchor="middle">&#916;S (J/kg/K)</text>
<line x1="950.22" y1="1088.7" x2="950.22" y2="1085.2" stroke="#000" stroke-width="3" stroke-linecap="butt"/>
<line x1="1077.66" y1="1088.7" x2="1077.66" y2="1085.2" stroke="#000" stroke-width="3" stroke-linecap="butt"/>
<line x1="1205.1" y1="1088.7" x2="1205.1" y2="1085.2" stroke="#000" stroke-width="3" stroke-linecap="butt"/>
<line x1="1332.54" y1="1088.7" x2="1332.54" y2="1085.2" stroke="#000" stroke-width="3" stroke-linecap="butt"/>
<line x1="1013.94" y1="1088.7" x2="1013.94" y2="1081.7" stroke="#000" stroke-width="3" stroke-linecap="butt"/>
<line x1="1141.38" y1="1088.7" x2="1141.38" y2="1081.7" stroke="#000" stroke-width="3" stroke-linecap="butt"/>
<line x1="1268.82" y1="1088.7" x2="1268.82" y2="1081.7" stroke="#000" stroke-width="3" stroke-linecap="butt"/>
<line x1="1396.26" y1="1088.7" x2="1396.26" y2="1081.7" stroke="#000" stroke-width="3" stroke-linecap="butt"/>
<line x1="888.1" y1="1048.7" x2="891.6" y2="1048.7" stroke="#000" stroke-width="3" stroke-linecap="butt"/>
<line x1="888.1" y1="979.1" x2="891.6" y2="979.1" stroke="#000" stroke-width="3" stroke-linecap="butt"/>
<line x1="888.1" y1="909.5" x2="891.6" y2="909.5" stroke="#000" stroke-width="3" stroke-linecap="butt"/>
<line x1="888.1" y1="839.9" x2="891.6" y2="839.9" stroke="#000" stroke-width="3" stroke-linecap="butt"/>
<line x1="888.1" y1="770.3" x2="891.6" y2="770.3" stroke="#000" stroke-width="3" stroke-linecap="butt"/>
<line x1="888.1" y1="700.7" x2="891.6" y2="700.7" stroke="#000" stroke-width="3" stroke-linecap="butt"/>
<line x1="888.1" y1="1083.5" x2="895.1" y2="1083.5" stroke="#000" stroke-width="3" stroke-linecap="butt"/>
<line x1="888.1" y1="1013.9" x2="895.1" y2="1013.9" stroke="#000" stroke-width="3" stroke-linecap="butt"/>
<line x1="888.1" y1="944.3" x2="895.1" y2="944.3" stroke="#000" stroke-width="3" stroke-linecap="butt"/>
<line x1="888.1" y1="874.7" x2="895.1" y2="874.7" stroke="#000" stroke-width="3" stroke-linecap="butt"/>
<line x1="888.1" y1="805.1" x2="895.1" y2="805.1" stroke="#000" stroke-width="3" stroke-linecap="butt"/>
<line x1="888.1" y1="735.5" x2="895.1" y2="735.5" stroke="#000" stroke-width="3" stroke-linecap="butt"/>
<rect x="886.5" y="666" width="573.5" height="424.3" fill="none" stroke="#000" stroke-width="3.2"/>
<text x="886.5" y="1121.2" font-family="'Liberation Serif', serif" font-size="27.7" font-weight="bold" text-anchor="middle" fill="#000" >297</text>
<text x="1013.94" y="1121.2" font-family="'Liberation Serif', serif" font-size="27.7" font-weight="bold" text-anchor="middle" fill="#000" >299</text>
<text x="1141.38" y="1121.2" font-family="'Liberation Serif', serif" font-size="27.7" font-weight="bold" text-anchor="middle" fill="#000" >301</text>
<text x="1268.82" y="1121.2" font-family="'Liberation Serif', serif" font-size="27.7" font-weight="bold" text-anchor="middle" fill="#000" >303</text>
<text x="1396.26" y="1121.2" font-family="'Liberation Serif', serif" font-size="27.7" font-weight="bold" text-anchor="middle" fill="#000" >305</text>
<text x="876.4" y="1092.64" font-family="'Liberation Serif', serif" font-size="27.7" font-weight="bold" text-anchor="end" fill="#000" >0</text>
<text x="876.4" y="1023.04" font-family="'Liberation Serif', serif" font-size="27.7" font-weight="bold" text-anchor="end" fill="#000" >2</text>
<text x="876.4" y="953.44" font-family="'Liberation Serif', serif" font-size="27.7" font-weight="bold" text-anchor="end" fill="#000" >4</text>
<text x="876.4" y="883.84" font-family="'Liberation Serif', serif" font-size="27.7" font-weight="bold" text-anchor="end" fill="#000" >6</text>
<text x="876.4" y="814.24" font-family="'Liberation Serif', serif" font-size="27.7" font-weight="bold" text-anchor="end" fill="#000" >8</text>
<text x="876.4" y="744.64" font-family="'Liberation Serif', serif" font-size="27.7" font-weight="bold" text-anchor="end" fill="#000" >10</text>
<text x="876.4" y="675.04" font-family="'Liberation Serif', serif" font-size="27.7" font-weight="bold" text-anchor="end" fill="#000" >12</text>
<path d="M886.5 1083.5 887.9 1083.5 889.4 1083.5 890.8 1083.5 892.3 1083.5 893.7 1083.5 895.2 1083.5 896.6 1083.5 898.1 1083.5 899.5 1083.5 901 1083.5 902.4 1083.5 903.8 1083.5 905.3 1083.5 906.7 1083.5 908.2 1083.5 909.6 1083.5 911.1 1083.5 912.5 1083.5 914 1083.5 915.4 1083.5 916.9 1083.5 918.3 1083.5 919.7 1083.5 921.2 1083.5 922.6 1083.5 924.1 1083.5 925.5 1083.5 927 1083.5 928.4 1083.5 929.9 1083.5 931.3 1083.5 932.7 1083.5 934.2 1083.5 935.6 1083.5 937.1 1083.5 938.5 1083.5 940 1083.5 941.4 1083.5 942.9 1083.5 944.3 1083.5 945.8 1083.5 947.2 1083.5 948.6 1083.5 950.1 1083.5 951.5 1083.5 953 1083.5 954.4 1083.5 955.9 1083.5 957.3 1083.5 958.8 1083.5 960.2 1083.5 961.7 1083.5 963.1 1083.5 964.5 1083.5 966 1083.4 967.4 1083.4 968.9 1083.4 970.3 1083.4 971.8 1083.4 973.2 1083.4 974.7 1083.4 976.1 1083.4 977.6 1083.4 979 1083.4 980.4 1083.3 981.9 1083.3 983.3 1083.3 984.8 1083.3 986.2 1083.3 987.7 1083.3 989.1 1083.2 990.6 1083.2 992 1083.2 993.5 1083.1 994.9 1083.1 996.3 1083.1 997.8 1083 999.2 1083 1000.7 1082.9 1002.1 1082.9 1003.6 1082.8 1005 1082.8 1006.5 1082.7 1007.9 1082.6 1009.3 1082.5 1010.8 1082.5 1012.2 1082.4 1013.7 1082.3 1015.1 1082.2 1016.6 1082 1018 1081.9 1019.5 1081.8 1020.9 1081.6 1022.4 1081.5 1023.8 1081.3 1025.2 1081.1 1026.7 1081 1028.1 1080.8 1029.6 1080.5 1031 1080.3 1032.5 1080.1 1033.9 1079.8 1035.4 1079.5 1036.8 1079.2 1038.3 1078.9 1039.7 1078.5 1041.1 1078.2 1042.6 1077.8 1044 1077.4 1045.5 1076.9 1046.9 1076.5 1048.4 1076 1049.8 1075.5 1051.3 1074.9 1052.7 1074.3 1054.2 1073.7 1055.6 1073.1 1057 1072.4 1058.5 1071.6 1059.9 1070.9 1061.4 1070.1 1062.8 1069.2 1064.3 1068.3 1065.7 1067.4 1067.2 1066.4 1068.6 1065.4 1070.1 1064.3 1071.5 1063.2 1072.9 1062 1074.4 1060.8 1075.8 1059.5 1077.3 1058.2 1078.7 1056.8 1080.2 1055.3 1081.6 1053.8 1083.1 1052.2 1084.5 1050.6 1085.9 1048.9 1087.4 1047.1 1088.8 1045.3 1090.3 1043.4 1091.7 1041.4 1093.2 1039.4 1094.6 1037.3 1096.1 1035.1 1097.5 1032.9 1099 1030.6 1100.4 1028.2 1101.8 1025.8 1103.3 1023.3 1104.7 1020.7 1106.2 1018.1 1107.6 1015.4 1109.1 1012.6 1110.5 1009.8 1112 1006.9 1113.4 1004 1114.9 1001 1116.3 997.9 1117.7 994.8 1119.2 991.6 1120.6 988.4 1122.1 985.1 1123.5 981.8 1125 978.5 1126.4 975.1 1127.9 971.6 1129.3 968.2 1130.8 964.7 1132.2 961.2 1133.6 957.6 1135.1 954.1 1136.5 950.5 1138 946.9 1139.4 943.4 1140.9 939.8 1142.3 936.2 1143.8 932.7 1145.2 929.1 1146.7 925.6 1148.1 922.1 1149.5 918.7 1151 915.3 1152.4 911.9 1153.9 908.6 1155.3 905.3 1156.8 902.1 1158.2 898.9 1159.7 895.9 1161.1 892.9 1162.5 889.9 1164 887.1 1165.4 884.3 1166.9 881.7 1168.3 879.2 1169.8 876.7 1171.2 874.4 1172.7 872.2 1174.1 870.1 1175.6 868.1 1177 866.2 1178.4 864.5 1179.9 862.9 1181.3 861.5 1182.8 860.1 1184.2 859 1185.7 857.9 1187.1 857.1 1188.6 856.3 1190 855.7 1191.5 855.3 1192.9 855 1194.3 854.9 1195.8 854.9 1197.2 855.1 1198.7 855.4 1200.1 855.9 1201.6 856.5 1203 857.2 1204.5 858.2 1205.9 859.2 1207.4 860.4 1208.8 861.8 1210.2 863.3 1211.7 864.9 1213.1 866.6 1214.6 868.5 1216 870.5 1217.5 872.6 1218.9 874.9 1220.4 877.2 1221.8 879.7 1223.2 882.3 1224.7 885 1226.1 887.7 1227.6 890.6 1229 893.5 1230.5 896.5 1231.9 899.6 1233.4 902.8 1234.8 906 1236.3 909.3 1237.7 912.6 1239.1 916 1240.6 919.4 1242 922.9 1243.5 926.4 1244.9 929.9 1246.4 933.5 1247.8 937 1249.3 940.6 1250.7 944.2 1252.2 947.7 1253.6 951.3 1255 954.9 1256.5 958.4 1257.9 961.9 1259.4 965.5 1260.8 968.9 1262.3 972.4 1263.7 975.8 1265.2 979.2 1266.6 982.6 1268.1 985.9 1269.5 989.1 1270.9 992.3 1272.4 995.5 1273.8 998.6 1275.3 1001.7 1276.7 1004.6 1278.2 1007.6 1279.6 1010.5 1281.1 1013.3 1282.5 1016 1284 1018.7 1285.4 1021.3 1286.8 1023.9 1288.3 1026.4 1289.7 1028.8 1291.2 1031.1 1292.6 1033.4 1294.1 1035.6 1295.5 1037.8 1297 1039.9 1298.4 1041.9 1299.8 1043.8 1301.3 1045.7 1302.7 1047.5 1304.2 1049.3 1305.6 1051 1307.1 1052.6 1308.5 1054.1 1310 1055.7 1311.4 1057.1 1312.9 1058.5 1314.3 1059.8 1315.7 1061.1 1317.2 1062.3 1318.6 1063.5 1320.1 1064.6 1321.5 1065.6 1323 1066.7 1324.4 1067.6 1325.9 1068.5 1327.3 1069.4 1328.8 1070.3 1330.2 1071.1 1331.6 1071.8 1333.1 1072.5 1334.5 1073.2 1336 1073.8 1337.4 1074.5 1338.9 1075 1340.3 1075.6 1341.8 1076.1 1343.2 1076.6 1344.7 1077 1346.1 1077.5 1347.5 1077.9 1349 1078.3 1350.4 1078.6 1351.9 1079 1353.3 1079.3 1354.8 1079.6 1356.2 1079.9 1357.7 1080.1 1359.1 1080.4 1360.6 1080.6 1362 1080.8 1363.4 1081 1364.9 1081.2 1366.3 1081.4 1367.8 1081.5 1369.2 1081.7 1370.7 1081.8 1372.1 1081.9 1373.6 1082.1 1375 1082.2 1376.4 1082.3 1377.9 1082.4 1379.3 1082.5 1380.8 1082.6 1382.2 1082.6 1383.7 1082.7 1385.1 1082.8 1386.6 1082.8 1388 1082.9 1389.5 1082.9 1390.9 1083 1392.3 1083 1393.8 1083.1 1395.2 1083.1 1396.7 1083.1 1398.1 1083.2 1399.6 1083.2 1401 1083.2 1402.5 1083.3 1403.9 1083.3 1405.4 1083.3 1406.8 1083.3 1408.2 1083.3 1409.7 1083.4 1411.1 1083.4 1412.6 1083.4 1414 1083.4 1415.5 1083.4 1416.9 1083.4 1418.4 1083.4 1419.8 1083.4 1421.3 1083.4 1422.7 1083.4 1424.1 1083.4 1425.6 1083.5 1427 1083.5 1428.5 1083.5 1429.9 1083.5 1431.4 1083.5 1432.8 1083.5 1434.3 1083.5 1435.7 1083.5 1437.2 1083.5 1438.6 1083.5 1440 1083.5 1441.5 1083.5 1442.9 1083.5 1444.4 1083.5 1445.8 1083.5 1447.3 1083.5 1448.7 1083.5 1450.2 1083.5 1451.6 1083.5 1453 1083.5 1454.5 1083.5 1455.9 1083.5 1457.4 1083.5 1458.8 1083.5 1460.3 1083.5 1461.7 1083.5 1463.2 1083.5" fill="none" stroke="#ff0000" stroke-width="5" stroke-linejoin="round" stroke-linecap="butt" />
<path d="M886.5 1083.5 887.9 1083.5 889.4 1083.5 890.8 1083.5 892.3 1083.5 893.7 1083.5 895.2 1083.5 896.6 1083.5 898.1 1083.5 899.5 1083.5 901 1083.5 902.4 1083.5 903.8 1083.5 905.3 1083.5 906.7 1083.5 908.2 1083.5 909.6 1083.5 911.1 1083.5 912.5 1083.5 914 1083.5 915.4 1083.5 916.9 1083.5 918.3 1083.5 919.7 1083.5 921.2 1083.5 922.6 1083.5 924.1 1083.5 925.5 1083.5 927 1083.5 928.4 1083.5 929.9 1083.5 931.3 1083.5 932.7 1083.5 934.2 1083.5 935.6 1083.5 937.1 1083.5 938.5 1083.5 940 1083.5 941.4 1083.5 942.9 1083.5 944.3 1083.5 945.8 1083.5 947.2 1083.5 948.6 1083.5 950.1 1083.5 951.5 1083.5 953 1083.5 954.4 1083.5 955.9 1083.5 957.3 1083.5 958.8 1083.5 960.2 1083.5 961.7 1083.5 963.1 1083.5 964.5 1083.5 966 1083.5 967.4 1083.4 968.9 1083.4 970.3 1083.4 971.8 1083.4 973.2 1083.4 974.7 1083.4 976.1 1083.4 977.6 1083.4 979 1083.4 980.4 1083.4 981.9 1083.3 983.3 1083.3 984.8 1083.3 986.2 1083.3 987.7 1083.3 989.1 1083.3 990.6 1083.2 992 1083.2 993.5 1083.2 994.9 1083.1 996.3 1083.1 997.8 1083.1 999.2 1083 1000.7 1083 1002.1 1082.9 1003.6 1082.9 1005 1082.8 1006.5 1082.8 1007.9 1082.7 1009.3 1082.6 1010.8 1082.5 1012.2 1082.5 1013.7 1082.4 1015.1 1082.3 1016.6 1082.2 1018 1082 1019.5 1081.9 1020.9 1081.8 1022.4 1081.6 1023.8 1081.5 1025.2 1081.3 1026.7 1081.1 1028.1 1080.9 1029.6 1080.7 1031 1080.5 1032.5 1080.3 1033.9 1080 1035.4 1079.7 1036.8 1079.4 1038.3 1079.1 1039.7 1078.8 1041.1 1078.4 1042.6 1078.1 1044 1077.7 1045.5 1077.2 1046.9 1076.8 1048.4 1076.3 1049.8 1075.8 1051.3 1075.2 1052.7 1074.7 1054.2 1074.1 1055.6 1073.4 1057 1072.7 1058.5 1072 1059.9 1071.3 1061.4 1070.5 1062.8 1069.6 1064.3 1068.8 1065.7 1067.8 1067.2 1066.8 1068.6 1065.8 1070.1 1064.7 1071.5 1063.6 1072.9 1062.4 1074.4 1061.2 1075.8 1059.9 1077.3 1058.5 1078.7 1057.1 1080.2 1055.6 1081.6 1054.1 1083.1 1052.5 1084.5 1050.8 1085.9 1049.1 1087.4 1047.3 1088.8 1045.4 1090.3 1043.4 1091.7 1041.4 1093.2 1039.3 1094.6 1037.1 1096.1 1034.9 1097.5 1032.6 1099 1030.2 1100.4 1027.7 1101.8 1025.2 1103.3 1022.6 1104.7 1019.9 1106.2 1017.1 1107.6 1014.3 1109.1 1011.3 1110.5 1008.4 1112 1005.3 1113.4 1002.2 1114.9 999 1116.3 995.7 1117.7 992.4 1119.2 989 1120.6 985.5 1122.1 982 1123.5 978.4 1125 974.8 1126.4 971.1 1127.9 967.4 1129.3 963.6 1130.8 959.8 1132.2 956 1133.6 952.1 1135.1 948.2 1136.5 944.2 1138 940.3 1139.4 936.3 1140.9 932.4 1142.3 928.4 1143.8 924.4 1145.2 920.4 1146.7 916.5 1148.1 912.5 1149.5 908.6 1151 904.7 1152.4 900.9 1153.9 897.1 1155.3 893.3 1156.8 889.6 1158.2 886 1159.7 882.4 1161.1 878.8 1162.5 875.4 1164 872.1 1165.4 868.8 1166.9 865.6 1168.3 862.5 1169.8 859.6 1171.2 856.7 1172.7 854 1174.1 851.3 1175.6 848.8 1177 846.5 1178.4 844.3 1179.9 842.2 1181.3 840.2 1182.8 838.4 1184.2 836.8 1185.7 835.3 1187.1 833.9 1188.6 832.8 1190 831.7 1191.5 830.9 1192.9 830.2 1194.3 829.7 1195.8 829.3 1197.2 829.1 1198.7 829.1 1200.1 829.3 1201.6 829.6 1203 830.1 1204.5 830.7 1205.9 831.6 1207.4 832.6 1208.8 833.7 1210.2 835 1211.7 836.5 1213.1 838.1 1214.6 839.9 1216 841.8 1217.5 843.9 1218.9 846.1 1220.4 848.4 1221.8 850.9 1223.2 853.5 1224.7 856.2 1226.1 859 1227.6 862 1229 865 1230.5 868.2 1231.9 871.4 1233.4 874.8 1234.8 878.2 1236.3 881.7 1237.7 885.3 1239.1 888.9 1240.6 892.6 1242 896.4 1243.5 900.2 1244.9 904 1246.4 907.9 1247.8 911.8 1249.3 915.8 1250.7 919.7 1252.2 923.7 1253.6 927.7 1255 931.6 1256.5 935.6 1257.9 939.6 1259.4 943.5 1260.8 947.5 1262.3 951.4 1263.7 955.3 1265.2 959.1 1266.6 962.9 1268.1 966.7 1269.5 970.4 1270.9 974.1 1272.4 977.8 1273.8 981.3 1275.3 984.9 1276.7 988.3 1278.2 991.7 1279.6 995.1 1281.1 998.4 1282.5 1001.6 1284 1004.7 1285.4 1007.8 1286.8 1010.8 1288.3 1013.7 1289.7 1016.6 1291.2 1019.4 1292.6 1022.1 1294.1 1024.7 1295.5 1027.3 1297 1029.7 1298.4 1032.1 1299.8 1034.5 1301.3 1036.7 1302.7 1038.9 1304.2 1041 1305.6 1043.1 1307.1 1045 1308.5 1046.9 1310 1048.7 1311.4 1050.5 1312.9 1052.2 1314.3 1053.8 1315.7 1055.4 1317.2 1056.8 1318.6 1058.3 1320.1 1059.6 1321.5 1060.9 1323 1062.2 1324.4 1063.4 1325.9 1064.5 1327.3 1065.6 1328.8 1066.7 1330.2 1067.6 1331.6 1068.6 1333.1 1069.5 1334.5 1070.3 1336 1071.1 1337.4 1071.9 1338.9 1072.6 1340.3 1073.3 1341.8 1074 1343.2 1074.6 1344.7 1075.1 1346.1 1075.7 1347.5 1076.2 1349 1076.7 1350.4 1077.2 1351.9 1077.6 1353.3 1078 1354.8 1078.4 1356.2 1078.7 1357.7 1079.1 1359.1 1079.4 1360.6 1079.7 1362 1080 1363.4 1080.2 1364.9 1080.5 1366.3 1080.7 1367.8 1080.9 1369.2 1081.1 1370.7 1081.3 1372.1 1081.4 1373.6 1081.6 1375 1081.7 1376.4 1081.9 1377.9 1082 1379.3 1082.1 1380.8 1082.2 1382.2 1082.3 1383.7 1082.4 1385.1 1082.5 1386.6 1082.6 1388 1082.7 1389.5 1082.7 1390.9 1082.8 1392.3 1082.9 1393.8 1082.9 1395.2 1083 1396.7 1083 1398.1 1083.1 1399.6 1083.1 1401 1083.1 1402.5 1083.2 1403.9 1083.2 1405.4 1083.2 1406.8 1083.3 1408.2 1083.3 1409.7 1083.3 1411.1 1083.3 1412.6 1083.3 1414 1083.3 1415.5 1083.4 1416.9 1083.4 1418.4 1083.4 1419.8 1083.4 1421.3 1083.4 1422.7 1083.4 1424.1 1083.4 1425.6 1083.4 1427 1083.4 1428.5 1083.4 1429.9 1083.5 1431.4 1083.5 1432.8 1083.5 1434.3 1083.5 1435.7 1083.5 1437.2 1083.5 1438.6 1083.5 1440 1083.5 1441.5 1083.5 1442.9 1083.5 1444.4 1083.5 1445.8 1083.5 1447.3 1083.5 1448.7 1083.5 1450.2 1083.5 1451.6 1083.5 1453 1083.5 1454.5 1083.5 1455.9 1083.5 1457.4 1083.5 1458.8 1083.5 1460.3 1083.5 1461.7 1083.5 1463.2 1083.5" fill="none" stroke="#0000ff" stroke-width="5" stroke-linejoin="round" stroke-linecap="butt" />
<path d="M886.5 1083.5 887.9 1083.5 889.4 1083.5 890.8 1083.5 892.3 1083.5 893.7 1083.5 895.2 1083.5 896.6 1083.5 898.1 1083.5 899.5 1083.5 901 1083.5 902.4 1083.5 903.8 1083.5 905.3 1083.5 906.7 1083.5 908.2 1083.5 909.6 1083.5 911.1 1083.5 912.5 1083.5 914 1083.5 915.4 1083.5 916.9 1083.5 918.3 1083.5 919.7 1083.5 921.2 1083.5 922.6 1083.5 924.1 1083.5 925.5 1083.5 927 1083.5 928.4 1083.5 929.9 1083.5 931.3 1083.5 932.7 1083.5 934.2 1083.5 935.6 1083.5 937.1 1083.5 938.5 1083.5 940 1083.5 941.4 1083.5 942.9 1083.5 944.3 1083.5 945.8 1083.5 947.2 1083.5 948.6 1083.5 950.1 1083.5 951.5 1083.5 953 1083.5 954.4 1083.5 955.9 1083.5 957.3 1083.5 958.8 1083.5 960.2 1083.5 961.7 1083.5 963.1 1083.5 964.5 1083.5 966 1083.5 967.4 1083.5 968.9 1083.4 970.3 1083.4 971.8 1083.4 973.2 1083.4 974.7 1083.4 976.1 1083.4 977.6 1083.4 979 1083.4 980.4 1083.4 981.9 1083.4 983.3 1083.3 984.8 1083.3 986.2 1083.3 987.7 1083.3 989.1 1083.3 990.6 1083.3 992 1083.2 993.5 1083.2 994.9 1083.2 996.3 1083.1 997.8 1083.1 999.2 1083.1 1000.7 1083 1002.1 1083 1003.6 1082.9 1005 1082.9 1006.5 1082.8 1007.9 1082.7 1009.3 1082.7 1010.8 1082.6 1012.2 1082.5 1013.7 1082.4 1015.1 1082.3 1016.6 1082.2 1018 1082.1 1019.5 1082 1020.9 1081.9 1022.4 1081.7 1023.8 1081.6 1025.2 1081.4 1026.7 1081.2 1028.1 1081 1029.6 1080.8 1031 1080.6 1032.5 1080.4 1033.9 1080.1 1035.4 1079.8 1036.8 1079.6 1038.3 1079.3 1039.7 1078.9 1041.1 1078.6 1042.6 1078.2 1044 1077.8 1045.5 1077.4 1046.9 1076.9 1048.4 1076.4 1049.8 1075.9 1051.3 1075.4 1052.7 1074.8 1054.2 1074.2 1055.6 1073.5 1057 1072.9 1058.5 1072.1 1059.9 1071.4 1061.4 1070.6 1062.8 1069.7 1064.3 1068.8 1065.7 1067.8 1067.2 1066.8 1068.6 1065.8 1070.1 1064.7 1071.5 1063.5 1072.9 1062.3 1074.4 1061 1075.8 1059.7 1077.3 1058.3 1078.7 1056.8 1080.2 1055.3 1081.6 1053.7 1083.1 1052 1084.5 1050.2 1085.9 1048.4 1087.4 1046.5 1088.8 1044.5 1090.3 1042.5 1091.7 1040.3 1093.2 1038.1 1094.6 1035.8 1096.1 1033.5 1097.5 1031 1099 1028.5 1100.4 1025.8 1101.8 1023.1 1103.3 1020.3 1104.7 1017.4 1106.2 1014.4 1107.6 1011.4 1109.1 1008.2 1110.5 1005 1112 1001.7 1113.4 998.3 1114.9 994.8 1116.3 991.2 1117.7 987.6 1119.2 983.9 1120.6 980.1 1122.1 976.2 1123.5 972.3 1125 968.2 1126.4 964.2 1127.9 960 1129.3 955.8 1130.8 951.6 1132.2 947.3 1133.6 942.9 1135.1 938.5 1136.5 934.1 1138 929.7 1139.4 925.2 1140.9 920.7 1142.3 916.1 1143.8 911.6 1145.2 907 1146.7 902.5 1148.1 898 1149.5 893.4 1151 888.9 1152.4 884.4 1153.9 880 1155.3 875.6 1156.8 871.2 1158.2 866.9 1159.7 862.6 1161.1 858.4 1162.5 854.3 1164 850.3 1165.4 846.3 1166.9 842.5 1168.3 838.7 1169.8 835 1171.2 831.5 1172.7 828.1 1174.1 824.8 1175.6 821.6 1177 818.6 1178.4 815.7 1179.9 813 1181.3 810.4 1182.8 808 1184.2 805.7 1185.7 803.6 1187.1 801.7 1188.6 800 1190 798.4 1191.5 797 1192.9 795.8 1194.3 794.8 1195.8 794 1197.2 793.3 1198.7 792.9 1200.1 792.6 1201.6 792.6 1203 792.7 1204.5 793 1205.9 793.6 1207.4 794.3 1208.8 795.2 1210.2 796.3 1211.7 797.5 1213.1 799 1214.6 800.6 1216 802.5 1217.5 804.5 1218.9 806.6 1220.4 808.9 1221.8 811.4 1223.2 814.1 1224.7 816.9 1226.1 819.8 1227.6 822.9 1229 826.1 1230.5 829.5 1231.9 832.9 1233.4 836.5 1234.8 840.2 1236.3 844 1237.7 847.9 1239.1 851.9 1240.6 856 1242 860.1 1243.5 864.3 1244.9 868.6 1246.4 873 1247.8 877.4 1249.3 881.8 1250.7 886.2 1252.2 890.7 1253.6 895.3 1255 899.8 1256.5 904.3 1257.9 908.9 1259.4 913.4 1260.8 918 1262.3 922.5 1263.7 927 1265.2 931.5 1266.6 935.9 1268.1 940.3 1269.5 944.7 1270.9 949 1272.4 953.3 1273.8 957.5 1275.3 961.7 1276.7 965.8 1278.2 969.9 1279.6 973.9 1281.1 977.8 1282.5 981.6 1284 985.4 1285.4 989.1 1286.8 992.7 1288.3 996.2 1289.7 999.7 1291.2 1003 1292.6 1006.3 1294.1 1009.5 1295.5 1012.6 1297 1015.7 1298.4 1018.6 1299.8 1021.5 1301.3 1024.2 1302.7 1026.9 1304.2 1029.5 1305.6 1032 1307.1 1034.4 1308.5 1036.8 1310 1039 1311.4 1041.2 1312.9 1043.3 1314.3 1045.3 1315.7 1047.3 1317.2 1049.2 1318.6 1051 1320.1 1052.7 1321.5 1054.3 1323 1055.9 1324.4 1057.4 1325.9 1058.9 1327.3 1060.2 1328.8 1061.5 1330.2 1062.8 1331.6 1064 1333.1 1065.1 1334.5 1066.2 1336 1067.3 1337.4 1068.2 1338.9 1069.2 1340.3 1070.1 1341.8 1070.9 1343.2 1071.7 1344.7 1072.4 1346.1 1073.1 1347.5 1073.8 1349 1074.4 1350.4 1075 1351.9 1075.6 1353.3 1076.1 1354.8 1076.6 1356.2 1077.1 1357.7 1077.5 1359.1 1078 1360.6 1078.4 1362 1078.7 1363.4 1079.1 1364.9 1079.4 1366.3 1079.7 1367.8 1080 1369.2 1080.2 1370.7 1080.5 1372.1 1080.7 1373.6 1080.9 1375 1081.1 1376.4 1081.3 1377.9 1081.5 1379.3 1081.6 1380.8 1081.8 1382.2 1081.9 1383.7 1082 1385.1 1082.2 1386.6 1082.3 1388 1082.4 1389.5 1082.5 1390.9 1082.5 1392.3 1082.6 1393.8 1082.7 1395.2 1082.8 1396.7 1082.8 1398.1 1082.9 1399.6 1082.9 1401 1083 1402.5 1083 1403.9 1083.1 1405.4 1083.1 1406.8 1083.1 1408.2 1083.2 1409.7 1083.2 1411.1 1083.2 1412.6 1083.3 1414 1083.3 1415.5 1083.3 1416.9 1083.3 1418.4 1083.3 1419.8 1083.4 1421.3 1083.4 1422.7 1083.4 1424.1 1083.4 1425.6 1083.4 1427 1083.4 1428.5 1083.4 1429.9 1083.4 1431.4 1083.4 1432.8 1083.4 1434.3 1083.4 1435.7 1083.5 1437.2 1083.5 1438.6 1083.5 1440 1083.5 1441.5 1083.5 1442.9 1083.5 1444.4 1083.5 1445.8 1083.5 1447.3 1083.5 1448.7 1083.5 1450.2 1083.5 1451.6 1083.5 1453 1083.5 1454.5 1083.5 1455.9 1083.5 1457.4 1083.5 1458.8 1083.5 1460.3 1083.5 1461.7 1083.5 1463.2 1083.5" fill="none" stroke="#00ff00" stroke-width="5" stroke-linejoin="round" stroke-linecap="butt" />
<path d="M886.5 1083.5 887.9 1083.5 889.4 1083.5 890.8 1083.5 892.3 1083.5 893.7 1083.5 895.2 1083.5 896.6 1083.5 898.1 1083.5 899.5 1083.5 901 1083.5 902.4 1083.5 903.8 1083.5 905.3 1083.5 906.7 1083.5 908.2 1083.5 909.6 1083.5 911.1 1083.5 912.5 1083.5 914 1083.5 915.4 1083.5 916.9 1083.5 918.3 1083.5 919.7 1083.5 921.2 1083.5 922.6 1083.5 924.1 1083.5 925.5 1083.5 927 1083.5 928.4 1083.5 929.9 1083.5 931.3 1083.5 932.7 1083.5 934.2 1083.5 935.6 1083.5 937.1 1083.5 938.5 1083.5 940 1083.5 941.4 1083.5 942.9 1083.5 944.3 1083.5 945.8 1083.5 947.2 1083.5 948.6 1083.5 950.1 1083.5 951.5 1083.5 953 1083.5 954.4 1083.5 955.9 1083.5 957.3 1083.5 958.8 1083.5 960.2 1083.5 961.7 1083.5 963.1 1083.5 964.5 1083.5 966 1083.5 967.4 1083.5 968.9 1083.5 970.3 1083.5 971.8 1083.5 973.2 1083.5 974.7 1083.5 976.1 1083.5 977.6 1083.4 979 1083.4 980.4 1083.4 981.9 1083.4 983.3 1083.4 984.8 1083.4 986.2 1083.4 987.7 1083.4 989.1 1083.4 990.6 1083.4 992 1083.3 993.5 1083.3 994.9 1083.3 996.3 1083.3 997.8 1083.3 999.2 1083.2 1000.7 1083.2 1002.1 1083.2 1003.6 1083.2 1005 1083.1 1006.5 1083.1 1007.9 1083 1009.3 1083 1010.8 1082.9 1012.2 1082.9 1013.7 1082.8 1015.1 1082.7 1016.6 1082.7 1018 1082.6 1019.5 1082.5 1020.9 1082.4 1022.4 1082.3 1023.8 1082.2 1025.2 1082.1 1026.7 1081.9 1028.1 1081.8 1029.6 1081.7 1031 1081.5 1032.5 1081.3 1033.9 1081.1 1035.4 1080.9 1036.8 1080.7 1038.3 1080.4 1039.7 1080.2 1041.1 1079.9 1042.6 1079.6 1044 1079.3 1045.5 1078.9 1046.9 1078.6 1048.4 1078.2 1049.8 1077.8 1051.3 1077.3 1052.7 1076.8 1054.2 1076.3 1055.6 1075.8 1057 1075.2 1058.5 1074.5 1059.9 1073.9 1061.4 1073.2 1062.8 1072.4 1064.3 1071.6 1065.7 1070.8 1067.2 1069.9 1068.6 1068.9 1070.1 1067.9 1071.5 1066.9 1072.9 1065.7 1074.4 1064.6 1075.8 1063.3 1077.3 1062 1078.7 1060.6 1080.2 1059.2 1081.6 1057.6 1083.1 1056 1084.5 1054.4 1085.9 1052.6 1087.4 1050.8 1088.8 1048.8 1090.3 1046.8 1091.7 1044.7 1093.2 1042.5 1094.6 1040.2 1096.1 1037.8 1097.5 1035.3 1099 1032.7 1100.4 1030 1101.8 1027.2 1103.3 1024.3 1104.7 1021.3 1106.2 1018.2 1107.6 1015 1109.1 1011.7 1110.5 1008.3 1112 1004.7 1113.4 1001.1 1114.9 997.3 1116.3 993.5 1117.7 989.5 1119.2 985.5 1120.6 981.3 1122.1 977 1123.5 972.6 1125 968.2 1126.4 963.6 1127.9 958.9 1129.3 954.2 1130.8 949.4 1132.2 944.5 1133.6 939.5 1135.1 934.4 1136.5 929.3 1138 924.1 1139.4 918.8 1140.9 913.5 1142.3 908.2 1143.8 902.8 1145.2 897.4 1146.7 891.9 1148.1 886.5 1149.5 881 1151 875.5 1152.4 870.1 1153.9 864.6 1155.3 859.1 1156.8 853.7 1158.2 848.3 1159.7 843 1161.1 837.7 1162.5 832.5 1164 827.4 1165.4 822.3 1166.9 817.3 1168.3 812.5 1169.8 807.7 1171.2 803 1172.7 798.5 1174.1 794.1 1175.6 789.8 1177 785.7 1178.4 781.8 1179.9 778 1181.3 774.4 1182.8 771 1184.2 767.7 1185.7 764.7 1187.1 761.8 1188.6 759.2 1190 756.7 1191.5 754.5 1192.9 752.5 1194.3 750.8 1195.8 749.2 1197.2 747.9 1198.7 746.8 1200.1 746 1201.6 745.4 1203 745 1204.5 744.9 1205.9 745 1207.4 745.4 1208.8 746 1210.2 746.8 1211.7 747.9 1213.1 749.2 1214.6 750.8 1216 752.5 1217.5 754.5 1218.9 756.7 1220.4 759.2 1221.8 761.8 1223.2 764.7 1224.7 767.7 1226.1 771 1227.6 774.4 1229 778 1230.5 781.8 1231.9 785.7 1233.4 789.8 1234.8 794.1 1236.3 798.5 1237.7 803 1239.1 807.7 1240.6 812.4 1242 817.3 1243.5 822.3 1244.9 827.4 1246.4 832.5 1247.8 837.7 1249.3 843 1250.7 848.3 1252.2 853.7 1253.6 859.1 1255 864.6 1256.5 870 1257.9 875.5 1259.4 881 1260.8 886.5 1262.3 891.9 1263.7 897.4 1265.2 902.8 1266.6 908.2 1268.1 913.5 1269.5 918.8 1270.9 924.1 1272.4 929.3 1273.8 934.4 1275.3 939.5 1276.7 944.5 1278.2 949.4 1279.6 954.2 1281.1 958.9 1282.5 963.6 1284 968.2 1285.4 972.6 1286.8 977 1288.3 981.3 1289.7 985.4 1291.2 989.5 1292.6 993.5 1294.1 997.3 1295.5 1001.1 1297 1004.7 1298.4 1008.3 1299.8 1011.7 1301.3 1015 1302.7 1018.2 1304.2 1021.3 1305.6 1024.3 1307.1 1027.2 1308.5 1030 1310 1032.7 1311.4 1035.3 1312.9 1037.8 1314.3 1040.2 1315.7 1042.5 1317.2 1044.7 1318.6 1046.8 1320.1 1048.8 1321.5 1050.7 1323 1052.6 1324.4 1054.4 1325.9 1056 1327.3 1057.6 1328.8 1059.2 1330.2 1060.6 1331.6 1062 1333.1 1063.3 1334.5 1064.6 1336 1065.7 1337.4 1066.9 1338.9 1067.9 1340.3 1068.9 1341.8 1069.9 1343.2 1070.8 1344.7 1071.6 1346.1 1072.4 1347.5 1073.2 1349 1073.9 1350.4 1074.5 1351.9 1075.2 1353.3 1075.7 1354.8 1076.3 1356.2 1076.8 1357.7 1077.3 1359.1 1077.8 1360.6 1078.2 1362 1078.6 1363.4 1078.9 1364.9 1079.3 1366.3 1079.6 1367.8 1079.9 1369.2 1080.2 1370.7 1080.4 1372.1 1080.7 1373.6 1080.9 1375 1081.1 1376.4 1081.3 1377.9 1081.5 1379.3 1081.7 1380.8 1081.8 1382.2 1081.9 1383.7 1082.1 1385.1 1082.2 1386.6 1082.3 1388 1082.4 1389.5 1082.5 1390.9 1082.6 1392.3 1082.7 1393.8 1082.7 1395.2 1082.8 1396.7 1082.9 1398.1 1082.9 1399.6 1083 1401 1083 1402.5 1083.1 1403.9 1083.1 1405.4 1083.2 1406.8 1083.2 1408.2 1083.2 1409.7 1083.2 1411.1 1083.3 1412.6 1083.3 1414 1083.3 1415.5 1083.3 1416.9 1083.3 1418.4 1083.4 1419.8 1083.4 1421.3 1083.4 1422.7 1083.4 1424.1 1083.4 1425.6 1083.4 1427 1083.4 1428.5 1083.4 1429.9 1083.4 1431.4 1083.4 1432.8 1083.5 1434.3 1083.5 1435.7 1083.5 1437.2 1083.5 1438.6 1083.5 1440 1083.5 1441.5 1083.5 1442.9 1083.5 1444.4 1083.5 1445.8 1083.5 1447.3 1083.5 1448.7 1083.5 1450.2 1083.5 1451.6 1083.5 1453 1083.5 1454.5 1083.5 1455.9 1083.5 1457.4 1083.5 1458.8 1083.5 1460.3 1083.5 1461.7 1083.5 1463.2 1083.5" fill="none" stroke="#ff00ff" stroke-width="5" stroke-linejoin="round" stroke-linecap="butt" />
<path d="M886.5 1083.5 887.9 1083.5 889.4 1083.5 890.8 1083.5 892.3 1083.5 893.7 1083.5 895.2 1083.5 896.6 1083.5 898.1 1083.5 899.5 1083.5 901 1083.5 902.4 1083.5 903.8 1083.5 905.3 1083.5 906.7 1083.5 908.2 1083.5 909.6 1083.5 911.1 1083.5 912.5 1083.5 914 1083.5 915.4 1083.5 916.9 1083.5 918.3 1083.5 919.7 1083.5 921.2 1083.5 922.6 1083.5 924.1 1083.5 925.5 1083.5 927 1083.5 928.4 1083.5 929.9 1083.5 931.3 1083.5 932.7 1083.5 934.2 1083.5 935.6 1083.5 937.1 1083.5 938.5 1083.5 940 1083.5 941.4 1083.5 942.9 1083.5 944.3 1083.5 945.8 1083.5 947.2 1083.5 948.6 1083.5 950.1 1083.5 951.5 1083.5 953 1083.5 954.4 1083.5 955.9 1083.5 957.3 1083.5 958.8 1083.5 960.2 1083.5 961.7 1083.5 963.1 1083.5 964.5 1083.4 966 1083.4 967.4 1083.4 968.9 1083.4 970.3 1083.4 971.8 1083.4 973.2 1083.4 974.7 1083.4 976.1 1083.4 977.6 1083.4 979 1083.4 980.4 1083.3 981.9 1083.3 983.3 1083.3 984.8 1083.3 986.2 1083.3 987.7 1083.2 989.1 1083.2 990.6 1083.2 992 1083.2 993.5 1083.1 994.9 1083.1 996.3 1083 997.8 1083 999.2 1083 1000.7 1082.9 1002.1 1082.8 1003.6 1082.8 1005 1082.7 1006.5 1082.6 1007.9 1082.6 1009.3 1082.5 1010.8 1082.4 1012.2 1082.3 1013.7 1082.2 1015.1 1082.1 1016.6 1081.9 1018 1081.8 1019.5 1081.7 1020.9 1081.5 1022.4 1081.3 1023.8 1081.2 1025.2 1081 1026.7 1080.8 1028.1 1080.5 1029.6 1080.3 1031 1080 1032.5 1079.8 1033.9 1079.5 1035.4 1079.2 1036.8 1078.8 1038.3 1078.5 1039.7 1078.1 1041.1 1077.7 1042.6 1077.2 1044 1076.8 1045.5 1076.3 1046.9 1075.8 1048.4 1075.2 1049.8 1074.6 1051.3 1074 1052.7 1073.3 1054.2 1072.6 1055.6 1071.9 1057 1071.1 1058.5 1070.2 1059.9 1069.3 1061.4 1068.4 1062.8 1067.4 1064.3 1066.4 1065.7 1065.3 1067.2 1064.2 1068.6 1063 1070.1 1061.7 1071.5 1060.3 1072.9 1059 1074.4 1057.5 1075.8 1055.9 1077.3 1054.3 1078.7 1052.7 1080.2 1050.9 1081.6 1049.1 1083.1 1047.1 1084.5 1045.1 1085.9 1043 1087.4 1040.9 1088.8 1038.6 1090.3 1036.3 1091.7 1033.8 1093.2 1031.3 1094.6 1028.6 1096.1 1025.9 1097.5 1023.1 1099 1020.2 1100.4 1017.2 1101.8 1014 1103.3 1010.8 1104.7 1007.5 1106.2 1004.1 1107.6 1000.5 1109.1 996.9 1110.5 993.2 1112 989.4 1113.4 985.4 1114.9 981.4 1116.3 977.3 1117.7 973 1119.2 968.7 1120.6 964.3 1122.1 959.8 1123.5 955.2 1125 950.5 1126.4 945.8 1127.9 940.9 1129.3 936 1130.8 931 1132.2 926 1133.6 920.9 1135.1 915.7 1136.5 910.4 1138 905.2 1139.4 899.8 1140.9 894.4 1142.3 889 1143.8 883.6 1145.2 878.2 1146.7 872.7 1148.1 867.2 1149.5 861.7 1151 856.3 1152.4 850.8 1153.9 845.4 1155.3 839.9 1156.8 834.6 1158.2 829.2 1159.7 824 1161.1 818.7 1162.5 813.6 1164 808.5 1165.4 803.5 1166.9 798.6 1168.3 793.8 1169.8 789 1171.2 784.4 1172.7 780 1174.1 775.6 1175.6 771.4 1177 767.3 1178.4 763.4 1179.9 759.7 1181.3 756.1 1182.8 752.7 1184.2 749.4 1185.7 746.3 1187.1 743.5 1188.6 740.8 1190 738.3 1191.5 736 1192.9 733.9 1194.3 732.1 1195.8 730.4 1197.2 729 1198.7 727.8 1200.1 726.8 1201.6 726 1203 725.5 1204.5 725.1 1205.9 725.1 1207.4 725.2 1208.8 725.6 1210.2 726.2 1211.7 727 1213.1 728 1214.6 729.3 1216 730.8 1217.5 732.5 1218.9 734.4 1220.4 736.5 1221.8 738.9 1223.2 741.4 1224.7 744.1 1226.1 747 1227.6 750.2 1229 753.4 1230.5 756.9 1231.9 760.5 1233.4 764.3 1234.8 768.3 1236.3 772.4 1237.7 776.6 1239.1 781 1240.6 785.5 1242 790.1 1243.5 794.9 1244.9 799.7 1246.4 804.6 1247.8 809.7 1249.3 814.8 1250.7 819.9 1252.2 825.2 1253.6 830.5 1255 835.8 1256.5 841.2 1257.9 846.6 1259.4 852.1 1260.8 857.5 1262.3 863 1263.7 868.5 1265.2 874 1266.6 879.4 1268.1 884.9 1269.5 890.3 1270.9 895.7 1272.4 901.1 1273.8 906.4 1275.3 911.7 1276.7 916.9 1278.2 922.1 1279.6 927.2 1281.1 932.2 1282.5 937.2 1284 942.1 1285.4 946.9 1286.8 951.6 1288.3 956.3 1289.7 960.9 1291.2 965.4 1292.6 969.7 1294.1 974 1295.5 978.2 1297 982.3 1298.4 986.4 1299.8 990.3 1301.3 994.1 1302.7 997.8 1304.2 1001.4 1305.6 1004.9 1307.1 1008.3 1308.5 1011.6 1310 1014.8 1311.4 1017.9 1312.9 1020.9 1314.3 1023.8 1315.7 1026.6 1317.2 1029.3 1318.6 1031.9 1320.1 1034.4 1321.5 1036.8 1323 1039.1 1324.4 1041.4 1325.9 1043.5 1327.3 1045.6 1328.8 1047.6 1330.2 1049.5 1331.6 1051.3 1333.1 1053.1 1334.5 1054.7 1336 1056.3 1337.4 1057.8 1338.9 1059.3 1340.3 1060.7 1341.8 1062 1343.2 1063.2 1344.7 1064.4 1346.1 1065.6 1347.5 1066.6 1349 1067.7 1350.4 1068.6 1351.9 1069.6 1353.3 1070.4 1354.8 1071.3 1356.2 1072 1357.7 1072.8 1359.1 1073.5 1360.6 1074.1 1362 1074.7 1363.4 1075.3 1364.9 1075.9 1366.3 1076.4 1367.8 1076.9 1369.2 1077.3 1370.7 1077.8 1372.1 1078.2 1373.6 1078.5 1375 1078.9 1376.4 1079.2 1377.9 1079.5 1379.3 1079.8 1380.8 1080.1 1382.2 1080.4 1383.7 1080.6 1385.1 1080.8 1386.6 1081 1388 1081.2 1389.5 1081.4 1390.9 1081.5 1392.3 1081.7 1393.8 1081.8 1395.2 1082 1396.7 1082.1 1398.1 1082.2 1399.6 1082.3 1401 1082.4 1402.5 1082.5 1403.9 1082.6 1405.4 1082.7 1406.8 1082.7 1408.2 1082.8 1409.7 1082.9 1411.1 1082.9 1412.6 1083 1414 1083 1415.5 1083.1 1416.9 1083.1 1418.4 1083.1 1419.8 1083.2 1421.3 1083.2 1422.7 1083.2 1424.1 1083.2 1425.6 1083.3 1427 1083.3 1428.5 1083.3 1429.9 1083.3 1431.4 1083.3 1432.8 1083.4 1434.3 1083.4 1435.7 1083.4 1437.2 1083.4 1438.6 1083.4 1440 1083.4 1441.5 1083.4 1442.9 1083.4 1444.4 1083.4 1445.8 1083.4 1447.3 1083.4 1448.7 1083.5 1450.2 1083.5 1451.6 1083.5 1453 1083.5 1454.5 1083.5 1455.9 1083.5 1457.4 1083.5 1458.8 1083.5 1460.3 1083.5 1461.7 1083.5 1463.2 1083.5" fill="none" stroke="#808000" stroke-width="5" stroke-linejoin="round" stroke-linecap="butt" />
<path d="M886.5 1083.5 887.9 1083.5 889.4 1083.5 890.8 1083.5 892.3 1083.5 893.7 1083.5 895.2 1083.5 896.6 1083.5 898.1 1083.5 899.5 1083.5 901 1083.5 902.4 1083.5 903.8 1083.5 905.3 1083.5 906.7 1083.5 908.2 1083.5 909.6 1083.5 911.1 1083.5 912.5 1083.5 914 1083.5 915.4 1083.5 916.9 1083.5 918.3 1083.5 919.7 1083.5 921.2 1083.5 922.6 1083.5 924.1 1083.5 925.5 1083.5 927 1083.5 928.4 1083.5 929.9 1083.5 931.3 1083.5 932.7 1083.5 934.2 1083.5 935.6 1083.5 937.1 1083.5 938.5 1083.5 940 1083.5 941.4 1083.5 942.9 1083.5 944.3 1083.5 945.8 1083.5 947.2 1083.5 948.6 1083.5 950.1 1083.5 951.5 1083.5 953 1083.5 954.4 1083.5 955.9 1083.5 957.3 1083.5 958.8 1083.4 960.2 1083.4 961.7 1083.4 963.1 1083.4 964.5 1083.4 966 1083.4 967.4 1083.4 968.9 1083.4 970.3 1083.4 971.8 1083.4 973.2 1083.4 974.7 1083.3 976.1 1083.3 977.6 1083.3 979 1083.3 980.4 1083.3 981.9 1083.2 983.3 1083.2 984.8 1083.2 986.2 1083.2 987.7 1083.1 989.1 1083.1 990.6 1083 992 1083 993.5 1083 994.9 1082.9 996.3 1082.9 997.8 1082.8 999.2 1082.7 1000.7 1082.7 1002.1 1082.6 1003.6 1082.5 1005 1082.4 1006.5 1082.3 1007.9 1082.2 1009.3 1082.1 1010.8 1082 1012.2 1081.9 1013.7 1081.7 1015.1 1081.6 1016.6 1081.4 1018 1081.2 1019.5 1081 1020.9 1080.8 1022.4 1080.6 1023.8 1080.4 1025.2 1080.2 1026.7 1079.9 1028.1 1079.6 1029.6 1079.3 1031 1079 1032.5 1078.7 1033.9 1078.3 1035.4 1077.9 1036.8 1077.5 1038.3 1077 1039.7 1076.6 1041.1 1076.1 1042.6 1075.5 1044 1075 1045.5 1074.4 1046.9 1073.8 1048.4 1073.1 1049.8 1072.4 1051.3 1071.6 1052.7 1070.8 1054.2 1070 1055.6 1069.1 1057 1068.2 1058.5 1067.2 1059.9 1066.1 1061.4 1065.1 1062.8 1063.9 1064.3 1062.7 1065.7 1061.4 1067.2 1060.1 1068.6 1058.7 1070.1 1057.2 1071.5 1055.7 1072.9 1054.1 1074.4 1052.4 1075.8 1050.7 1077.3 1048.8 1078.7 1046.9 1080.2 1044.9 1081.6 1042.8 1083.1 1040.7 1084.5 1038.4 1085.9 1036.1 1087.4 1033.7 1088.8 1031.1 1090.3 1028.5 1091.7 1025.8 1093.2 1023 1094.6 1020.1 1096.1 1017 1097.5 1013.9 1099 1010.7 1100.4 1007.4 1101.8 1004 1103.3 1000.4 1104.7 996.8 1106.2 993.1 1107.6 989.2 1109.1 985.3 1110.5 981.2 1112 977.1 1113.4 972.9 1114.9 968.5 1116.3 964.1 1117.7 959.5 1119.2 954.9 1120.6 950.2 1122.1 945.3 1123.5 940.4 1125 935.5 1126.4 930.4 1127.9 925.2 1129.3 920 1130.8 914.7 1132.2 909.4 1133.6 904 1135.1 898.5 1136.5 893 1138 887.4 1139.4 881.8 1140.9 876.2 1142.3 870.5 1143.8 864.8 1145.2 859.1 1146.7 853.4 1148.1 847.7 1149.5 841.9 1151 836.2 1152.4 830.6 1153.9 824.9 1155.3 819.3 1156.8 813.7 1158.2 808.2 1159.7 802.7 1161.1 797.3 1162.5 791.9 1164 786.7 1165.4 781.5 1166.9 776.5 1168.3 771.5 1169.8 766.6 1171.2 761.9 1172.7 757.3 1174.1 752.8 1175.6 748.5 1177 744.3 1178.4 740.3 1179.9 736.5 1181.3 732.8 1182.8 729.3 1184.2 725.9 1185.7 722.8 1187.1 719.9 1188.6 717.1 1190 714.6 1191.5 712.2 1192.9 710.1 1194.3 708.2 1195.8 706.5 1197.2 705 1198.7 703.8 1200.1 702.8 1201.6 702 1203 701.5 1204.5 701.1 1205.9 701 1207.4 701.2 1208.8 701.6 1210.2 702.2 1211.7 703 1213.1 704.1 1214.6 705.4 1216 706.9 1217.5 708.6 1218.9 710.6 1220.4 712.8 1221.8 715.1 1223.2 717.7 1224.7 720.5 1226.1 723.5 1227.6 726.7 1229 730.1 1230.5 733.6 1231.9 737.4 1233.4 741.3 1234.8 745.3 1236.3 749.5 1237.7 753.9 1239.1 758.4 1240.6 763 1242 767.8 1243.5 772.7 1244.9 777.6 1246.4 782.7 1247.8 787.9 1249.3 793.2 1250.7 798.5 1252.2 804 1253.6 809.5 1255 815 1256.5 820.6 1257.9 826.2 1259.4 831.9 1260.8 837.6 1262.3 843.3 1263.7 849 1265.2 854.7 1266.6 860.4 1268.1 866.1 1269.5 871.8 1270.9 877.5 1272.4 883.1 1273.8 888.7 1275.3 894.3 1276.7 899.8 1278.2 905.2 1279.6 910.6 1281.1 916 1282.5 921.2 1284 926.5 1285.4 931.6 1286.8 936.6 1288.3 941.6 1289.7 946.5 1291.2 951.3 1292.6 956 1294.1 960.6 1295.5 965.1 1297 969.5 1298.4 973.9 1299.8 978.1 1301.3 982.2 1302.7 986.2 1304.2 990.1 1305.6 994 1307.1 997.7 1308.5 1001.3 1310 1004.8 1311.4 1008.2 1312.9 1011.5 1314.3 1014.7 1315.7 1017.8 1317.2 1020.7 1318.6 1023.6 1320.1 1026.4 1321.5 1029.1 1323 1031.7 1324.4 1034.2 1325.9 1036.6 1327.3 1039 1328.8 1041.2 1330.2 1043.3 1331.6 1045.4 1333.1 1047.4 1334.5 1049.3 1336 1051.1 1337.4 1052.8 1338.9 1054.5 1340.3 1056.1 1341.8 1057.6 1343.2 1059 1344.7 1060.4 1346.1 1061.7 1347.5 1063 1349 1064.2 1350.4 1065.3 1351.9 1066.4 1353.3 1067.4 1354.8 1068.4 1356.2 1069.3 1357.7 1070.2 1359.1 1071 1360.6 1071.8 1362 1072.5 1363.4 1073.2 1364.9 1073.9 1366.3 1074.5 1367.8 1075.1 1369.2 1075.7 1370.7 1076.2 1372.1 1076.7 1373.6 1077.1 1375 1077.6 1376.4 1078 1377.9 1078.4 1379.3 1078.7 1380.8 1079.1 1382.2 1079.4 1383.7 1079.7 1385.1 1080 1386.6 1080.2 1388 1080.5 1389.5 1080.7 1390.9 1080.9 1392.3 1081.1 1393.8 1081.3 1395.2 1081.4 1396.7 1081.6 1398.1 1081.7 1399.6 1081.9 1401 1082 1402.5 1082.1 1403.9 1082.2 1405.4 1082.3 1406.8 1082.4 1408.2 1082.5 1409.7 1082.6 1411.1 1082.7 1412.6 1082.7 1414 1082.8 1415.5 1082.9 1416.9 1082.9 1418.4 1083 1419.8 1083 1421.3 1083.1 1422.7 1083.1 1424.1 1083.1 1425.6 1083.2 1427 1083.2 1428.5 1083.2 1429.9 1083.2 1431.4 1083.3 1432.8 1083.3 1434.3 1083.3 1435.7 1083.3 1437.2 1083.3 1438.6 1083.4 1440 1083.4 1441.5 1083.4 1442.9 1083.4 1444.4 1083.4 1445.8 1083.4 1447.3 1083.4 1448.7 1083.4 1450.2 1083.4 1451.6 1083.4 1453 1083.4 1454.5 1083.5 1455.9 1083.5 1457.4 1083.5 1458.8 1083.5 1460.3 1083.5 1461.7 1083.5 1463.2 1083.5" fill="none" stroke="#8000ff" stroke-width="5" stroke-linejoin="round" stroke-linecap="butt" />
<line x1="903.7" y1="690.1" x2="959.9" y2="690.1" stroke="#ff0000" stroke-width="5.3" stroke-linecap="butt"/>
<text x="962.8" y="698.1" font-family="'Liberation Serif', serif" font-size="22.6" font-weight="normal" text-anchor="start" fill="#000" >15.2 kV/cm</text>
<line x1="903.7" y1="718.1" x2="959.9" y2="718.1" stroke="#0000ff" stroke-width="5.3" stroke-linecap="butt"/>
<text x="962.8" y="726.1" font-family="'Liberation Serif', serif" font-size="22.6" font-weight="normal" text-anchor="start" fill="#000" >17.8 kV/cm</text>
<line x1="903.7" y1="746.1" x2="959.9" y2="746.1" stroke="#00ff00" stroke-width="5.3" stroke-linecap="butt"/>
<text x="962.8" y="754.1" font-family="'Liberation Serif', serif" font-size="22.6" font-weight="normal" text-anchor="start" fill="#000" >20.5 kV/cm</text>
<line x1="903.7" y1="774.1" x2="959.9" y2="774.1" stroke="#ff00ff" stroke-width="5.3" stroke-linecap="butt"/>
<text x="962.8" y="782.1" font-family="'Liberation Serif', serif" font-size="22.6" font-weight="normal" text-anchor="start" fill="#000" >23.2 kV/cm</text>
<line x1="903.7" y1="802.1" x2="959.9" y2="802.1" stroke="#808000" stroke-width="5.3" stroke-linecap="butt"/>
<text x="962.8" y="810.1" font-family="'Liberation Serif', serif" font-size="22.6" font-weight="normal" text-anchor="start" fill="#000" >26.6 kV/cm</text>
<line x1="903.7" y1="830.1" x2="959.9" y2="830.1" stroke="#8000ff" stroke-width="5.3" stroke-linecap="butt"/>
<text x="962.8" y="838.1" font-family="'Liberation Serif', serif" font-size="22.6" font-weight="normal" text-anchor="start" fill="#000" >29.7 kV/cm</text>
<text x="1173.25" y="1173.2" font-family="'Liberation Serif', serif" font-size="38" font-weight="bold" text-anchor="middle" fill="#000" >Temperature (K)</text>
<text x="840.5" y="880" transform="rotate(-90 840.5 880)" font-family="'Liberation Serif', serif" font-size="37.2" font-weight="bold" text-anchor="middle">&#916;T (K)</text>
<line x1="279.8" y1="1794.8" x2="279.8" y2="1790.3" stroke="#000" stroke-width="4.5" stroke-linecap="butt"/>
<line x1="545.6" y1="1794.8" x2="545.6" y2="1790.3" stroke="#000" stroke-width="4.5" stroke-linecap="butt"/>
<line x1="811.4" y1="1794.8" x2="811.4" y2="1790.3" stroke="#000" stroke-width="4.5" stroke-linecap="butt"/>
<line x1="1077.2" y1="1794.8" x2="1077.2" y2="1790.3" stroke="#000" stroke-width="4.5" stroke-linecap="butt"/>
<line x1="1343" y1="1794.8" x2="1343" y2="1790.3" stroke="#000" stroke-width="4.5" stroke-linecap="butt"/>
<line x1="412.7" y1="1794.8" x2="412.7" y2="1783.8" stroke="#000" stroke-width="4.5" stroke-linecap="butt"/>
<line x1="678.5" y1="1794.8" x2="678.5" y2="1783.8" stroke="#000" stroke-width="4.5" stroke-linecap="butt"/>
<line x1="944.3" y1="1794.8" x2="944.3" y2="1783.8" stroke="#000" stroke-width="4.5" stroke-linecap="butt"/>
<line x1="1210.1" y1="1794.8" x2="1210.1" y2="1783.8" stroke="#000" stroke-width="4.5" stroke-linecap="butt"/>
<line x1="149.4" y1="1738.8" x2="153.9" y2="1738.8" stroke="#000" stroke-width="4.5" stroke-linecap="butt"/>
<line x1="149.4" y1="1621.8" x2="153.9" y2="1621.8" stroke="#000" stroke-width="4.5" stroke-linecap="butt"/>
<line x1="149.4" y1="1504.8" x2="153.9" y2="1504.8" stroke="#000" stroke-width="4.5" stroke-linecap="butt"/>
<line x1="149.4" y1="1387.8" x2="153.9" y2="1387.8" stroke="#000" stroke-width="4.5" stroke-linecap="butt"/>
<line x1="149.4" y1="1270.8" x2="153.9" y2="1270.8" stroke="#000" stroke-width="4.5" stroke-linecap="butt"/>
<line x1="149.4" y1="1680.3" x2="160.4" y2="1680.3" stroke="#000" stroke-width="4.5" stroke-linecap="butt"/>
<line x1="149.4" y1="1563.3" x2="160.4" y2="1563.3" stroke="#000" stroke-width="4.5" stroke-linecap="butt"/>
<line x1="149.4" y1="1446.3" x2="160.4" y2="1446.3" stroke="#000" stroke-width="4.5" stroke-linecap="butt"/>
<line x1="149.4" y1="1329.3" x2="160.4" y2="1329.3" stroke="#000" stroke-width="4.5" stroke-linecap="butt"/>
<rect x="146.9" y="1212" width="1329.4" height="585.3" fill="none" stroke="#000" stroke-width="5"/>
<text x="146.9" y="1845.2" font-family="'Liberation Serif', serif" font-size="41.5" font-weight="bold" text-anchor="middle" fill="#000" >0</text>
<text x="412.7" y="1845.2" font-family="'Liberation Serif', serif" font-size="41.5" font-weight="bold" text-anchor="middle" fill="#000" >5</text>
<text x="678.5" y="1845.2" font-family="'Liberation Serif', serif" font-size="41.5" font-weight="bold" text-anchor="middle" fill="#000" >10</text>
<text x="944.3" y="1845.2" font-family="'Liberation Serif', serif" font-size="41.5" font-weight="bold" text-anchor="middle" fill="#000" >15</text>
<text x="1210.1" y="1845.2" font-family="'Liberation Serif', serif" font-size="41.5" font-weight="bold" text-anchor="middle" fill="#000" >20</text>
<text x="1475.9" y="1845.2" font-family="'Liberation Serif', serif" font-size="41.5" font-weight="bold" text-anchor="middle" fill="#000" >25</text>
<text x="131.5" y="1810.99" font-family="'Liberation Serif', serif" font-size="41.5" font-weight="bold" text-anchor="end" fill="#000" >0</text>
<text x="131.5" y="1693.99" font-family="'Liberation Serif', serif" font-size="41.5" font-weight="bold" text-anchor="end" fill="#000" >10</text>
<text x="131.5" y="1576.99" font-family="'Liberation Serif', serif" font-size="41.5" font-weight="bold" text-anchor="end" fill="#000" >20</text>
<text x="131.5" y="1459.99" font-family="'Liberation Serif', serif" font-size="41.5" font-weight="bold" text-anchor="end" fill="#000" >30</text>
<text x="131.5" y="1342.99" font-family="'Liberation Serif', serif" font-size="41.5" font-weight="bold" text-anchor="end" fill="#000" >40</text>
<text x="131.5" y="1225.99" font-family="'Liberation Serif', serif" font-size="41.5" font-weight="bold" text-anchor="end" fill="#000" >50</text>
<circle cx="168" cy="1784" r="17.5" fill="#000"/>
<rect x="172.1" y="1770.5" width="33.8" height="32.9" fill="#0000ff"/>
<polygon points="359.3,1631.9 381.7,1669.3 336.8,1669.3" fill="#00ffff" />
<polygon points="868.4,1253.4 913.2,1253.4 890.8,1292.5" fill="#ff00ff" />
<polygon points="407,1646.8 431,1670.8 407,1694.8 383,1670.8" fill="#ffff00" />
<polygon points="195.2,1739.9 234.1,1717.4 234.1,1760.2" fill="#808000" />
<polygon points="228.8,1736.7 267.9,1759.1 228.8,1781.6" fill="#000080" />
<polygon points="158.2,1769.9 175.78,1780.05 175.78,1800.35 158.2,1810.5 140.62,1800.35 140.62,1780.05" fill="#800080" />
<polygon points="178.5,1508.12 183.96,1521.26 198.15,1522.39 187.34,1531.65 190.64,1545.49 178.5,1538.08 166.36,1545.49 169.66,1531.65 158.85,1522.39 173.04,1521.26" fill="none" stroke="#800000" stroke-width="2.6" stroke-linejoin="miter"/>
<line x1="157.2" y1="1506.2" x2="199.8" y2="1548.8" stroke="#800000" stroke-width="2.6" stroke-linecap="butt"/>
<line x1="157.2" y1="1548.8" x2="199.8" y2="1506.2" stroke="#800000" stroke-width="2.6" stroke-linecap="butt"/>
<circle cx="412.2" cy="1796.6" r="18.7" fill="#0000a0"/>
<circle cx="407.1" cy="1792.2" r="9.7" fill="#7272c8"/>
<circle cx="407.1" cy="1792.2" r="6.5" fill="#b0b0e2"/>
<circle cx="407.1" cy="1792.2" r="3.2" fill="#f8f8fc"/>
<circle cx="358.6" cy="1794.4" r="18.4" fill="none" stroke="#ff8000" stroke-width="2.6"/>
<line x1="339.83" y1="1775.63" x2="377.37" y2="1813.17" stroke="#ff8000" stroke-width="2.6" stroke-linecap="butt"/>
<line x1="339.83" y1="1813.17" x2="377.37" y2="1775.63" stroke="#ff8000" stroke-width="2.6" stroke-linecap="butt"/>
<rect x="141.25" y="1789.75" width="14.5" height="14.5" fill="none" stroke="#8000ff" stroke-width="1.5"/>
<line x1="141.25" y1="1789.75" x2="155.75" y2="1804.25" stroke="#8000ff" stroke-width="1.5" stroke-linecap="butt"/>
<line x1="141.25" y1="1804.25" x2="155.75" y2="1789.75" stroke="#8000ff" stroke-width="1.5" stroke-linecap="butt"/>
<polygon points="555.9,1635.6 563.52,1656.72 585.95,1657.44 568.22,1671.2 574.47,1692.76 555.9,1680.16 537.33,1692.76 543.58,1671.2 525.85,1657.44 548.28,1656.72" fill="#ff0000" stroke="#ff0000" stroke-width="1.5" stroke-linejoin="round"/>
<polygon points="1263.2,1629.4 1283.93,1644.46 1276.01,1668.84 1250.39,1668.84 1242.47,1644.46" fill="#008000" />
<text x="497.6" y="1622.1" font-family="'Liberation Serif', serif" font-size="36.5">(iBA)<tspan font-size="24.5" dy="9.4">2</tspan><tspan dy="-9.4">PbCl</tspan><tspan font-size="24.5" dy="9.4">4</tspan></text>
<text x="1149" y="1623.3" font-family="'Liberation Serif', serif" font-size="36.6" font-weight="normal" text-anchor="start" fill="#000" >P(VDF-TrFE)</text>
<circle cx="979.9" cy="1239.7" r="15" fill="#000"/>
<rect x="1128.7" y="1227.1" width="26.6" height="26" fill="#0000ff"/>
<polygon points="979.9,1258.4 997.7,1288.7 962.2,1288.7" fill="#00ffff" />
<polygon points="1195,1267.7 1230.1,1267.7 1213.1,1297.8" fill="#ff00ff" />
<polygon points="979.9,1297.7 998.6,1316.4 979.9,1335.1 961.2,1316.4" fill="#ffff00" />
<polygon points="1151.2,1316.4 1181.7,1299.5 1181.7,1333.8" fill="#808000" />
<polygon points="969.7,1337.5 999.6,1354.8 969.7,1372" fill="#000080" />
<polygon points="1152.5,1338.8 1166.36,1346.8 1166.36,1362.8 1152.5,1370.8 1138.64,1362.8 1138.64,1346.8" fill="#800080" />
<polygon points="979.9,1377.33 984.26,1387.82 995.58,1388.72 986.96,1396.11 989.59,1407.16 979.9,1401.24 970.21,1407.16 972.84,1396.11 964.22,1388.72 975.54,1387.82" fill="none" stroke="#800000" stroke-width="2.3" stroke-linejoin="miter"/>
<line x1="962.9" y1="1375.8" x2="996.9" y2="1409.8" stroke="#800000" stroke-width="2.3" stroke-linecap="butt"/>
<line x1="962.9" y1="1409.8" x2="996.9" y2="1375.8" stroke="#800000" stroke-width="2.3" stroke-linecap="butt"/>
<polygon points="1277.6,1376 1293.77,1387.75 1287.59,1406.75 1267.61,1406.75 1261.43,1387.75" fill="#008000" />
<circle cx="979.9" cy="1425.6" r="15" fill="#0000a0"/>
<circle cx="975.81" cy="1422.07" r="7.78" fill="#7272c8"/>
<circle cx="975.81" cy="1422.07" r="5.21" fill="#b0b0e2"/>
<circle cx="975.81" cy="1422.07" r="2.57" fill="#f8f8fc"/>
<circle cx="1189.2" cy="1425.6" r="14.5" fill="none" stroke="#ff8000" stroke-width="2.2"/>
<line x1="1174.41" y1="1410.81" x2="1203.99" y2="1440.39" stroke="#ff8000" stroke-width="2.2" stroke-linecap="butt"/>
<line x1="1174.41" y1="1440.39" x2="1203.99" y2="1410.81" stroke="#ff8000" stroke-width="2.2" stroke-linecap="butt"/>
<rect x="972.65" y="1450.35" width="14.5" height="14.5" fill="none" stroke="#8000ff" stroke-width="1.5"/>
<line x1="972.65" y1="1450.35" x2="987.15" y2="1464.85" stroke="#8000ff" stroke-width="1.5" stroke-linecap="butt"/>
<line x1="972.65" y1="1464.85" x2="987.15" y2="1450.35" stroke="#8000ff" stroke-width="1.5" stroke-linecap="butt"/>
<polygon points="979.9,1479.3 983.9,1490 995.31,1490.49 986.37,1497.6 989.42,1508.61 979.9,1502.3 970.38,1508.61 973.43,1497.6 964.49,1490.49 975.9,1490" fill="#ff0000" stroke="#ff0000" stroke-width="1" stroke-linejoin="round"/>
<text x="1015.6" y="1249" font-family="'Liberation Serif', serif" font-size="26.3"><tspan dy="-0">KH</tspan><tspan font-size="18" dy="7">2</tspan><tspan dy="-7">PO</tspan><tspan font-size="18" dy="7">4</tspan></text>
<text x="1177.5" y="1249" font-family="'Liberation Serif', serif" font-size="26.3"><tspan dy="-0">BaTiO</tspan><tspan font-size="18" dy="7">3</tspan></text>
<text x="1015.6" y="1286.4" font-family="'Liberation Serif', serif" font-size="26.3"><tspan dy="-0">PbZr</tspan><tspan font-size="18" dy="7">0.95</tspan><tspan dy="-7">Ti</tspan><tspan font-size="18" dy="7">0.05</tspan><tspan dy="-7">O</tspan><tspan font-size="18" dy="7">3</tspan></text>
<text x="1248.4" y="1286.2" font-family="'Liberation Serif', serif" font-size="26.3"><tspan dy="-0">Pb</tspan><tspan font-size="18" dy="7">0.8</tspan><tspan dy="-7">Ba</tspan><tspan font-size="18" dy="7">0.2</tspan><tspan dy="-7">ZrO</tspan><tspan font-size="18" dy="7">3</tspan></text>
<text x="1015.6" y="1324.8" font-family="'Liberation Serif', serif" font-size="26.3"><tspan dy="-0">Hf</tspan><tspan font-size="18" dy="7">0.5</tspan><tspan dy="-7">Zr</tspan><tspan font-size="18" dy="7">0.5</tspan><tspan dy="-7">O</tspan><tspan font-size="18" dy="7">2</tspan></text>
<text x="1208.3" y="1324.3" font-family="'Liberation Serif', serif" font-size="26.3"><tspan dy="-0">SrBi</tspan><tspan font-size="18" dy="7">2</tspan><tspan dy="-7">Ta</tspan><tspan font-size="18" dy="7">2</tspan><tspan dy="-7">O</tspan><tspan font-size="18" dy="7">9</tspan></text>
<text x="1015.6" y="1363.2" font-family="'Liberation Serif', serif" font-size="26.3"><tspan dy="-0">CuInP</tspan><tspan font-size="18" dy="7">2</tspan><tspan dy="-7">S</tspan><tspan font-size="18" dy="7">6</tspan></text>
<text x="1188" y="1363.4" font-family="'Liberation Serif', serif" font-size="26.3" font-weight="normal" text-anchor="start" fill="#000" >0.87PMN-0.13PT</text>
<text x="1015.6" y="1401.8" font-family="'Liberation Serif', serif" font-size="26.3" font-weight="normal" text-anchor="start" fill="#000" >BNBT/BCZT bilayer</text>
<text x="1313.2" y="1401.5" font-family="'Liberation Serif', serif" font-size="26.3" font-weight="normal" text-anchor="start" fill="#000" >P(VDF-TrFE)</text>
<text x="1015.6" y="1434" font-family="'Liberation Serif', serif" font-size="26.3" font-weight="normal" text-anchor="start" fill="#000" >Rochelle salt</text>
<text x="1225.3" y="1433.6" font-family="'Liberation Serif', serif" font-size="26.3" font-weight="normal" text-anchor="start" fill="#000" >TGS</text>
<text x="1015.6" y="1467.3" font-family="'Liberation Serif', serif" font-size="26.3"><tspan dy="-0">NH</tspan><tspan font-size="18" dy="7">4</tspan><tspan dy="-7">HSO</tspan><tspan font-size="18" dy="7">4</tspan></text>
<text x="1016.6" y="1504.4" font-family="'Liberation Serif', serif" font-size="26.3" font-weight="normal" text-anchor="start" fill="#000" >This Work</text>
<text x="811.4" y="1928.3" font-family="'Liberation Serif', serif" font-size="59.5" font-weight="bold" text-anchor="middle" fill="#000" >Q (kJ/kg)</text>
<text x="53.8" y="1467.4" transform="rotate(-90 53.8 1467.4)" font-family="'Liberation Serif', serif" font-size="59.3" font-weight="bold" text-anchor="middle">&#916;T (K)</text>
</svg>
</body></html>
